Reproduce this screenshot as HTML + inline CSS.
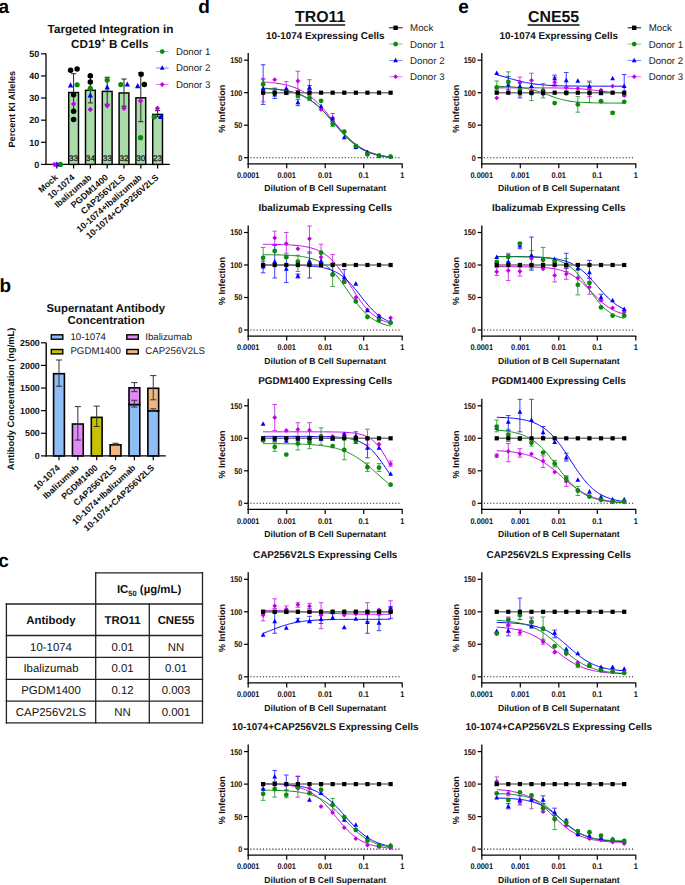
<!DOCTYPE html>
<html><head><meta charset="utf-8"><style>
html,body{margin:0;padding:0;background:#fff;}
svg{display:block;}
text{font-family:"Liberation Sans", sans-serif;text-rendering:geometricPrecision;}
</style></head><body>
<svg width="685" height="885" viewBox="0 0 685 885">
<rect width="685" height="885" fill="#fff"/>
<text x="-1.50" y="12.90" font-size="19" font-weight="bold" text-anchor="start" fill="#000" >a</text>
<text x="-0.60" y="292.30" font-size="19" font-weight="bold" text-anchor="start" fill="#000" >b</text>
<text x="-1.80" y="567.30" font-size="19" font-weight="bold" text-anchor="start" fill="#000" >c</text>
<text x="198.30" y="12.90" font-size="19" font-weight="bold" text-anchor="start" fill="#000" >d</text>
<text x="458.20" y="12.90" font-size="19" font-weight="bold" text-anchor="start" fill="#000" >e</text>
<text x="110.50" y="33.20" font-size="11.7" font-weight="bold" text-anchor="middle" fill="#111" >Targeted Integration in</text>
<text x="109.8" y="47.7" font-size="11.7" font-weight="bold" text-anchor="middle" fill="#111">CD19<tspan font-size="8" dy="-4.5">+</tspan><tspan dy="4.5"> B Cells</tspan></text>
<line x1="46.00" y1="53.40" x2="46.00" y2="165.00" stroke="#000" stroke-width="1.3" />
<line x1="45.40" y1="164.40" x2="169.80" y2="164.40" stroke="#000" stroke-width="1.3" />
<line x1="41.00" y1="164.40" x2="46.00" y2="164.40" stroke="#000" stroke-width="1.2" />
<text x="39.20" y="167.70" font-size="9.0" font-weight="bold" text-anchor="end" fill="#111" >0</text>
<line x1="41.00" y1="142.28" x2="46.00" y2="142.28" stroke="#000" stroke-width="1.2" />
<text x="39.20" y="145.58" font-size="9.0" font-weight="bold" text-anchor="end" fill="#111" >10</text>
<line x1="41.00" y1="120.16" x2="46.00" y2="120.16" stroke="#000" stroke-width="1.2" />
<text x="39.20" y="123.46" font-size="9.0" font-weight="bold" text-anchor="end" fill="#111" >20</text>
<line x1="41.00" y1="98.04" x2="46.00" y2="98.04" stroke="#000" stroke-width="1.2" />
<text x="39.20" y="101.34" font-size="9.0" font-weight="bold" text-anchor="end" fill="#111" >30</text>
<line x1="41.00" y1="75.92" x2="46.00" y2="75.92" stroke="#000" stroke-width="1.2" />
<text x="39.20" y="79.22" font-size="9.0" font-weight="bold" text-anchor="end" fill="#111" >40</text>
<line x1="41.00" y1="53.80" x2="46.00" y2="53.80" stroke="#000" stroke-width="1.2" />
<text x="39.20" y="57.10" font-size="9.0" font-weight="bold" text-anchor="end" fill="#111" >50</text>
<text transform="translate(15.2,109.2) rotate(-90)" font-size="9.1" font-weight="bold" text-anchor="middle" fill="#111">Percent KI Alleles</text>
<rect x="68.70" y="92.51" width="9.8" height="71.89" fill="#aadcaa" stroke="#000" stroke-width="1.45"/>
<rect x="85.50" y="90.30" width="9.8" height="74.10" fill="#aadcaa" stroke="#000" stroke-width="1.45"/>
<rect x="102.30" y="91.40" width="9.8" height="73.00" fill="#aadcaa" stroke="#000" stroke-width="1.45"/>
<rect x="119.10" y="92.95" width="9.8" height="71.45" fill="#aadcaa" stroke="#000" stroke-width="1.45"/>
<rect x="135.90" y="97.82" width="9.8" height="66.58" fill="#aadcaa" stroke="#000" stroke-width="1.45"/>
<rect x="152.70" y="114.41" width="9.8" height="49.99" fill="#aadcaa" stroke="#000" stroke-width="1.45"/>
<line x1="56.80" y1="164.40" x2="56.80" y2="168.60" stroke="#000" stroke-width="1.2" />
<line x1="73.60" y1="164.40" x2="73.60" y2="168.60" stroke="#000" stroke-width="1.2" />
<line x1="90.40" y1="164.40" x2="90.40" y2="168.60" stroke="#000" stroke-width="1.2" />
<line x1="107.20" y1="164.40" x2="107.20" y2="168.60" stroke="#000" stroke-width="1.2" />
<line x1="124.00" y1="164.40" x2="124.00" y2="168.60" stroke="#000" stroke-width="1.2" />
<line x1="140.80" y1="164.40" x2="140.80" y2="168.60" stroke="#000" stroke-width="1.2" />
<line x1="157.60" y1="164.40" x2="157.60" y2="168.60" stroke="#000" stroke-width="1.2" />
<line x1="73.60" y1="111.31" x2="73.60" y2="73.71" stroke="#222" stroke-width="1.0" />
<line x1="71.00" y1="73.71" x2="76.20" y2="73.71" stroke="#222" stroke-width="1.0" />
<line x1="71.00" y1="111.31" x2="76.20" y2="111.31" stroke="#222" stroke-width="1.0" />
<line x1="90.40" y1="102.91" x2="90.40" y2="77.25" stroke="#222" stroke-width="1.0" />
<line x1="87.80" y1="77.25" x2="93.00" y2="77.25" stroke="#222" stroke-width="1.0" />
<line x1="87.80" y1="102.91" x2="93.00" y2="102.91" stroke="#222" stroke-width="1.0" />
<line x1="107.20" y1="104.23" x2="107.20" y2="77.25" stroke="#222" stroke-width="1.0" />
<line x1="104.60" y1="77.25" x2="109.80" y2="77.25" stroke="#222" stroke-width="1.0" />
<line x1="104.60" y1="104.23" x2="109.80" y2="104.23" stroke="#222" stroke-width="1.0" />
<line x1="124.00" y1="106.22" x2="124.00" y2="79.02" stroke="#222" stroke-width="1.0" />
<line x1="121.40" y1="79.02" x2="126.60" y2="79.02" stroke="#222" stroke-width="1.0" />
<line x1="121.40" y1="106.22" x2="126.60" y2="106.22" stroke="#222" stroke-width="1.0" />
<line x1="140.80" y1="121.71" x2="140.80" y2="72.60" stroke="#222" stroke-width="1.0" />
<line x1="138.20" y1="72.60" x2="143.40" y2="72.60" stroke="#222" stroke-width="1.0" />
<line x1="138.20" y1="121.71" x2="143.40" y2="121.71" stroke="#222" stroke-width="1.0" />
<line x1="157.60" y1="116.84" x2="157.60" y2="110.65" stroke="#222" stroke-width="1.0" />
<line x1="155.00" y1="110.65" x2="160.20" y2="110.65" stroke="#222" stroke-width="1.0" />
<line x1="155.00" y1="116.84" x2="160.20" y2="116.84" stroke="#222" stroke-width="1.0" />
<circle cx="60.40" cy="164.40" r="2.6" fill="#0b8a0b"/>
<path d="M56.80 161.32L59.50 166.45L54.10 166.45Z" fill="#0000ff"/>
<path d="M54.40 161.70L57.10 164.40L54.40 167.10L51.70 164.40Z" fill="#c400e8"/>
<circle cx="70.60" cy="70.17" r="2.75" fill="#000"/>
<circle cx="77.10" cy="69.06" r="2.75" fill="#000"/>
<circle cx="73.60" cy="94.72" r="2.75" fill="#000"/>
<circle cx="73.60" cy="111.31" r="2.75" fill="#000"/>
<circle cx="73.60" cy="119.50" r="2.75" fill="#000"/>
<path d="M70.60 82.35L73.30 87.48L67.90 87.48Z" fill="#0000ff"/>
<circle cx="77.10" cy="84.77" r="2.6" fill="#0b8a0b"/>
<path d="M73.60 101.31L76.30 104.01L73.60 106.71L70.90 104.01Z" fill="#c400e8"/>
<circle cx="90.30" cy="75.70" r="2.75" fill="#000"/>
<circle cx="90.30" cy="81.89" r="2.75" fill="#000"/>
<circle cx="90.30" cy="88.31" r="2.6" fill="#0b8a0b"/>
<path d="M90.30 92.31L93.00 97.44L87.60 97.44Z" fill="#0000ff"/>
<path d="M90.30 106.84L93.00 109.54L90.30 112.24L87.60 109.54Z" fill="#c400e8"/>
<circle cx="107.20" cy="80.12" r="2.6" fill="#0b8a0b"/>
<path d="M107.20 84.34L109.90 89.47L104.50 89.47Z" fill="#0000ff"/>
<path d="M107.20 103.08L109.90 105.78L107.20 108.48L104.50 105.78Z" fill="#c400e8"/>
<circle cx="120.80" cy="84.55" r="2.6" fill="#0b8a0b"/>
<path d="M127.30 81.47L130.00 86.60L124.60 86.60Z" fill="#0000ff"/>
<path d="M124.00 105.52L126.70 108.22L124.00 110.92L121.30 108.22Z" fill="#c400e8"/>
<circle cx="141.10" cy="74.15" r="2.75" fill="#000"/>
<circle cx="144.30" cy="84.55" r="2.75" fill="#000"/>
<path d="M137.70 83.02L140.40 88.15L135.00 88.15Z" fill="#0000ff"/>
<path d="M140.60 98.22L143.30 100.92L140.60 103.62L137.90 100.92Z" fill="#c400e8"/>
<circle cx="140.60" cy="137.63" r="2.6" fill="#0b8a0b"/>
<path d="M157.40 105.52L160.10 108.22L157.40 110.92L154.70 108.22Z" fill="#c400e8"/>
<circle cx="154.20" cy="116.84" r="2.6" fill="#0b8a0b"/>
<path d="M160.70 113.76L163.40 118.89L158.00 118.89Z" fill="#0000ff"/>
<text x="73.60" y="160.80" font-size="8.2" font-weight="normal" text-anchor="middle" fill="#1a1a1a" stroke="#1a1a1a" stroke-width="0.3">33</text>
<text x="90.40" y="160.80" font-size="8.2" font-weight="normal" text-anchor="middle" fill="#1a1a1a" stroke="#1a1a1a" stroke-width="0.3">34</text>
<text x="107.20" y="160.80" font-size="8.2" font-weight="normal" text-anchor="middle" fill="#1a1a1a" stroke="#1a1a1a" stroke-width="0.3">33</text>
<text x="124.00" y="160.80" font-size="8.2" font-weight="normal" text-anchor="middle" fill="#1a1a1a" stroke="#1a1a1a" stroke-width="0.3">32</text>
<text x="140.80" y="160.80" font-size="8.2" font-weight="normal" text-anchor="middle" fill="#1a1a1a" stroke="#1a1a1a" stroke-width="0.3">30</text>
<text x="157.60" y="160.80" font-size="8.2" font-weight="normal" text-anchor="middle" fill="#1a1a1a" stroke="#1a1a1a" stroke-width="0.3">23</text>
<text transform="translate(58.40,178.40) rotate(-41)" font-size="8.8" font-weight="bold" text-anchor="end" fill="#111">Mock</text>
<text transform="translate(75.20,178.40) rotate(-41)" font-size="8.8" font-weight="bold" text-anchor="end" fill="#111">10-1074</text>
<text transform="translate(92.00,178.40) rotate(-41)" font-size="8.8" font-weight="bold" text-anchor="end" fill="#111">Ibalizumab</text>
<text transform="translate(108.80,178.40) rotate(-41)" font-size="8.8" font-weight="bold" text-anchor="end" fill="#111">PGDM1400</text>
<text transform="translate(125.60,178.40) rotate(-41)" font-size="8.8" font-weight="bold" text-anchor="end" fill="#111">CAP256V2LS</text>
<text transform="translate(142.40,178.40) rotate(-41)" font-size="8.8" font-weight="bold" text-anchor="end" fill="#111">10-1074+Ibalizumab</text>
<text transform="translate(159.20,178.40) rotate(-41)" font-size="8.8" font-weight="bold" text-anchor="end" fill="#111">10-1074+CAP256V2LS</text>
<line x1="155.80" y1="51.60" x2="168.70" y2="51.60" stroke="#7fc77f" stroke-width="1.0" />
<circle cx="162.20" cy="51.60" r="2.4" fill="#0b8a0b"/>
<text x="175.90" y="55.00" font-size="9.7" font-weight="normal" text-anchor="start" fill="#222" >Donor 1</text>
<line x1="155.80" y1="68.05" x2="168.70" y2="68.05" stroke="#8080ff" stroke-width="1.0" />
<path d="M162.20 65.31L164.60 69.87L159.80 69.87Z" fill="#0000ff"/>
<text x="175.90" y="71.45" font-size="9.7" font-weight="normal" text-anchor="start" fill="#222" >Donor 2</text>
<line x1="155.80" y1="84.50" x2="168.70" y2="84.50" stroke="#e080f5" stroke-width="1.0" />
<path d="M162.20 82.10L164.60 84.50L162.20 86.90L159.80 84.50Z" fill="#c400e8"/>
<text x="175.90" y="87.90" font-size="9.7" font-weight="normal" text-anchor="start" fill="#222" >Donor 3</text>
<text x="105.80" y="312.40" font-size="11.4" font-weight="bold" text-anchor="middle" fill="#111" >Supernatant Antibody</text>
<text x="106.10" y="324.00" font-size="11.4" font-weight="bold" text-anchor="middle" fill="#111" >Concentration</text>
<line x1="46.20" y1="342.80" x2="46.20" y2="456.50" stroke="#000" stroke-width="1.4" />
<line x1="45.50" y1="455.90" x2="165.80" y2="455.90" stroke="#000" stroke-width="1.4" />
<line x1="41.00" y1="455.90" x2="46.00" y2="455.90" stroke="#000" stroke-width="1.2" />
<text x="39.80" y="459.10" font-size="8.9" font-weight="bold" text-anchor="end" fill="#111" >0</text>
<line x1="41.00" y1="433.28" x2="46.00" y2="433.28" stroke="#000" stroke-width="1.2" />
<text x="39.80" y="436.48" font-size="8.9" font-weight="bold" text-anchor="end" fill="#111" >500</text>
<line x1="41.00" y1="410.66" x2="46.00" y2="410.66" stroke="#000" stroke-width="1.2" />
<text x="39.80" y="413.86" font-size="8.9" font-weight="bold" text-anchor="end" fill="#111" >1000</text>
<line x1="41.00" y1="388.04" x2="46.00" y2="388.04" stroke="#000" stroke-width="1.2" />
<text x="39.80" y="391.24" font-size="8.9" font-weight="bold" text-anchor="end" fill="#111" >1500</text>
<line x1="41.00" y1="365.42" x2="46.00" y2="365.42" stroke="#000" stroke-width="1.2" />
<text x="39.80" y="368.62" font-size="8.9" font-weight="bold" text-anchor="end" fill="#111" >2000</text>
<line x1="41.00" y1="342.80" x2="46.00" y2="342.80" stroke="#000" stroke-width="1.2" />
<text x="39.80" y="346.00" font-size="8.9" font-weight="bold" text-anchor="end" fill="#111" >2500</text>
<text transform="translate(14.2,399.0) rotate(-90)" font-size="9.3" font-weight="bold" text-anchor="middle" fill="#111">Antibody Concentration (ng/mL)</text>
<rect x="53.60" y="373.70" width="10.8" height="82.20" fill="#8fbef6" stroke="#000" stroke-width="1.6"/>
<line x1="59.00" y1="386.23" x2="59.00" y2="359.99" stroke="#333" stroke-width="1.0" />
<line x1="55.90" y1="359.99" x2="62.10" y2="359.99" stroke="#333" stroke-width="1.0" />
<line x1="55.90" y1="386.23" x2="62.10" y2="386.23" stroke="#333" stroke-width="1.0" />
<rect x="72.45" y="424.01" width="10.8" height="31.89" fill="#e08af6" stroke="#000" stroke-width="1.6"/>
<line x1="77.85" y1="440.07" x2="77.85" y2="406.59" stroke="#333" stroke-width="1.0" />
<line x1="74.75" y1="406.59" x2="80.95" y2="406.59" stroke="#333" stroke-width="1.0" />
<line x1="74.75" y1="440.07" x2="80.95" y2="440.07" stroke="#333" stroke-width="1.0" />
<rect x="91.30" y="417.36" width="10.8" height="38.54" fill="#c6c200" stroke="#000" stroke-width="1.6"/>
<line x1="96.70" y1="426.49" x2="96.70" y2="406.14" stroke="#333" stroke-width="1.0" />
<line x1="93.60" y1="406.14" x2="99.80" y2="406.14" stroke="#333" stroke-width="1.0" />
<line x1="93.60" y1="426.49" x2="99.80" y2="426.49" stroke="#333" stroke-width="1.0" />
<rect x="110.15" y="444.82" width="10.8" height="11.08" fill="#f2b682" stroke="#000" stroke-width="1.6"/>
<line x1="115.55" y1="444.82" x2="115.55" y2="443.23" stroke="#333" stroke-width="1.0" />
<line x1="112.45" y1="443.23" x2="118.65" y2="443.23" stroke="#333" stroke-width="1.0" />
<line x1="112.45" y1="444.82" x2="118.65" y2="444.82" stroke="#333" stroke-width="1.0" />
<rect x="129.00" y="404.55" width="10.8" height="51.35" fill="#8fbef6" stroke="#000" stroke-width="1.6"/>
<rect x="129.00" y="387.81" width="10.8" height="16.74" fill="#e08af6" stroke="#000" stroke-width="1.6"/>
<line x1="134.40" y1="407.04" x2="134.40" y2="400.25" stroke="#333" stroke-width="1.0" />
<line x1="131.30" y1="400.25" x2="137.50" y2="400.25" stroke="#333" stroke-width="1.0" />
<line x1="131.30" y1="407.04" x2="137.50" y2="407.04" stroke="#333" stroke-width="1.0" />
<line x1="134.40" y1="391.66" x2="134.40" y2="382.61" stroke="#333" stroke-width="1.0" />
<line x1="131.30" y1="382.61" x2="137.50" y2="382.61" stroke="#333" stroke-width="1.0" />
<line x1="131.30" y1="391.66" x2="137.50" y2="391.66" stroke="#333" stroke-width="1.0" />
<rect x="147.85" y="410.89" width="10.8" height="45.01" fill="#8fbef6" stroke="#000" stroke-width="1.6"/>
<rect x="147.85" y="388.27" width="10.8" height="22.62" fill="#f2b682" stroke="#000" stroke-width="1.6"/>
<line x1="153.25" y1="411.11" x2="153.25" y2="408.85" stroke="#333" stroke-width="1.0" />
<line x1="150.15" y1="408.85" x2="156.35" y2="408.85" stroke="#333" stroke-width="1.0" />
<line x1="150.15" y1="411.11" x2="156.35" y2="411.11" stroke="#333" stroke-width="1.0" />
<line x1="153.25" y1="399.80" x2="153.25" y2="375.60" stroke="#333" stroke-width="1.0" />
<line x1="150.15" y1="375.60" x2="156.35" y2="375.60" stroke="#333" stroke-width="1.0" />
<line x1="150.15" y1="399.80" x2="156.35" y2="399.80" stroke="#333" stroke-width="1.0" />
<line x1="59.00" y1="455.90" x2="59.00" y2="460.20" stroke="#000" stroke-width="1.2" />
<line x1="77.85" y1="455.90" x2="77.85" y2="460.20" stroke="#000" stroke-width="1.2" />
<line x1="96.70" y1="455.90" x2="96.70" y2="460.20" stroke="#000" stroke-width="1.2" />
<line x1="115.55" y1="455.90" x2="115.55" y2="460.20" stroke="#000" stroke-width="1.2" />
<line x1="134.40" y1="455.90" x2="134.40" y2="460.20" stroke="#000" stroke-width="1.2" />
<line x1="153.25" y1="455.90" x2="153.25" y2="460.20" stroke="#000" stroke-width="1.2" />
<text transform="translate(60.60,468.60) rotate(-43)" font-size="8.8" font-weight="bold" text-anchor="end" fill="#111">10-1074</text>
<text transform="translate(79.45,468.60) rotate(-43)" font-size="8.8" font-weight="bold" text-anchor="end" fill="#111">Ibalizumab</text>
<text transform="translate(98.30,468.60) rotate(-43)" font-size="8.8" font-weight="bold" text-anchor="end" fill="#111">PGDM1400</text>
<text transform="translate(117.15,468.60) rotate(-43)" font-size="8.8" font-weight="bold" text-anchor="end" fill="#111">CAP256V2LS</text>
<text transform="translate(136.00,468.60) rotate(-43)" font-size="8.8" font-weight="bold" text-anchor="end" fill="#111">10-1074+Ibalizumab</text>
<text transform="translate(154.85,468.60) rotate(-43)" font-size="8.8" font-weight="bold" text-anchor="end" fill="#111">10-1074+CAP256V2LS</text>
<rect x="51.30" y="334.80" width="11.5" height="4.4" fill="#8fbef6" stroke="#000" stroke-width="1.4"/>
<text x="70.40" y="339.70" font-size="9.7" font-weight="normal" text-anchor="start" fill="#222" >10-1074</text>
<rect x="126.80" y="334.80" width="11.5" height="4.4" fill="#e08af6" stroke="#000" stroke-width="1.4"/>
<text x="145.20" y="339.70" font-size="9.7" font-weight="normal" text-anchor="start" fill="#222" >Ibalizumab</text>
<rect x="51.30" y="349.50" width="11.5" height="4.4" fill="#c6c200" stroke="#000" stroke-width="1.4"/>
<text x="70.40" y="354.40" font-size="9.7" font-weight="normal" text-anchor="start" fill="#222" >PGDM1400</text>
<rect x="126.80" y="349.50" width="11.5" height="4.4" fill="#f2b682" stroke="#000" stroke-width="1.4"/>
<text x="145.20" y="354.40" font-size="9.7" font-weight="normal" text-anchor="start" fill="#222" >CAP256V2LS</text>
<line x1="95.70" y1="572.80" x2="202.50" y2="572.80" stroke="#222" stroke-width="1.3" stroke-linecap="square"/>
<line x1="6.40" y1="604.00" x2="202.50" y2="604.00" stroke="#222" stroke-width="1.3" stroke-linecap="square"/>
<line x1="6.40" y1="635.50" x2="202.50" y2="635.50" stroke="#222" stroke-width="1.3" stroke-linecap="square"/>
<line x1="6.40" y1="657.30" x2="202.50" y2="657.30" stroke="#222" stroke-width="1.3" stroke-linecap="square"/>
<line x1="6.40" y1="679.40" x2="202.50" y2="679.40" stroke="#222" stroke-width="1.3" stroke-linecap="square"/>
<line x1="6.40" y1="701.20" x2="202.50" y2="701.20" stroke="#222" stroke-width="1.3" stroke-linecap="square"/>
<line x1="6.40" y1="722.90" x2="202.50" y2="722.90" stroke="#222" stroke-width="1.3" stroke-linecap="square"/>
<line x1="6.40" y1="604.00" x2="6.40" y2="722.90" stroke="#222" stroke-width="1.3" stroke-linecap="square"/>
<line x1="95.70" y1="572.80" x2="95.70" y2="722.90" stroke="#222" stroke-width="1.3" stroke-linecap="square"/>
<line x1="149.30" y1="604.00" x2="149.30" y2="722.90" stroke="#222" stroke-width="1.3" stroke-linecap="square"/>
<line x1="202.50" y1="572.80" x2="202.50" y2="722.90" stroke="#222" stroke-width="1.3" stroke-linecap="square"/>
<text x="149.1" y="593.0" font-size="11.4" font-weight="bold" text-anchor="middle" fill="#111">IC<tspan font-size="7.5" dy="2.5">50</tspan><tspan dy="-2.5"> (µg/mL)</tspan></text>
<text x="51.00" y="623.50" font-size="11.4" font-weight="bold" text-anchor="middle" fill="#111" >Antibody</text>
<text x="122.50" y="623.50" font-size="11.4" font-weight="bold" text-anchor="middle" fill="#111" >TRO11</text>
<text x="176.00" y="623.50" font-size="11.4" font-weight="bold" text-anchor="middle" fill="#111" >CNE55</text>
<text x="51.00" y="650.50" font-size="11.4" font-weight="normal" text-anchor="middle" fill="#111" >10-1074</text>
<text x="122.50" y="650.50" font-size="11.4" font-weight="normal" text-anchor="middle" fill="#111" >0.01</text>
<text x="176.00" y="650.50" font-size="11.4" font-weight="normal" text-anchor="middle" fill="#111" >NN</text>
<text x="51.00" y="672.45" font-size="11.4" font-weight="normal" text-anchor="middle" fill="#111" >Ibalizumab</text>
<text x="122.50" y="672.45" font-size="11.4" font-weight="normal" text-anchor="middle" fill="#111" >0.01</text>
<text x="176.00" y="672.45" font-size="11.4" font-weight="normal" text-anchor="middle" fill="#111" >0.01</text>
<text x="51.00" y="694.40" font-size="11.4" font-weight="normal" text-anchor="middle" fill="#111" >PGDM1400</text>
<text x="122.50" y="694.40" font-size="11.4" font-weight="normal" text-anchor="middle" fill="#111" >0.12</text>
<text x="176.00" y="694.40" font-size="11.4" font-weight="normal" text-anchor="middle" fill="#111" >0.003</text>
<text x="51.00" y="716.15" font-size="11.4" font-weight="normal" text-anchor="middle" fill="#111" >CAP256V2LS</text>
<text x="122.50" y="716.15" font-size="11.4" font-weight="normal" text-anchor="middle" fill="#111" >NN</text>
<text x="176.00" y="716.15" font-size="11.4" font-weight="normal" text-anchor="middle" fill="#111" >0.001</text>
<text x="320.2" y="22.4" font-size="15.9" font-weight="bold" text-anchor="middle" fill="#111">TRO11</text>
<line x1="295.20" y1="25.00" x2="345.20" y2="25.00" stroke="#111" stroke-width="1.4" />
<text x="553.6" y="22.4" font-size="15.9" font-weight="bold" text-anchor="middle" fill="#111">CNE55</text>
<line x1="527.60" y1="25.00" x2="579.60" y2="25.00" stroke="#111" stroke-width="1.4" />
<text x="325.20" y="38.80" font-size="9.9" font-weight="bold" text-anchor="middle" fill="#111" >10-1074 Expressing Cells</text>
<line x1="250.30" y1="157.70" x2="400.80" y2="157.70" stroke="#222" stroke-width="1.05" stroke-dasharray="1.15 2.0"/>
<line x1="248.20" y1="53.10" x2="248.20" y2="164.40" stroke="#000" stroke-width="1.3" />
<line x1="247.60" y1="163.80" x2="402.60" y2="163.80" stroke="#000" stroke-width="1.3" />
<line x1="244.00" y1="157.70" x2="248.20" y2="157.70" stroke="#000" stroke-width="1.2" />
<text x="242.30" y="160.60" font-size="8.2" font-weight="bold" text-anchor="end" textLength="4.06" lengthAdjust="spacingAndGlyphs" fill="#111">0</text>
<line x1="244.00" y1="125.20" x2="248.20" y2="125.20" stroke="#000" stroke-width="1.2" />
<text x="242.30" y="128.10" font-size="8.2" font-weight="bold" text-anchor="end" textLength="8.12" lengthAdjust="spacingAndGlyphs" fill="#111">50</text>
<line x1="244.00" y1="92.70" x2="248.20" y2="92.70" stroke="#000" stroke-width="1.2" />
<text x="242.30" y="95.60" font-size="8.2" font-weight="bold" text-anchor="end" textLength="12.17" lengthAdjust="spacingAndGlyphs" fill="#111">100</text>
<line x1="244.00" y1="60.20" x2="248.20" y2="60.20" stroke="#000" stroke-width="1.2" />
<text x="242.30" y="63.10" font-size="8.2" font-weight="bold" text-anchor="end" textLength="12.17" lengthAdjust="spacingAndGlyphs" fill="#111">150</text>
<line x1="248.20" y1="163.80" x2="248.20" y2="168.30" stroke="#000" stroke-width="1.2" />
<text x="248.20" y="178.00" font-size="8.2" font-weight="bold" text-anchor="middle" textLength="22.57" lengthAdjust="spacingAndGlyphs" fill="#111">0.0001</text>
<line x1="286.70" y1="163.80" x2="286.70" y2="168.30" stroke="#000" stroke-width="1.2" />
<text x="286.70" y="178.00" font-size="8.2" font-weight="bold" text-anchor="middle" textLength="18.46" lengthAdjust="spacingAndGlyphs" fill="#111">0.001</text>
<line x1="325.20" y1="163.80" x2="325.20" y2="168.30" stroke="#000" stroke-width="1.2" />
<text x="325.20" y="178.00" font-size="8.2" font-weight="bold" text-anchor="middle" textLength="14.36" lengthAdjust="spacingAndGlyphs" fill="#111">0.01</text>
<line x1="363.70" y1="163.80" x2="363.70" y2="168.30" stroke="#000" stroke-width="1.2" />
<text x="363.70" y="178.00" font-size="8.2" font-weight="bold" text-anchor="middle" textLength="10.26" lengthAdjust="spacingAndGlyphs" fill="#111">0.1</text>
<line x1="402.20" y1="163.80" x2="402.20" y2="168.30" stroke="#000" stroke-width="1.2" />
<text x="402.20" y="178.00" font-size="8.2" font-weight="bold" text-anchor="middle" textLength="4.10" lengthAdjust="spacingAndGlyphs" fill="#111">1</text>
<text x="325.20" y="191.40" font-size="8.6" font-weight="bold" text-anchor="middle" fill="#111" >Dilution of B Cell Supernatant</text>
<text transform="translate(225.20,108.80) rotate(-90)" font-size="9.0" font-weight="bold" text-anchor="middle" fill="#111">% Infection</text>
<g stroke="#0000ff" stroke-width="1.0" opacity="0.75">
<line x1="263.12" y1="104.40" x2="263.12" y2="64.75" stroke="#0000ff" stroke-width="1.0" />
<line x1="260.82" y1="104.40" x2="265.42" y2="104.40" stroke="#0000ff" stroke-width="1.0" />
<line x1="260.82" y1="64.75" x2="265.42" y2="64.75" stroke="#0000ff" stroke-width="1.0" />
</g>
<g stroke="#0000ff" stroke-width="1.0" opacity="0.75">
<line x1="274.71" y1="98.55" x2="274.71" y2="88.15" stroke="#0000ff" stroke-width="1.0" />
<line x1="272.41" y1="98.55" x2="277.01" y2="98.55" stroke="#0000ff" stroke-width="1.0" />
<line x1="272.41" y1="88.15" x2="277.01" y2="88.15" stroke="#0000ff" stroke-width="1.0" />
</g>
<g stroke="#0000ff" stroke-width="1.0" opacity="0.75">
<line x1="297.89" y1="105.70" x2="297.89" y2="99.20" stroke="#0000ff" stroke-width="1.0" />
<line x1="295.59" y1="105.70" x2="300.19" y2="105.70" stroke="#0000ff" stroke-width="1.0" />
<line x1="295.59" y1="99.20" x2="300.19" y2="99.20" stroke="#0000ff" stroke-width="1.0" />
</g>
<g stroke="#0000ff" stroke-width="1.0" opacity="0.75">
<line x1="309.48" y1="91.40" x2="309.48" y2="85.55" stroke="#0000ff" stroke-width="1.0" />
<line x1="307.18" y1="91.40" x2="311.78" y2="91.40" stroke="#0000ff" stroke-width="1.0" />
<line x1="307.18" y1="85.55" x2="311.78" y2="85.55" stroke="#0000ff" stroke-width="1.0" />
</g>
<g stroke="#c400e8" stroke-width="1.0" opacity="0.75">
<line x1="263.12" y1="101.80" x2="263.12" y2="78.40" stroke="#c400e8" stroke-width="1.0" />
<line x1="260.82" y1="101.80" x2="265.42" y2="101.80" stroke="#c400e8" stroke-width="1.0" />
<line x1="260.82" y1="78.40" x2="265.42" y2="78.40" stroke="#c400e8" stroke-width="1.0" />
</g>
<g stroke="#c400e8" stroke-width="1.0" opacity="0.75">
<line x1="286.30" y1="94.65" x2="286.30" y2="81.65" stroke="#c400e8" stroke-width="1.0" />
<line x1="284.00" y1="94.65" x2="288.60" y2="94.65" stroke="#c400e8" stroke-width="1.0" />
<line x1="284.00" y1="81.65" x2="288.60" y2="81.65" stroke="#c400e8" stroke-width="1.0" />
</g>
<g stroke="#c400e8" stroke-width="1.0" opacity="0.75">
<line x1="297.89" y1="90.75" x2="297.89" y2="71.25" stroke="#c400e8" stroke-width="1.0" />
<line x1="295.59" y1="90.75" x2="300.19" y2="90.75" stroke="#c400e8" stroke-width="1.0" />
<line x1="295.59" y1="71.25" x2="300.19" y2="71.25" stroke="#c400e8" stroke-width="1.0" />
</g>
<g stroke="#c400e8" stroke-width="1.0" opacity="0.75">
<line x1="309.48" y1="99.20" x2="309.48" y2="79.70" stroke="#c400e8" stroke-width="1.0" />
<line x1="307.18" y1="99.20" x2="311.78" y2="99.20" stroke="#c400e8" stroke-width="1.0" />
<line x1="307.18" y1="79.70" x2="311.78" y2="79.70" stroke="#c400e8" stroke-width="1.0" />
</g>
<g stroke="#c400e8" stroke-width="1.0" opacity="0.75">
<line x1="332.66" y1="121.30" x2="332.66" y2="113.50" stroke="#c400e8" stroke-width="1.0" />
<line x1="330.36" y1="121.30" x2="334.96" y2="121.30" stroke="#c400e8" stroke-width="1.0" />
<line x1="330.36" y1="113.50" x2="334.96" y2="113.50" stroke="#c400e8" stroke-width="1.0" />
</g>
<g stroke="#0b8a0b" stroke-width="1.0" opacity="0.75">
<line x1="263.12" y1="92.70" x2="263.12" y2="79.70" stroke="#0b8a0b" stroke-width="1.0" />
<line x1="260.82" y1="92.70" x2="265.42" y2="92.70" stroke="#0b8a0b" stroke-width="1.0" />
<line x1="260.82" y1="79.70" x2="265.42" y2="79.70" stroke="#0b8a0b" stroke-width="1.0" />
</g>
<g stroke="#0b8a0b" stroke-width="1.0" opacity="0.75">
<line x1="309.48" y1="100.50" x2="309.48" y2="95.30" stroke="#0b8a0b" stroke-width="1.0" />
<line x1="307.18" y1="100.50" x2="311.78" y2="100.50" stroke="#0b8a0b" stroke-width="1.0" />
<line x1="307.18" y1="95.30" x2="311.78" y2="95.30" stroke="#0b8a0b" stroke-width="1.0" />
</g>
<g stroke="#0b8a0b" stroke-width="1.0" opacity="0.75">
<line x1="332.66" y1="126.50" x2="332.66" y2="121.30" stroke="#0b8a0b" stroke-width="1.0" />
<line x1="330.36" y1="126.50" x2="334.96" y2="126.50" stroke="#0b8a0b" stroke-width="1.0" />
<line x1="330.36" y1="121.30" x2="334.96" y2="121.30" stroke="#0b8a0b" stroke-width="1.0" />
</g>
<polyline points="263.12,81.98 264.19,82.05 265.25,82.12 266.31,82.19 267.37,82.27 268.44,82.36 269.50,82.45 270.56,82.55 271.62,82.66 272.69,82.77 273.75,82.89 274.81,83.01 275.87,83.15 276.94,83.29 278.00,83.44 279.06,83.61 280.12,83.78 281.18,83.97 282.25,84.16 283.31,84.37 284.37,84.59 285.43,84.83 286.50,85.08 287.56,85.34 288.62,85.63 289.68,85.92 290.75,86.24 291.81,86.58 292.87,86.93 293.93,87.31 295.00,87.71 296.06,88.13 297.12,88.57 298.18,89.04 299.25,89.53 300.31,90.05 301.37,90.60 302.43,91.18 303.49,91.78 304.56,92.42 305.62,93.08 306.68,93.78 307.74,94.51 308.81,95.27 309.87,96.07 310.93,96.89 311.99,97.75 313.06,98.65 314.12,99.58 315.18,100.54 316.24,101.53 317.31,102.55 318.37,103.61 319.43,104.70 320.49,105.81 321.56,106.95 322.62,108.12 323.68,109.31 324.74,110.53 325.80,111.76 326.87,113.01 327.93,114.28 328.99,115.56 330.05,116.85 331.12,118.14 332.18,119.44 333.24,120.74 334.30,122.04 335.37,123.34 336.43,124.62 337.49,125.90 338.55,127.16 339.62,128.41 340.68,129.64 341.74,130.86 342.80,132.04 343.87,133.21 344.93,134.35 345.99,135.46 347.05,136.54 348.11,137.59 349.18,138.61 350.24,139.60 351.30,140.56 352.36,141.48 353.43,142.37 354.49,143.23 355.55,144.05 356.61,144.84 357.68,145.60 358.74,146.32 359.80,147.01 360.86,147.67 361.93,148.30 362.99,148.91 364.05,149.48 365.11,150.02 366.18,150.54 367.24,151.03 368.30,151.49 369.36,151.93 370.43,152.35 371.49,152.75 372.55,153.12 373.61,153.47 374.67,153.80 375.74,154.12 376.80,154.42 377.86,154.69 378.92,154.96 379.99,155.21 381.05,155.44 382.11,155.66 383.17,155.87 384.24,156.06 385.30,156.24 386.36,156.42 387.42,156.58 388.49,156.73 389.55,156.87 390.61,157.01" fill="none" stroke="#c400e8" stroke-width="1.0"/>
<polyline points="263.12,88.49 264.19,88.53 265.25,88.59 266.31,88.64 267.37,88.70 268.44,88.76 269.50,88.83 270.56,88.90 271.62,88.98 272.69,89.06 273.75,89.15 274.81,89.24 275.87,89.34 276.94,89.45 278.00,89.56 279.06,89.68 280.12,89.81 281.18,89.95 282.25,90.10 283.31,90.26 284.37,90.43 285.43,90.61 286.50,90.81 287.56,91.01 288.62,91.23 289.68,91.47 290.75,91.72 291.81,91.98 292.87,92.26 293.93,92.56 295.00,92.88 296.06,93.22 297.12,93.58 298.18,93.96 299.25,94.36 300.31,94.79 301.37,95.24 302.43,95.72 303.49,96.22 304.56,96.75 305.62,97.31 306.68,97.90 307.74,98.52 308.81,99.18 309.87,99.86 310.93,100.57 311.99,101.32 313.06,102.10 314.12,102.92 315.18,103.76 316.24,104.65 317.31,105.56 318.37,106.51 319.43,107.49 320.49,108.50 321.56,109.54 322.62,110.60 323.68,111.70 324.74,112.82 325.80,113.97 326.87,115.13 327.93,116.32 328.99,117.52 330.05,118.74 331.12,119.96 332.18,121.20 333.24,122.44 334.30,123.68 335.37,124.93 336.43,126.17 337.49,127.40 338.55,128.62 339.62,129.83 340.68,131.03 341.74,132.20 342.80,133.36 343.87,134.50 344.93,135.61 345.99,136.69 347.05,137.75 348.11,138.77 349.18,139.77 350.24,140.74 351.30,141.67 352.36,142.57 353.43,143.43 354.49,144.27 355.55,145.07 356.61,145.83 357.68,146.57 358.74,147.27 359.80,147.94 360.86,148.57 361.93,149.18 362.99,149.76 364.05,150.31 365.11,150.83 366.18,151.32 367.24,151.78 368.30,152.22 369.36,152.64 370.43,153.03 371.49,153.41 372.55,153.76 373.61,154.08 374.67,154.40 375.74,154.69 376.80,154.96 377.86,155.22 378.92,155.46 379.99,155.69 381.05,155.90 382.11,156.10 383.17,156.29 384.24,156.47 385.30,156.63 386.36,156.79 387.42,156.93 388.49,157.07 389.55,157.20 390.61,157.32" fill="none" stroke="#0000ff" stroke-width="1.0"/>
<polyline points="263.12,88.21 264.19,88.26 265.25,88.31 266.31,88.37 267.37,88.43 268.44,88.50 269.50,88.57 270.56,88.64 271.62,88.72 272.69,88.81 273.75,88.90 274.81,88.99 275.87,89.10 276.94,89.21 278.00,89.33 279.06,89.45 280.12,89.59 281.18,89.73 282.25,89.89 283.31,90.05 284.37,90.22 285.43,90.41 286.50,90.61 287.56,90.82 288.62,91.04 289.68,91.28 290.75,91.53 291.81,91.80 292.87,92.09 293.93,92.39 295.00,92.71 296.06,93.05 297.12,93.42 298.18,93.80 299.25,94.20 300.31,94.63 301.37,95.09 302.43,95.56 303.49,96.07 304.56,96.60 305.62,97.16 306.68,97.75 307.74,98.36 308.81,99.01 309.87,99.69 310.93,100.40 311.99,101.14 313.06,101.91 314.12,102.72 315.18,103.56 316.24,104.43 317.31,105.33 318.37,106.27 319.43,107.23 320.49,108.23 321.56,109.25 322.62,110.30 323.68,111.38 324.74,112.48 325.80,113.61 326.87,114.76 327.93,115.93 328.99,117.11 330.05,118.31 331.12,119.51 332.18,120.73 333.24,121.95 334.30,123.18 335.37,124.41 336.43,125.63 337.49,126.85 338.55,128.06 339.62,129.26 340.68,130.44 341.74,131.61 342.80,132.76 343.87,133.89 344.93,134.99 345.99,136.08 347.05,137.13 348.11,138.16 349.18,139.16 350.24,140.13 351.30,141.06 352.36,141.97 353.43,142.84 354.49,143.69 355.55,144.50 356.61,145.27 357.68,146.02 358.74,146.73 359.80,147.41 360.86,148.06 361.93,148.68 362.99,149.28 364.05,149.84 365.11,150.37 366.18,150.88 367.24,151.36 368.30,151.82 369.36,152.25 370.43,152.66 371.49,153.04 372.55,153.41 373.61,153.75 374.67,154.07 375.74,154.38 376.80,154.67 377.86,154.94 378.92,155.19 379.99,155.43 381.05,155.66 382.11,155.87 383.17,156.07 384.24,156.26 385.30,156.43 386.36,156.60 387.42,156.75 388.49,156.90 389.55,157.03 390.61,157.16" fill="none" stroke="#0b8a0b" stroke-width="1.0"/>
<polyline points="263.12,92.70 274.71,92.70 286.30,92.70 297.89,92.70 309.48,92.70 321.07,92.70 332.66,92.70 344.25,92.70 355.84,92.70 367.43,92.70 379.02,92.70 390.61,92.70" fill="none" stroke="#777" stroke-width="1.5"/>
<path d="M263.12 87.05L265.52 89.45L263.12 91.85L260.72 89.45Z" fill="#c400e8"/>
<path d="M274.71 77.30L277.11 79.70L274.71 82.10L272.31 79.70Z" fill="#c400e8"/>
<path d="M286.30 87.05L288.70 89.45L286.30 91.85L283.90 89.45Z" fill="#c400e8"/>
<path d="M297.89 78.60L300.29 81.00L297.89 83.40L295.49 81.00Z" fill="#c400e8"/>
<path d="M309.48 87.05L311.88 89.45L309.48 91.85L307.08 89.45Z" fill="#c400e8"/>
<path d="M321.07 107.20L323.47 109.60L321.07 112.00L318.67 109.60Z" fill="#c400e8"/>
<path d="M332.66 115.65L335.06 118.05L332.66 120.45L330.26 118.05Z" fill="#c400e8"/>
<path d="M344.25 129.30L346.65 131.70L344.25 134.10L341.85 131.70Z" fill="#c400e8"/>
<path d="M355.84 144.90L358.24 147.30L355.84 149.70L353.44 147.30Z" fill="#c400e8"/>
<path d="M367.43 150.10L369.83 152.50L367.43 154.90L365.03 152.50Z" fill="#c400e8"/>
<path d="M379.02 153.35L381.42 155.75L379.02 158.15L376.62 155.75Z" fill="#c400e8"/>
<path d="M390.61 154.32L393.01 156.72L390.61 159.12L388.21 156.72Z" fill="#c400e8"/>
<path d="M263.12 86.06L265.52 90.62L260.72 90.62Z" fill="#0000ff"/>
<path d="M274.71 91.91L277.11 96.47L272.31 96.47Z" fill="#0000ff"/>
<path d="M286.30 86.06L288.70 90.62L283.90 90.62Z" fill="#0000ff"/>
<path d="M297.89 99.71L300.29 104.27L295.49 104.27Z" fill="#0000ff"/>
<path d="M309.48 84.76L311.88 89.32L307.08 89.32Z" fill="#0000ff"/>
<path d="M321.07 103.61L323.47 108.17L318.67 108.17Z" fill="#0000ff"/>
<path d="M332.66 115.96L335.06 120.52L330.26 120.52Z" fill="#0000ff"/>
<path d="M344.25 134.81L346.65 139.37L341.85 139.37Z" fill="#0000ff"/>
<path d="M355.84 144.56L358.24 149.12L353.44 149.12Z" fill="#0000ff"/>
<path d="M367.43 149.76L369.83 154.32L365.03 154.32Z" fill="#0000ff"/>
<path d="M379.02 153.01L381.42 157.57L376.62 157.57Z" fill="#0000ff"/>
<path d="M390.61 153.66L393.01 158.22L388.21 158.22Z" fill="#0000ff"/>
<circle cx="263.12" cy="84.25" r="2.4" fill="#0b8a0b"/>
<circle cx="274.71" cy="92.70" r="2.4" fill="#0b8a0b"/>
<circle cx="286.30" cy="92.70" r="2.4" fill="#0b8a0b"/>
<circle cx="297.89" cy="95.95" r="2.4" fill="#0b8a0b"/>
<circle cx="309.48" cy="97.90" r="2.4" fill="#0b8a0b"/>
<circle cx="321.07" cy="100.82" r="2.4" fill="#0b8a0b"/>
<circle cx="332.66" cy="123.90" r="2.4" fill="#0b8a0b"/>
<circle cx="344.25" cy="131.70" r="2.4" fill="#0b8a0b"/>
<circle cx="355.84" cy="146.00" r="2.4" fill="#0b8a0b"/>
<circle cx="367.43" cy="154.45" r="2.4" fill="#0b8a0b"/>
<circle cx="379.02" cy="155.75" r="2.4" fill="#0b8a0b"/>
<circle cx="390.61" cy="156.72" r="2.4" fill="#0b8a0b"/>
<rect x="261.02" y="90.60" width="4.2" height="4.2" fill="#000"/>
<rect x="272.61" y="90.60" width="4.2" height="4.2" fill="#000"/>
<rect x="284.20" y="90.60" width="4.2" height="4.2" fill="#000"/>
<rect x="295.79" y="90.60" width="4.2" height="4.2" fill="#000"/>
<rect x="307.38" y="90.60" width="4.2" height="4.2" fill="#000"/>
<rect x="318.97" y="90.60" width="4.2" height="4.2" fill="#000"/>
<rect x="330.56" y="90.60" width="4.2" height="4.2" fill="#000"/>
<rect x="342.15" y="90.60" width="4.2" height="4.2" fill="#000"/>
<rect x="353.74" y="90.60" width="4.2" height="4.2" fill="#000"/>
<rect x="365.33" y="90.60" width="4.2" height="4.2" fill="#000"/>
<rect x="376.92" y="90.60" width="4.2" height="4.2" fill="#000"/>
<rect x="388.51" y="90.60" width="4.2" height="4.2" fill="#000"/>
<line x1="389.00" y1="27.80" x2="402.50" y2="27.80" stroke="#111" stroke-width="1.0" />
<rect x="393.40" y="25.60" width="4.4" height="4.4" fill="#000"/>
<text x="410.10" y="31.30" font-size="9.7" font-weight="normal" text-anchor="start" fill="#222" >Mock</text>
<line x1="389.00" y1="44.10" x2="402.50" y2="44.10" stroke="#7fc77f" stroke-width="1.0" />
<circle cx="395.60" cy="44.10" r="2.4" fill="#0b8a0b"/>
<text x="410.10" y="47.60" font-size="9.7" font-weight="normal" text-anchor="start" fill="#222" >Donor 1</text>
<line x1="389.00" y1="60.40" x2="402.50" y2="60.40" stroke="#8080ff" stroke-width="1.0" />
<path d="M395.60 57.66L398.00 62.22L393.20 62.22Z" fill="#0000ff"/>
<text x="410.10" y="63.90" font-size="9.7" font-weight="normal" text-anchor="start" fill="#222" >Donor 2</text>
<line x1="389.00" y1="76.70" x2="402.50" y2="76.70" stroke="#e080f5" stroke-width="1.0" />
<path d="M395.60 74.30L398.00 76.70L395.60 79.10L393.20 76.70Z" fill="#c400e8"/>
<text x="410.10" y="80.20" font-size="9.7" font-weight="normal" text-anchor="start" fill="#222" >Donor 3</text>
<text x="325.20" y="211.10" font-size="9.9" font-weight="bold" text-anchor="middle" fill="#111" >Ibalizumab Expressing Cells</text>
<line x1="250.30" y1="330.00" x2="400.80" y2="330.00" stroke="#222" stroke-width="1.05" stroke-dasharray="1.15 2.0"/>
<line x1="248.20" y1="225.40" x2="248.20" y2="336.70" stroke="#000" stroke-width="1.3" />
<line x1="247.60" y1="336.10" x2="402.60" y2="336.10" stroke="#000" stroke-width="1.3" />
<line x1="244.00" y1="330.00" x2="248.20" y2="330.00" stroke="#000" stroke-width="1.2" />
<text x="242.30" y="332.90" font-size="8.2" font-weight="bold" text-anchor="end" textLength="4.06" lengthAdjust="spacingAndGlyphs" fill="#111">0</text>
<line x1="244.00" y1="297.50" x2="248.20" y2="297.50" stroke="#000" stroke-width="1.2" />
<text x="242.30" y="300.40" font-size="8.2" font-weight="bold" text-anchor="end" textLength="8.12" lengthAdjust="spacingAndGlyphs" fill="#111">50</text>
<line x1="244.00" y1="265.00" x2="248.20" y2="265.00" stroke="#000" stroke-width="1.2" />
<text x="242.30" y="267.90" font-size="8.2" font-weight="bold" text-anchor="end" textLength="12.17" lengthAdjust="spacingAndGlyphs" fill="#111">100</text>
<line x1="244.00" y1="232.50" x2="248.20" y2="232.50" stroke="#000" stroke-width="1.2" />
<text x="242.30" y="235.40" font-size="8.2" font-weight="bold" text-anchor="end" textLength="12.17" lengthAdjust="spacingAndGlyphs" fill="#111">150</text>
<line x1="248.20" y1="336.10" x2="248.20" y2="340.60" stroke="#000" stroke-width="1.2" />
<text x="248.20" y="350.30" font-size="8.2" font-weight="bold" text-anchor="middle" textLength="22.57" lengthAdjust="spacingAndGlyphs" fill="#111">0.0001</text>
<line x1="286.70" y1="336.10" x2="286.70" y2="340.60" stroke="#000" stroke-width="1.2" />
<text x="286.70" y="350.30" font-size="8.2" font-weight="bold" text-anchor="middle" textLength="18.46" lengthAdjust="spacingAndGlyphs" fill="#111">0.001</text>
<line x1="325.20" y1="336.10" x2="325.20" y2="340.60" stroke="#000" stroke-width="1.2" />
<text x="325.20" y="350.30" font-size="8.2" font-weight="bold" text-anchor="middle" textLength="14.36" lengthAdjust="spacingAndGlyphs" fill="#111">0.01</text>
<line x1="363.70" y1="336.10" x2="363.70" y2="340.60" stroke="#000" stroke-width="1.2" />
<text x="363.70" y="350.30" font-size="8.2" font-weight="bold" text-anchor="middle" textLength="10.26" lengthAdjust="spacingAndGlyphs" fill="#111">0.1</text>
<line x1="402.20" y1="336.10" x2="402.20" y2="340.60" stroke="#000" stroke-width="1.2" />
<text x="402.20" y="350.30" font-size="8.2" font-weight="bold" text-anchor="middle" textLength="4.10" lengthAdjust="spacingAndGlyphs" fill="#111">1</text>
<text x="325.20" y="363.70" font-size="8.6" font-weight="bold" text-anchor="middle" fill="#111" >Dilution of B Cell Supernatant</text>
<text transform="translate(225.20,281.10) rotate(-90)" font-size="9.0" font-weight="bold" text-anchor="middle" fill="#111">% Infection</text>
<g stroke="#0000ff" stroke-width="1.0" opacity="0.75">
<line x1="263.12" y1="272.80" x2="263.12" y2="261.10" stroke="#0000ff" stroke-width="1.0" />
<line x1="260.82" y1="272.80" x2="265.42" y2="272.80" stroke="#0000ff" stroke-width="1.0" />
<line x1="260.82" y1="261.10" x2="265.42" y2="261.10" stroke="#0000ff" stroke-width="1.0" />
</g>
<g stroke="#0000ff" stroke-width="1.0" opacity="0.75">
<line x1="274.71" y1="278.00" x2="274.71" y2="245.50" stroke="#0000ff" stroke-width="1.0" />
<line x1="272.41" y1="278.00" x2="277.01" y2="278.00" stroke="#0000ff" stroke-width="1.0" />
<line x1="272.41" y1="245.50" x2="277.01" y2="245.50" stroke="#0000ff" stroke-width="1.0" />
</g>
<g stroke="#0000ff" stroke-width="1.0" opacity="0.75">
<line x1="286.30" y1="282.55" x2="286.30" y2="255.25" stroke="#0000ff" stroke-width="1.0" />
<line x1="284.00" y1="282.55" x2="288.60" y2="282.55" stroke="#0000ff" stroke-width="1.0" />
<line x1="284.00" y1="255.25" x2="288.60" y2="255.25" stroke="#0000ff" stroke-width="1.0" />
</g>
<g stroke="#0000ff" stroke-width="1.0" opacity="0.75">
<line x1="297.89" y1="278.00" x2="297.89" y2="274.10" stroke="#0000ff" stroke-width="1.0" />
<line x1="295.59" y1="278.00" x2="300.19" y2="278.00" stroke="#0000ff" stroke-width="1.0" />
<line x1="295.59" y1="274.10" x2="300.19" y2="274.10" stroke="#0000ff" stroke-width="1.0" />
</g>
<g stroke="#0000ff" stroke-width="1.0" opacity="0.75">
<line x1="309.48" y1="278.00" x2="309.48" y2="252.00" stroke="#0000ff" stroke-width="1.0" />
<line x1="307.18" y1="278.00" x2="311.78" y2="278.00" stroke="#0000ff" stroke-width="1.0" />
<line x1="307.18" y1="252.00" x2="311.78" y2="252.00" stroke="#0000ff" stroke-width="1.0" />
</g>
<g stroke="#0000ff" stroke-width="1.0" opacity="0.75">
<line x1="344.25" y1="282.55" x2="344.25" y2="269.55" stroke="#0000ff" stroke-width="1.0" />
<line x1="341.95" y1="282.55" x2="346.55" y2="282.55" stroke="#0000ff" stroke-width="1.0" />
<line x1="341.95" y1="269.55" x2="346.55" y2="269.55" stroke="#0000ff" stroke-width="1.0" />
</g>
<g stroke="#c400e8" stroke-width="1.0" opacity="0.75">
<line x1="274.71" y1="244.20" x2="274.71" y2="231.20" stroke="#c400e8" stroke-width="1.0" />
<line x1="272.41" y1="244.20" x2="277.01" y2="244.20" stroke="#c400e8" stroke-width="1.0" />
<line x1="272.41" y1="231.20" x2="277.01" y2="231.20" stroke="#c400e8" stroke-width="1.0" />
</g>
<g stroke="#c400e8" stroke-width="1.0" opacity="0.75">
<line x1="286.30" y1="253.30" x2="286.30" y2="232.50" stroke="#c400e8" stroke-width="1.0" />
<line x1="284.00" y1="253.30" x2="288.60" y2="253.30" stroke="#c400e8" stroke-width="1.0" />
<line x1="284.00" y1="232.50" x2="288.60" y2="232.50" stroke="#c400e8" stroke-width="1.0" />
</g>
<g stroke="#c400e8" stroke-width="1.0" opacity="0.75">
<line x1="309.48" y1="253.30" x2="309.48" y2="226.00" stroke="#c400e8" stroke-width="1.0" />
<line x1="307.18" y1="253.30" x2="311.78" y2="253.30" stroke="#c400e8" stroke-width="1.0" />
<line x1="307.18" y1="226.00" x2="311.78" y2="226.00" stroke="#c400e8" stroke-width="1.0" />
</g>
<g stroke="#c400e8" stroke-width="1.0" opacity="0.75">
<line x1="321.07" y1="262.40" x2="321.07" y2="244.20" stroke="#c400e8" stroke-width="1.0" />
<line x1="318.77" y1="262.40" x2="323.37" y2="262.40" stroke="#c400e8" stroke-width="1.0" />
<line x1="318.77" y1="244.20" x2="323.37" y2="244.20" stroke="#c400e8" stroke-width="1.0" />
</g>
<g stroke="#c400e8" stroke-width="1.0" opacity="0.75">
<line x1="332.66" y1="274.75" x2="332.66" y2="254.60" stroke="#c400e8" stroke-width="1.0" />
<line x1="330.36" y1="274.75" x2="334.96" y2="274.75" stroke="#c400e8" stroke-width="1.0" />
<line x1="330.36" y1="254.60" x2="334.96" y2="254.60" stroke="#c400e8" stroke-width="1.0" />
</g>
<g stroke="#0b8a0b" stroke-width="1.0" opacity="0.75">
<line x1="263.12" y1="265.00" x2="263.12" y2="247.45" stroke="#0b8a0b" stroke-width="1.0" />
<line x1="260.82" y1="265.00" x2="265.42" y2="265.00" stroke="#0b8a0b" stroke-width="1.0" />
<line x1="260.82" y1="247.45" x2="265.42" y2="247.45" stroke="#0b8a0b" stroke-width="1.0" />
</g>
<g stroke="#0b8a0b" stroke-width="1.0" opacity="0.75">
<line x1="297.89" y1="271.50" x2="297.89" y2="255.25" stroke="#0b8a0b" stroke-width="1.0" />
<line x1="295.59" y1="271.50" x2="300.19" y2="271.50" stroke="#0b8a0b" stroke-width="1.0" />
<line x1="295.59" y1="255.25" x2="300.19" y2="255.25" stroke="#0b8a0b" stroke-width="1.0" />
</g>
<g stroke="#0b8a0b" stroke-width="1.0" opacity="0.75">
<line x1="332.66" y1="286.45" x2="332.66" y2="263.05" stroke="#0b8a0b" stroke-width="1.0" />
<line x1="330.36" y1="286.45" x2="334.96" y2="286.45" stroke="#0b8a0b" stroke-width="1.0" />
<line x1="330.36" y1="263.05" x2="334.96" y2="263.05" stroke="#0b8a0b" stroke-width="1.0" />
</g>
<polyline points="263.12,244.29 264.19,244.30 265.25,244.31 266.31,244.32 267.37,244.33 268.44,244.34 269.50,244.35 270.56,244.37 271.62,244.38 272.69,244.40 273.75,244.41 274.81,244.43 275.87,244.45 276.94,244.47 278.00,244.50 279.06,244.52 280.12,244.55 281.18,244.58 282.25,244.61 283.31,244.65 284.37,244.69 285.43,244.73 286.50,244.77 287.56,244.82 288.62,244.87 289.68,244.93 290.75,244.99 291.81,245.06 292.87,245.14 293.93,245.21 295.00,245.30 296.06,245.39 297.12,245.50 298.18,245.61 299.25,245.72 300.31,245.85 301.37,245.99 302.43,246.14 303.49,246.31 304.56,246.48 305.62,246.67 306.68,246.88 307.74,247.10 308.81,247.34 309.87,247.60 310.93,247.88 311.99,248.18 313.06,248.51 314.12,248.86 315.18,249.23 316.24,249.64 317.31,250.07 318.37,250.54 319.43,251.04 320.49,251.58 321.56,252.15 322.62,252.77 323.68,253.42 324.74,254.12 325.80,254.86 326.87,255.65 327.93,256.49 328.99,257.38 330.05,258.32 331.12,259.32 332.18,260.36 333.24,261.47 334.30,262.62 335.37,263.83 336.43,265.09 337.49,266.41 338.55,267.77 339.62,269.19 340.68,270.65 341.74,272.16 342.80,273.70 343.87,275.29 344.93,276.90 345.99,278.55 347.05,280.21 348.11,281.90 349.18,283.60 350.24,285.30 351.30,287.00 352.36,288.70 353.43,290.39 354.49,292.06 355.55,293.71 356.61,295.33 357.68,296.92 358.74,298.48 359.80,299.99 360.86,301.47 361.93,302.89 362.99,304.27 364.05,305.59 365.11,306.87 366.18,308.09 367.24,309.25 368.30,310.36 369.36,311.42 370.43,312.43 371.49,313.38 372.55,314.28 373.61,315.13 374.67,315.93 375.74,316.68 376.80,317.39 377.86,318.05 378.92,318.68 379.99,319.26 381.05,319.80 382.11,320.31 383.17,320.78 384.24,321.22 385.30,321.64 386.36,322.02 387.42,322.37 388.49,322.70 389.55,323.01 390.61,323.29" fill="none" stroke="#c400e8" stroke-width="1.0"/>
<polyline points="263.12,265.02 264.19,265.02 265.25,265.02 266.31,265.03 267.37,265.03 268.44,265.03 269.50,265.03 270.56,265.04 271.62,265.04 272.69,265.04 273.75,265.05 274.81,265.05 275.87,265.06 276.94,265.06 278.00,265.07 279.06,265.07 280.12,265.08 281.18,265.09 282.25,265.10 283.31,265.10 284.37,265.11 285.43,265.12 286.50,265.14 287.56,265.15 288.62,265.16 289.68,265.18 290.75,265.19 291.81,265.21 292.87,265.23 293.93,265.25 295.00,265.27 296.06,265.30 297.12,265.33 298.18,265.36 299.25,265.39 300.31,265.42 301.37,265.46 302.43,265.50 303.49,265.55 304.56,265.60 305.62,265.65 306.68,265.71 307.74,265.78 308.81,265.85 309.87,265.93 310.93,266.01 311.99,266.10 313.06,266.20 314.12,266.31 315.18,266.42 316.24,266.55 317.31,266.69 318.37,266.84 319.43,267.00 320.49,267.18 321.56,267.37 322.62,267.58 323.68,267.80 324.74,268.05 325.80,268.31 326.87,268.60 327.93,268.91 328.99,269.24 330.05,269.60 331.12,269.99 332.18,270.40 333.24,270.85 334.30,271.33 335.37,271.85 336.43,272.40 337.49,272.99 338.55,273.62 339.62,274.29 340.68,275.01 341.74,275.76 342.80,276.57 343.87,277.41 344.93,278.31 345.99,279.24 347.05,280.23 348.11,281.26 349.18,282.33 350.24,283.44 351.30,284.59 352.36,285.79 353.43,287.01 354.49,288.27 355.55,289.55 356.61,290.86 357.68,292.19 358.74,293.53 359.80,294.88 360.86,296.23 361.93,297.58 362.99,298.93 364.05,300.26 365.11,301.58 366.18,302.87 367.24,304.15 368.30,305.39 369.36,306.59 370.43,307.77 371.49,308.90 372.55,309.99 373.61,311.04 374.67,312.04 375.74,313.00 376.80,313.92 377.86,314.79 378.92,315.61 379.99,316.39 381.05,317.12 382.11,317.81 383.17,318.46 384.24,319.07 385.30,319.64 386.36,320.18 387.42,320.67 388.49,321.14 389.55,321.57 390.61,321.97" fill="none" stroke="#0000ff" stroke-width="1.0"/>
<polyline points="263.12,254.70 264.19,254.71 265.25,254.72 266.31,254.73 267.37,254.74 268.44,254.75 269.50,254.76 270.56,254.77 271.62,254.79 272.69,254.81 273.75,254.82 274.81,254.84 275.87,254.86 276.94,254.89 278.00,254.91 279.06,254.94 280.12,254.97 281.18,255.00 282.25,255.03 283.31,255.07 284.37,255.11 285.43,255.15 286.50,255.20 287.56,255.25 288.62,255.30 289.68,255.36 290.75,255.43 291.81,255.50 292.87,255.58 293.93,255.66 295.00,255.75 296.06,255.85 297.12,255.95 298.18,256.07 299.25,256.19 300.31,256.32 301.37,256.47 302.43,256.62 303.49,256.79 304.56,256.98 305.62,257.17 306.68,257.39 307.74,257.62 308.81,257.87 309.87,258.13 310.93,258.42 311.99,258.73 313.06,259.07 314.12,259.43 315.18,259.81 316.24,260.23 317.31,260.67 318.37,261.15 319.43,261.66 320.49,262.21 321.56,262.79 322.62,263.41 323.68,264.07 324.74,264.78 325.80,265.52 326.87,266.31 327.93,267.15 328.99,268.04 330.05,268.97 331.12,269.95 332.18,270.98 333.24,272.06 334.30,273.18 335.37,274.36 336.43,275.58 337.49,276.84 338.55,278.15 339.62,279.49 340.68,280.88 341.74,282.30 342.80,283.74 343.87,285.21 344.93,286.71 345.99,288.22 347.05,289.74 348.11,291.27 349.18,292.80 350.24,294.32 351.30,295.84 352.36,297.34 353.43,298.83 354.49,300.29 355.55,301.72 356.61,303.12 357.68,304.49 358.74,305.81 359.80,307.10 360.86,308.34 361.93,309.54 362.99,310.69 364.05,311.79 365.11,312.84 366.18,313.85 367.24,314.81 368.30,315.71 369.36,316.57 370.43,317.39 371.49,318.16 372.55,318.88 373.61,319.57 374.67,320.21 375.74,320.81 376.80,321.37 377.86,321.90 378.92,322.39 379.99,322.85 381.05,323.28 382.11,323.68 383.17,324.06 384.24,324.40 385.30,324.73 386.36,325.03 387.42,325.30 388.49,325.56 389.55,325.80 390.61,326.02" fill="none" stroke="#0b8a0b" stroke-width="1.0"/>
<polyline points="263.12,265.00 274.71,265.00 286.30,265.00 297.89,265.00 309.48,265.00 321.07,265.00 332.66,265.00 344.25,265.00 355.84,265.00 367.43,265.00 379.02,265.00 390.61,265.00" fill="none" stroke="#777" stroke-width="1.5"/>
<path d="M263.12 264.23L265.52 266.62L263.12 269.02L260.72 266.62Z" fill="#c400e8"/>
<path d="M274.71 235.56L277.11 237.96L274.71 240.36L272.31 237.96Z" fill="#c400e8"/>
<path d="M286.30 241.15L288.70 243.55L286.30 245.95L283.90 243.55Z" fill="#c400e8"/>
<path d="M297.89 246.35L300.29 248.75L297.89 251.15L295.49 248.75Z" fill="#c400e8"/>
<path d="M309.48 236.28L311.88 238.68L309.48 241.08L307.08 238.68Z" fill="#c400e8"/>
<path d="M321.07 254.80L323.47 257.20L321.07 259.60L318.67 257.20Z" fill="#c400e8"/>
<path d="M332.66 262.60L335.06 265.00L332.66 267.40L330.26 265.00Z" fill="#c400e8"/>
<path d="M344.25 278.20L346.65 280.60L344.25 283.00L341.85 280.60Z" fill="#c400e8"/>
<path d="M355.84 295.10L358.24 297.50L355.84 299.90L353.44 297.50Z" fill="#c400e8"/>
<path d="M367.43 307.45L369.83 309.85L367.43 312.25L365.03 309.85Z" fill="#c400e8"/>
<path d="M379.02 313.30L381.42 315.70L379.02 318.10L376.62 315.70Z" fill="#c400e8"/>
<path d="M390.61 315.51L393.01 317.91L390.61 320.31L388.21 317.91Z" fill="#c400e8"/>
<path d="M263.12 263.89L265.52 268.45L260.72 268.45Z" fill="#0000ff"/>
<path d="M274.71 259.01L277.11 263.57L272.31 263.57Z" fill="#0000ff"/>
<path d="M286.30 266.16L288.70 270.72L283.90 270.72Z" fill="#0000ff"/>
<path d="M297.89 273.31L300.29 277.87L295.49 277.87Z" fill="#0000ff"/>
<path d="M309.48 258.36L311.88 262.92L307.08 262.92Z" fill="#0000ff"/>
<path d="M321.07 258.36L323.47 262.92L318.67 262.92Z" fill="#0000ff"/>
<path d="M332.66 270.71L335.06 275.27L330.26 275.27Z" fill="#0000ff"/>
<path d="M344.25 274.61L346.65 279.17L341.85 279.17Z" fill="#0000ff"/>
<path d="M355.84 281.11L358.24 285.67L353.44 285.67Z" fill="#0000ff"/>
<path d="M367.43 307.76L369.83 312.32L365.03 312.32Z" fill="#0000ff"/>
<path d="M379.02 314.26L381.42 318.82L376.62 318.82Z" fill="#0000ff"/>
<path d="M390.61 318.81L393.01 323.37L388.21 323.37Z" fill="#0000ff"/>
<circle cx="263.12" cy="257.85" r="2.4" fill="#0b8a0b"/>
<circle cx="274.71" cy="251.02" r="2.4" fill="#0b8a0b"/>
<circle cx="286.30" cy="257.20" r="2.4" fill="#0b8a0b"/>
<circle cx="297.89" cy="261.75" r="2.4" fill="#0b8a0b"/>
<circle cx="309.48" cy="265.00" r="2.4" fill="#0b8a0b"/>
<circle cx="321.07" cy="252.65" r="2.4" fill="#0b8a0b"/>
<circle cx="332.66" cy="274.75" r="2.4" fill="#0b8a0b"/>
<circle cx="344.25" cy="281.90" r="2.4" fill="#0b8a0b"/>
<circle cx="355.84" cy="301.40" r="2.4" fill="#0b8a0b"/>
<circle cx="367.43" cy="317.00" r="2.4" fill="#0b8a0b"/>
<circle cx="379.02" cy="320.25" r="2.4" fill="#0b8a0b"/>
<circle cx="390.61" cy="322.85" r="2.4" fill="#0b8a0b"/>
<rect x="261.02" y="262.90" width="4.2" height="4.2" fill="#000"/>
<rect x="272.61" y="262.90" width="4.2" height="4.2" fill="#000"/>
<rect x="284.20" y="262.90" width="4.2" height="4.2" fill="#000"/>
<rect x="295.79" y="262.90" width="4.2" height="4.2" fill="#000"/>
<rect x="307.38" y="262.90" width="4.2" height="4.2" fill="#000"/>
<rect x="318.97" y="262.90" width="4.2" height="4.2" fill="#000"/>
<rect x="330.56" y="262.90" width="4.2" height="4.2" fill="#000"/>
<rect x="342.15" y="262.90" width="4.2" height="4.2" fill="#000"/>
<rect x="353.74" y="262.90" width="4.2" height="4.2" fill="#000"/>
<rect x="365.33" y="262.90" width="4.2" height="4.2" fill="#000"/>
<rect x="376.92" y="262.90" width="4.2" height="4.2" fill="#000"/>
<rect x="388.51" y="262.90" width="4.2" height="4.2" fill="#000"/>
<text x="325.20" y="384.40" font-size="9.9" font-weight="bold" text-anchor="middle" fill="#111" >PGDM1400 Expressing Cells</text>
<line x1="250.30" y1="503.30" x2="400.80" y2="503.30" stroke="#222" stroke-width="1.05" stroke-dasharray="1.15 2.0"/>
<line x1="248.20" y1="398.70" x2="248.20" y2="510.00" stroke="#000" stroke-width="1.3" />
<line x1="247.60" y1="509.40" x2="402.60" y2="509.40" stroke="#000" stroke-width="1.3" />
<line x1="244.00" y1="503.30" x2="248.20" y2="503.30" stroke="#000" stroke-width="1.2" />
<text x="242.30" y="506.20" font-size="8.2" font-weight="bold" text-anchor="end" textLength="4.06" lengthAdjust="spacingAndGlyphs" fill="#111">0</text>
<line x1="244.00" y1="470.80" x2="248.20" y2="470.80" stroke="#000" stroke-width="1.2" />
<text x="242.30" y="473.70" font-size="8.2" font-weight="bold" text-anchor="end" textLength="8.12" lengthAdjust="spacingAndGlyphs" fill="#111">50</text>
<line x1="244.00" y1="438.30" x2="248.20" y2="438.30" stroke="#000" stroke-width="1.2" />
<text x="242.30" y="441.20" font-size="8.2" font-weight="bold" text-anchor="end" textLength="12.17" lengthAdjust="spacingAndGlyphs" fill="#111">100</text>
<line x1="244.00" y1="405.80" x2="248.20" y2="405.80" stroke="#000" stroke-width="1.2" />
<text x="242.30" y="408.70" font-size="8.2" font-weight="bold" text-anchor="end" textLength="12.17" lengthAdjust="spacingAndGlyphs" fill="#111">150</text>
<line x1="248.20" y1="509.40" x2="248.20" y2="513.90" stroke="#000" stroke-width="1.2" />
<text x="248.20" y="523.60" font-size="8.2" font-weight="bold" text-anchor="middle" textLength="22.57" lengthAdjust="spacingAndGlyphs" fill="#111">0.0001</text>
<line x1="286.70" y1="509.40" x2="286.70" y2="513.90" stroke="#000" stroke-width="1.2" />
<text x="286.70" y="523.60" font-size="8.2" font-weight="bold" text-anchor="middle" textLength="18.46" lengthAdjust="spacingAndGlyphs" fill="#111">0.001</text>
<line x1="325.20" y1="509.40" x2="325.20" y2="513.90" stroke="#000" stroke-width="1.2" />
<text x="325.20" y="523.60" font-size="8.2" font-weight="bold" text-anchor="middle" textLength="14.36" lengthAdjust="spacingAndGlyphs" fill="#111">0.01</text>
<line x1="363.70" y1="509.40" x2="363.70" y2="513.90" stroke="#000" stroke-width="1.2" />
<text x="363.70" y="523.60" font-size="8.2" font-weight="bold" text-anchor="middle" textLength="10.26" lengthAdjust="spacingAndGlyphs" fill="#111">0.1</text>
<line x1="402.20" y1="509.40" x2="402.20" y2="513.90" stroke="#000" stroke-width="1.2" />
<text x="402.20" y="523.60" font-size="8.2" font-weight="bold" text-anchor="middle" textLength="4.10" lengthAdjust="spacingAndGlyphs" fill="#111">1</text>
<text x="325.20" y="537.00" font-size="8.6" font-weight="bold" text-anchor="middle" fill="#111" >Dilution of B Cell Supernatant</text>
<text transform="translate(225.20,454.40) rotate(-90)" font-size="9.0" font-weight="bold" text-anchor="middle" fill="#111">% Infection</text>
<g stroke="#0000ff" stroke-width="1.0" opacity="0.75">
<line x1="367.43" y1="457.80" x2="367.43" y2="438.30" stroke="#0000ff" stroke-width="1.0" />
<line x1="365.13" y1="457.80" x2="369.73" y2="457.80" stroke="#0000ff" stroke-width="1.0" />
<line x1="365.13" y1="438.30" x2="369.73" y2="438.30" stroke="#0000ff" stroke-width="1.0" />
</g>
<g stroke="#0000ff" stroke-width="1.0" opacity="0.75">
<line x1="355.84" y1="443.50" x2="355.84" y2="431.80" stroke="#0000ff" stroke-width="1.0" />
<line x1="353.54" y1="443.50" x2="358.14" y2="443.50" stroke="#0000ff" stroke-width="1.0" />
<line x1="353.54" y1="431.80" x2="358.14" y2="431.80" stroke="#0000ff" stroke-width="1.0" />
</g>
<g stroke="#c400e8" stroke-width="1.0" opacity="0.75">
<line x1="274.71" y1="430.50" x2="274.71" y2="404.50" stroke="#c400e8" stroke-width="1.0" />
<line x1="272.41" y1="430.50" x2="277.01" y2="430.50" stroke="#c400e8" stroke-width="1.0" />
<line x1="272.41" y1="404.50" x2="277.01" y2="404.50" stroke="#c400e8" stroke-width="1.0" />
</g>
<g stroke="#c400e8" stroke-width="1.0" opacity="0.75">
<line x1="297.89" y1="437.00" x2="297.89" y2="422.70" stroke="#c400e8" stroke-width="1.0" />
<line x1="295.59" y1="437.00" x2="300.19" y2="437.00" stroke="#c400e8" stroke-width="1.0" />
<line x1="295.59" y1="422.70" x2="300.19" y2="422.70" stroke="#c400e8" stroke-width="1.0" />
</g>
<g stroke="#c400e8" stroke-width="1.0" opacity="0.75">
<line x1="309.48" y1="437.00" x2="309.48" y2="422.70" stroke="#c400e8" stroke-width="1.0" />
<line x1="307.18" y1="437.00" x2="311.78" y2="437.00" stroke="#c400e8" stroke-width="1.0" />
<line x1="307.18" y1="422.70" x2="311.78" y2="422.70" stroke="#c400e8" stroke-width="1.0" />
</g>
<g stroke="#c400e8" stroke-width="1.0" opacity="0.75">
<line x1="367.43" y1="444.80" x2="367.43" y2="429.20" stroke="#c400e8" stroke-width="1.0" />
<line x1="365.13" y1="444.80" x2="369.73" y2="444.80" stroke="#c400e8" stroke-width="1.0" />
<line x1="365.13" y1="429.20" x2="369.73" y2="429.20" stroke="#c400e8" stroke-width="1.0" />
</g>
<g stroke="#c400e8" stroke-width="1.0" opacity="0.75">
<line x1="390.61" y1="466.25" x2="390.61" y2="461.05" stroke="#c400e8" stroke-width="1.0" />
<line x1="388.31" y1="466.25" x2="392.91" y2="466.25" stroke="#c400e8" stroke-width="1.0" />
<line x1="388.31" y1="461.05" x2="392.91" y2="461.05" stroke="#c400e8" stroke-width="1.0" />
</g>
<g stroke="#0b8a0b" stroke-width="1.0" opacity="0.75">
<line x1="274.71" y1="451.30" x2="274.71" y2="442.85" stroke="#0b8a0b" stroke-width="1.0" />
<line x1="272.41" y1="451.30" x2="277.01" y2="451.30" stroke="#0b8a0b" stroke-width="1.0" />
<line x1="272.41" y1="442.85" x2="277.01" y2="442.85" stroke="#0b8a0b" stroke-width="1.0" />
</g>
<g stroke="#0b8a0b" stroke-width="1.0" opacity="0.75">
<line x1="297.89" y1="450.00" x2="297.89" y2="437.00" stroke="#0b8a0b" stroke-width="1.0" />
<line x1="295.59" y1="450.00" x2="300.19" y2="450.00" stroke="#0b8a0b" stroke-width="1.0" />
<line x1="295.59" y1="437.00" x2="300.19" y2="437.00" stroke="#0b8a0b" stroke-width="1.0" />
</g>
<g stroke="#0b8a0b" stroke-width="1.0" opacity="0.75">
<line x1="309.48" y1="448.70" x2="309.48" y2="436.35" stroke="#0b8a0b" stroke-width="1.0" />
<line x1="307.18" y1="448.70" x2="311.78" y2="448.70" stroke="#0b8a0b" stroke-width="1.0" />
<line x1="307.18" y1="436.35" x2="311.78" y2="436.35" stroke="#0b8a0b" stroke-width="1.0" />
</g>
<g stroke="#0b8a0b" stroke-width="1.0" opacity="0.75">
<line x1="321.07" y1="444.80" x2="321.07" y2="427.90" stroke="#0b8a0b" stroke-width="1.0" />
<line x1="318.77" y1="444.80" x2="323.37" y2="444.80" stroke="#0b8a0b" stroke-width="1.0" />
<line x1="318.77" y1="427.90" x2="323.37" y2="427.90" stroke="#0b8a0b" stroke-width="1.0" />
</g>
<g stroke="#0b8a0b" stroke-width="1.0" opacity="0.75">
<line x1="344.25" y1="459.75" x2="344.25" y2="438.30" stroke="#0b8a0b" stroke-width="1.0" />
<line x1="341.95" y1="459.75" x2="346.55" y2="459.75" stroke="#0b8a0b" stroke-width="1.0" />
<line x1="341.95" y1="438.30" x2="346.55" y2="438.30" stroke="#0b8a0b" stroke-width="1.0" />
</g>
<g stroke="#0b8a0b" stroke-width="1.0" opacity="0.75">
<line x1="367.43" y1="471.45" x2="367.43" y2="463.00" stroke="#0b8a0b" stroke-width="1.0" />
<line x1="365.13" y1="471.45" x2="369.73" y2="471.45" stroke="#0b8a0b" stroke-width="1.0" />
<line x1="365.13" y1="463.00" x2="369.73" y2="463.00" stroke="#0b8a0b" stroke-width="1.0" />
</g>
<g stroke="#0b8a0b" stroke-width="1.0" opacity="0.75">
<line x1="379.02" y1="471.45" x2="379.02" y2="463.65" stroke="#0b8a0b" stroke-width="1.0" />
<line x1="376.72" y1="471.45" x2="381.32" y2="471.45" stroke="#0b8a0b" stroke-width="1.0" />
<line x1="376.72" y1="463.65" x2="381.32" y2="463.65" stroke="#0b8a0b" stroke-width="1.0" />
</g>
<polyline points="263.12,431.80 264.19,431.80 265.25,431.80 266.31,431.80 267.37,431.80 268.44,431.80 269.50,431.80 270.56,431.80 271.62,431.80 272.69,431.80 273.75,431.80 274.81,431.80 275.87,431.80 276.94,431.80 278.00,431.80 279.06,431.80 280.12,431.80 281.18,431.80 282.25,431.80 283.31,431.80 284.37,431.80 285.43,431.80 286.50,431.80 287.56,431.80 288.62,431.80 289.68,431.80 290.75,431.80 291.81,431.80 292.87,431.80 293.93,431.80 295.00,431.80 296.06,431.80 297.12,431.80 298.18,431.80 299.25,431.80 300.31,431.80 301.37,431.80 302.43,431.81 303.49,431.81 304.56,431.81 305.62,431.81 306.68,431.81 307.74,431.81 308.81,431.81 309.87,431.81 310.93,431.81 311.99,431.81 313.06,431.82 314.12,431.82 315.18,431.82 316.24,431.82 317.31,431.82 318.37,431.83 319.43,431.83 320.49,431.84 321.56,431.84 322.62,431.84 323.68,431.85 324.74,431.86 325.80,431.86 326.87,431.87 327.93,431.88 328.99,431.89 330.05,431.90 331.12,431.91 332.18,431.92 333.24,431.94 334.30,431.95 335.37,431.97 336.43,431.99 337.49,432.02 338.55,432.04 339.62,432.07 340.68,432.11 341.74,432.14 342.80,432.19 343.87,432.23 344.93,432.28 345.99,432.34 347.05,432.41 348.11,432.48 349.18,432.56 350.24,432.65 351.30,432.76 352.36,432.87 353.43,433.00 354.49,433.14 355.55,433.30 356.61,433.47 357.68,433.67 358.74,433.89 359.80,434.14 360.86,434.41 361.93,434.71 362.99,435.05 364.05,435.42 365.11,435.84 366.18,436.30 367.24,436.80 368.30,437.36 369.36,437.98 370.43,438.66 371.49,439.40 372.55,440.21 373.61,441.10 374.67,442.06 375.74,443.11 376.80,444.24 377.86,445.46 378.92,446.77 379.99,448.17 381.05,449.66 382.11,451.23 383.17,452.89 384.24,454.63 385.30,456.45 386.36,458.32 387.42,460.26 388.49,462.24 389.55,464.25 390.61,466.29" fill="none" stroke="#c400e8" stroke-width="1.0"/>
<polyline points="263.12,436.35 264.19,436.35 265.25,436.35 266.31,436.35 267.37,436.35 268.44,436.35 269.50,436.35 270.56,436.35 271.62,436.35 272.69,436.35 273.75,436.35 274.81,436.35 275.87,436.35 276.94,436.35 278.00,436.35 279.06,436.35 280.12,436.35 281.18,436.36 282.25,436.36 283.31,436.36 284.37,436.36 285.43,436.36 286.50,436.36 287.56,436.36 288.62,436.36 289.68,436.36 290.75,436.36 291.81,436.36 292.87,436.36 293.93,436.37 295.00,436.37 296.06,436.37 297.12,436.37 298.18,436.37 299.25,436.38 300.31,436.38 301.37,436.38 302.43,436.38 303.49,436.39 304.56,436.39 305.62,436.40 306.68,436.40 307.74,436.41 308.81,436.41 309.87,436.42 310.93,436.42 311.99,436.43 313.06,436.44 314.12,436.45 315.18,436.46 316.24,436.47 317.31,436.48 318.37,436.49 319.43,436.51 320.49,436.52 321.56,436.54 322.62,436.56 323.68,436.58 324.74,436.60 325.80,436.63 326.87,436.66 327.93,436.69 328.99,436.72 330.05,436.76 331.12,436.80 332.18,436.84 333.24,436.89 334.30,436.94 335.37,437.00 336.43,437.07 337.49,437.14 338.55,437.22 339.62,437.30 340.68,437.39 341.74,437.50 342.80,437.61 343.87,437.73 344.93,437.87 345.99,438.02 347.05,438.18 348.11,438.36 349.18,438.55 350.24,438.76 351.30,438.99 352.36,439.25 353.43,439.52 354.49,439.82 355.55,440.15 356.61,440.51 357.68,440.89 358.74,441.31 359.80,441.77 360.86,442.27 361.93,442.80 362.99,443.38 364.05,444.00 365.11,444.67 366.18,445.39 367.24,446.16 368.30,446.99 369.36,447.87 370.43,448.80 371.49,449.80 372.55,450.85 373.61,451.96 374.67,453.13 375.74,454.36 376.80,455.64 377.86,456.98 378.92,458.36 379.99,459.79 381.05,461.26 382.11,462.77 383.17,464.31 384.24,465.87 385.30,467.46 386.36,469.05 387.42,470.64 388.49,472.23 389.55,473.81 390.61,475.38" fill="none" stroke="#0000ff" stroke-width="1.0"/>
<polyline points="263.12,443.57 264.19,443.57 265.25,443.58 266.31,443.58 267.37,443.59 268.44,443.59 269.50,443.60 270.56,443.60 271.62,443.61 272.69,443.62 273.75,443.63 274.81,443.63 275.87,443.64 276.94,443.65 278.00,443.66 279.06,443.67 280.12,443.68 281.18,443.69 282.25,443.71 283.31,443.72 284.37,443.74 285.43,443.75 286.50,443.77 287.56,443.78 288.62,443.80 289.68,443.82 290.75,443.84 291.81,443.87 292.87,443.89 293.93,443.92 295.00,443.94 296.06,443.97 297.12,444.00 298.18,444.04 299.25,444.07 300.31,444.11 301.37,444.15 302.43,444.19 303.49,444.23 304.56,444.28 305.62,444.33 306.68,444.38 307.74,444.44 308.81,444.50 309.87,444.57 310.93,444.64 311.99,444.71 313.06,444.79 314.12,444.87 315.18,444.96 316.24,445.05 317.31,445.15 318.37,445.25 319.43,445.36 320.49,445.48 321.56,445.61 322.62,445.74 323.68,445.88 324.74,446.03 325.80,446.19 326.87,446.36 327.93,446.54 328.99,446.73 330.05,446.93 331.12,447.14 332.18,447.36 333.24,447.60 334.30,447.84 335.37,448.11 336.43,448.39 337.49,448.68 338.55,448.99 339.62,449.31 340.68,449.65 341.74,450.01 342.80,450.39 343.87,450.79 344.93,451.21 345.99,451.64 347.05,452.10 348.11,452.58 349.18,453.08 350.24,453.60 351.30,454.14 352.36,454.71 353.43,455.30 354.49,455.92 355.55,456.55 356.61,457.21 357.68,457.90 358.74,458.60 359.80,459.33 360.86,460.08 361.93,460.85 362.99,461.65 364.05,462.46 365.11,463.29 366.18,464.14 367.24,465.01 368.30,465.89 369.36,466.79 370.43,467.70 371.49,468.62 372.55,469.55 373.61,470.48 374.67,471.43 375.74,472.38 376.80,473.32 377.86,474.27 378.92,475.22 379.99,476.17 381.05,477.11 382.11,478.04 383.17,478.96 384.24,479.87 385.30,480.77 386.36,481.65 387.42,482.52 388.49,483.38 389.55,484.21 390.61,485.03" fill="none" stroke="#0b8a0b" stroke-width="1.0"/>
<polyline points="263.12,438.30 274.71,438.30 286.30,438.30 297.89,438.30 309.48,438.30 321.07,438.30 332.66,438.30 344.25,438.30 355.84,438.30 367.43,438.30 379.02,438.30 390.61,438.30" fill="none" stroke="#777" stroke-width="1.5"/>
<path d="M263.12 436.55L265.52 438.95L263.12 441.35L260.72 438.95Z" fill="#c400e8"/>
<path d="M274.71 415.10L277.11 417.50L274.71 419.90L272.31 417.50Z" fill="#c400e8"/>
<path d="M286.30 428.10L288.70 430.50L286.30 432.90L283.90 430.50Z" fill="#c400e8"/>
<path d="M297.89 427.06L300.29 429.46L297.89 431.86L295.49 429.46Z" fill="#c400e8"/>
<path d="M309.48 427.78L311.88 430.18L309.48 432.57L307.08 430.18Z" fill="#c400e8"/>
<path d="M321.07 436.55L323.47 438.95L321.07 441.35L318.67 438.95Z" fill="#c400e8"/>
<path d="M332.66 433.95L335.06 436.35L332.66 438.75L330.26 436.35Z" fill="#c400e8"/>
<path d="M344.25 431.68L346.65 434.07L344.25 436.47L341.85 434.07Z" fill="#c400e8"/>
<path d="M355.84 433.95L358.24 436.35L355.84 438.75L353.44 436.35Z" fill="#c400e8"/>
<path d="M367.43 436.55L369.83 438.95L367.43 441.35L365.03 438.95Z" fill="#c400e8"/>
<path d="M379.02 441.75L381.42 444.15L379.02 446.55L376.62 444.15Z" fill="#c400e8"/>
<path d="M390.61 461.51L393.01 463.91L390.61 466.31L388.21 463.91Z" fill="#c400e8"/>
<path d="M263.12 421.26L265.52 425.82L260.72 425.82Z" fill="#0000ff"/>
<path d="M274.71 437.19L277.11 441.75L272.31 441.75Z" fill="#0000ff"/>
<path d="M286.30 438.16L288.70 442.72L283.90 442.72Z" fill="#0000ff"/>
<path d="M297.89 436.21L300.29 440.77L295.49 440.77Z" fill="#0000ff"/>
<path d="M309.48 434.91L311.88 439.47L307.08 439.47Z" fill="#0000ff"/>
<path d="M321.07 436.21L323.47 440.77L318.67 440.77Z" fill="#0000ff"/>
<path d="M332.66 436.21L335.06 440.77L330.26 440.77Z" fill="#0000ff"/>
<path d="M344.25 431.66L346.65 436.22L341.85 436.22Z" fill="#0000ff"/>
<path d="M355.84 433.61L358.24 438.17L353.44 438.17Z" fill="#0000ff"/>
<path d="M367.43 445.31L369.83 449.87L365.03 449.87Z" fill="#0000ff"/>
<path d="M379.02 445.31L381.42 449.87L376.62 449.87Z" fill="#0000ff"/>
<path d="M390.61 471.31L393.01 475.87L388.21 475.87Z" fill="#0000ff"/>
<circle cx="263.12" cy="440.38" r="2.4" fill="#0b8a0b"/>
<circle cx="274.71" cy="446.94" r="2.4" fill="#0b8a0b"/>
<circle cx="286.30" cy="454.55" r="2.4" fill="#0b8a0b"/>
<circle cx="297.89" cy="443.50" r="2.4" fill="#0b8a0b"/>
<circle cx="309.48" cy="442.20" r="2.4" fill="#0b8a0b"/>
<circle cx="321.07" cy="436.35" r="2.4" fill="#0b8a0b"/>
<circle cx="332.66" cy="446.10" r="2.4" fill="#0b8a0b"/>
<circle cx="344.25" cy="450.00" r="2.4" fill="#0b8a0b"/>
<circle cx="355.84" cy="440.90" r="2.4" fill="#0b8a0b"/>
<circle cx="367.43" cy="467.23" r="2.4" fill="#0b8a0b"/>
<circle cx="379.02" cy="467.55" r="2.4" fill="#0b8a0b"/>
<circle cx="390.61" cy="484.64" r="2.4" fill="#0b8a0b"/>
<rect x="261.02" y="436.20" width="4.2" height="4.2" fill="#000"/>
<rect x="272.61" y="436.20" width="4.2" height="4.2" fill="#000"/>
<rect x="284.20" y="436.20" width="4.2" height="4.2" fill="#000"/>
<rect x="295.79" y="436.20" width="4.2" height="4.2" fill="#000"/>
<rect x="307.38" y="436.20" width="4.2" height="4.2" fill="#000"/>
<rect x="318.97" y="436.20" width="4.2" height="4.2" fill="#000"/>
<rect x="330.56" y="436.20" width="4.2" height="4.2" fill="#000"/>
<rect x="342.15" y="436.20" width="4.2" height="4.2" fill="#000"/>
<rect x="353.74" y="436.20" width="4.2" height="4.2" fill="#000"/>
<rect x="365.33" y="436.20" width="4.2" height="4.2" fill="#000"/>
<rect x="376.92" y="436.20" width="4.2" height="4.2" fill="#000"/>
<rect x="388.51" y="436.20" width="4.2" height="4.2" fill="#000"/>
<text x="325.20" y="557.90" font-size="9.9" font-weight="bold" text-anchor="middle" fill="#111" >CAP256V2LS Expressing Cells</text>
<line x1="250.30" y1="676.80" x2="400.80" y2="676.80" stroke="#222" stroke-width="1.05" stroke-dasharray="1.15 2.0"/>
<line x1="248.20" y1="572.20" x2="248.20" y2="683.50" stroke="#000" stroke-width="1.3" />
<line x1="247.60" y1="682.90" x2="402.60" y2="682.90" stroke="#000" stroke-width="1.3" />
<line x1="244.00" y1="676.80" x2="248.20" y2="676.80" stroke="#000" stroke-width="1.2" />
<text x="242.30" y="679.70" font-size="8.2" font-weight="bold" text-anchor="end" textLength="4.06" lengthAdjust="spacingAndGlyphs" fill="#111">0</text>
<line x1="244.00" y1="644.30" x2="248.20" y2="644.30" stroke="#000" stroke-width="1.2" />
<text x="242.30" y="647.20" font-size="8.2" font-weight="bold" text-anchor="end" textLength="8.12" lengthAdjust="spacingAndGlyphs" fill="#111">50</text>
<line x1="244.00" y1="611.80" x2="248.20" y2="611.80" stroke="#000" stroke-width="1.2" />
<text x="242.30" y="614.70" font-size="8.2" font-weight="bold" text-anchor="end" textLength="12.17" lengthAdjust="spacingAndGlyphs" fill="#111">100</text>
<line x1="244.00" y1="579.30" x2="248.20" y2="579.30" stroke="#000" stroke-width="1.2" />
<text x="242.30" y="582.20" font-size="8.2" font-weight="bold" text-anchor="end" textLength="12.17" lengthAdjust="spacingAndGlyphs" fill="#111">150</text>
<line x1="248.20" y1="682.90" x2="248.20" y2="687.40" stroke="#000" stroke-width="1.2" />
<text x="248.20" y="697.10" font-size="8.2" font-weight="bold" text-anchor="middle" textLength="22.57" lengthAdjust="spacingAndGlyphs" fill="#111">0.0001</text>
<line x1="286.70" y1="682.90" x2="286.70" y2="687.40" stroke="#000" stroke-width="1.2" />
<text x="286.70" y="697.10" font-size="8.2" font-weight="bold" text-anchor="middle" textLength="18.46" lengthAdjust="spacingAndGlyphs" fill="#111">0.001</text>
<line x1="325.20" y1="682.90" x2="325.20" y2="687.40" stroke="#000" stroke-width="1.2" />
<text x="325.20" y="697.10" font-size="8.2" font-weight="bold" text-anchor="middle" textLength="14.36" lengthAdjust="spacingAndGlyphs" fill="#111">0.01</text>
<line x1="363.70" y1="682.90" x2="363.70" y2="687.40" stroke="#000" stroke-width="1.2" />
<text x="363.70" y="697.10" font-size="8.2" font-weight="bold" text-anchor="middle" textLength="10.26" lengthAdjust="spacingAndGlyphs" fill="#111">0.1</text>
<line x1="402.20" y1="682.90" x2="402.20" y2="687.40" stroke="#000" stroke-width="1.2" />
<text x="402.20" y="697.10" font-size="8.2" font-weight="bold" text-anchor="middle" textLength="4.10" lengthAdjust="spacingAndGlyphs" fill="#111">1</text>
<text x="325.20" y="710.50" font-size="8.6" font-weight="bold" text-anchor="middle" fill="#111" >Dilution of B Cell Supernatant</text>
<text transform="translate(225.20,627.90) rotate(-90)" font-size="9.0" font-weight="bold" text-anchor="middle" fill="#111">% Infection</text>
<g stroke="#0000ff" stroke-width="1.0" opacity="0.75">
<line x1="274.71" y1="633.25" x2="274.71" y2="611.80" stroke="#0000ff" stroke-width="1.0" />
<line x1="272.41" y1="633.25" x2="277.01" y2="633.25" stroke="#0000ff" stroke-width="1.0" />
<line x1="272.41" y1="611.80" x2="277.01" y2="611.80" stroke="#0000ff" stroke-width="1.0" />
</g>
<g stroke="#0000ff" stroke-width="1.0" opacity="0.75">
<line x1="297.89" y1="621.55" x2="297.89" y2="618.30" stroke="#0000ff" stroke-width="1.0" />
<line x1="295.59" y1="621.55" x2="300.19" y2="621.55" stroke="#0000ff" stroke-width="1.0" />
<line x1="295.59" y1="618.30" x2="300.19" y2="618.30" stroke="#0000ff" stroke-width="1.0" />
</g>
<g stroke="#0000ff" stroke-width="1.0" opacity="0.75">
<line x1="309.48" y1="622.20" x2="309.48" y2="616.35" stroke="#0000ff" stroke-width="1.0" />
<line x1="307.18" y1="622.20" x2="311.78" y2="622.20" stroke="#0000ff" stroke-width="1.0" />
<line x1="307.18" y1="616.35" x2="311.78" y2="616.35" stroke="#0000ff" stroke-width="1.0" />
</g>
<g stroke="#0000ff" stroke-width="1.0" opacity="0.75">
<line x1="321.07" y1="623.50" x2="321.07" y2="615.05" stroke="#0000ff" stroke-width="1.0" />
<line x1="318.77" y1="623.50" x2="323.37" y2="623.50" stroke="#0000ff" stroke-width="1.0" />
<line x1="318.77" y1="615.05" x2="323.37" y2="615.05" stroke="#0000ff" stroke-width="1.0" />
</g>
<g stroke="#0000ff" stroke-width="1.0" opacity="0.75">
<line x1="332.66" y1="619.60" x2="332.66" y2="613.75" stroke="#0000ff" stroke-width="1.0" />
<line x1="330.36" y1="619.60" x2="334.96" y2="619.60" stroke="#0000ff" stroke-width="1.0" />
<line x1="330.36" y1="613.75" x2="334.96" y2="613.75" stroke="#0000ff" stroke-width="1.0" />
</g>
<g stroke="#0000ff" stroke-width="1.0" opacity="0.75">
<line x1="367.43" y1="633.25" x2="367.43" y2="611.80" stroke="#0000ff" stroke-width="1.0" />
<line x1="365.13" y1="633.25" x2="369.73" y2="633.25" stroke="#0000ff" stroke-width="1.0" />
<line x1="365.13" y1="611.80" x2="369.73" y2="611.80" stroke="#0000ff" stroke-width="1.0" />
</g>
<g stroke="#0000ff" stroke-width="1.0" opacity="0.75">
<line x1="379.02" y1="630.65" x2="379.02" y2="615.05" stroke="#0000ff" stroke-width="1.0" />
<line x1="376.72" y1="630.65" x2="381.32" y2="630.65" stroke="#0000ff" stroke-width="1.0" />
<line x1="376.72" y1="615.05" x2="381.32" y2="615.05" stroke="#0000ff" stroke-width="1.0" />
</g>
<g stroke="#0000ff" stroke-width="1.0" opacity="0.75">
<line x1="390.61" y1="618.30" x2="390.61" y2="606.60" stroke="#0000ff" stroke-width="1.0" />
<line x1="388.31" y1="618.30" x2="392.91" y2="618.30" stroke="#0000ff" stroke-width="1.0" />
<line x1="388.31" y1="606.60" x2="392.91" y2="606.60" stroke="#0000ff" stroke-width="1.0" />
</g>
<g stroke="#c400e8" stroke-width="1.0" opacity="0.75">
<line x1="263.12" y1="620.90" x2="263.12" y2="611.80" stroke="#c400e8" stroke-width="1.0" />
<line x1="260.82" y1="620.90" x2="265.42" y2="620.90" stroke="#c400e8" stroke-width="1.0" />
<line x1="260.82" y1="611.80" x2="265.42" y2="611.80" stroke="#c400e8" stroke-width="1.0" />
</g>
<g stroke="#c400e8" stroke-width="1.0" opacity="0.75">
<line x1="274.71" y1="608.55" x2="274.71" y2="598.80" stroke="#c400e8" stroke-width="1.0" />
<line x1="272.41" y1="608.55" x2="277.01" y2="608.55" stroke="#c400e8" stroke-width="1.0" />
<line x1="272.41" y1="598.80" x2="277.01" y2="598.80" stroke="#c400e8" stroke-width="1.0" />
</g>
<g stroke="#c400e8" stroke-width="1.0" opacity="0.75">
<line x1="286.30" y1="613.10" x2="286.30" y2="605.95" stroke="#c400e8" stroke-width="1.0" />
<line x1="284.00" y1="613.10" x2="288.60" y2="613.10" stroke="#c400e8" stroke-width="1.0" />
<line x1="284.00" y1="605.95" x2="288.60" y2="605.95" stroke="#c400e8" stroke-width="1.0" />
</g>
<g stroke="#c400e8" stroke-width="1.0" opacity="0.75">
<line x1="297.89" y1="607.25" x2="297.89" y2="602.70" stroke="#c400e8" stroke-width="1.0" />
<line x1="295.59" y1="607.25" x2="300.19" y2="607.25" stroke="#c400e8" stroke-width="1.0" />
<line x1="295.59" y1="602.70" x2="300.19" y2="602.70" stroke="#c400e8" stroke-width="1.0" />
</g>
<g stroke="#c400e8" stroke-width="1.0" opacity="0.75">
<line x1="309.48" y1="608.55" x2="309.48" y2="603.35" stroke="#c400e8" stroke-width="1.0" />
<line x1="307.18" y1="608.55" x2="311.78" y2="608.55" stroke="#c400e8" stroke-width="1.0" />
<line x1="307.18" y1="603.35" x2="311.78" y2="603.35" stroke="#c400e8" stroke-width="1.0" />
</g>
<g stroke="#c400e8" stroke-width="1.0" opacity="0.75">
<line x1="321.07" y1="628.70" x2="321.07" y2="602.70" stroke="#c400e8" stroke-width="1.0" />
<line x1="318.77" y1="628.70" x2="323.37" y2="628.70" stroke="#c400e8" stroke-width="1.0" />
<line x1="318.77" y1="602.70" x2="323.37" y2="602.70" stroke="#c400e8" stroke-width="1.0" />
</g>
<g stroke="#c400e8" stroke-width="1.0" opacity="0.75">
<line x1="367.43" y1="621.55" x2="367.43" y2="602.70" stroke="#c400e8" stroke-width="1.0" />
<line x1="365.13" y1="621.55" x2="369.73" y2="621.55" stroke="#c400e8" stroke-width="1.0" />
<line x1="365.13" y1="602.70" x2="369.73" y2="602.70" stroke="#c400e8" stroke-width="1.0" />
</g>
<g stroke="#c400e8" stroke-width="1.0" opacity="0.75">
<line x1="390.61" y1="611.80" x2="390.61" y2="600.75" stroke="#c400e8" stroke-width="1.0" />
<line x1="388.31" y1="611.80" x2="392.91" y2="611.80" stroke="#c400e8" stroke-width="1.0" />
<line x1="388.31" y1="600.75" x2="392.91" y2="600.75" stroke="#c400e8" stroke-width="1.0" />
</g>
<polyline points="263.12,610.37 264.19,610.38 265.25,610.40 266.31,610.41 267.37,610.43 268.44,610.44 269.50,610.46 270.56,610.47 271.62,610.49 272.69,610.51 273.75,610.53 274.81,610.55 275.87,610.58 276.94,610.60 278.00,610.62 279.06,610.65 280.12,610.68 281.18,610.71 282.25,610.74 283.31,610.77 284.37,610.80 285.43,610.84 286.50,610.87 287.56,610.91 288.62,610.95 289.68,610.99 290.75,611.03 291.81,611.08 292.87,611.12 293.93,611.17 295.00,611.22 296.06,611.27 297.12,611.32 298.18,611.38 299.25,611.43 300.31,611.49 301.37,611.55 302.43,611.61 303.49,611.67 304.56,611.73 305.62,611.79 306.68,611.86 307.74,611.92 308.81,611.99 309.87,612.05 310.93,612.12 311.99,612.19 313.06,612.25 314.12,612.32 315.18,612.39 316.24,612.45 317.31,612.52 318.37,612.59 319.43,612.65 320.49,612.72 321.56,612.78 322.62,612.84 323.68,612.91 324.74,612.97 325.80,613.03 326.87,613.08 327.93,613.14 328.99,613.20 330.05,613.25 331.12,613.30 332.18,613.35 333.24,613.40 334.30,613.45 335.37,613.50 336.43,613.54 337.49,613.58 338.55,613.62 339.62,613.66 340.68,613.70 341.74,613.74 342.80,613.77 343.87,613.81 344.93,613.84 345.99,613.87 347.05,613.90 348.11,613.92 349.18,613.95 350.24,613.98 351.30,614.00 352.36,614.02 353.43,614.04 354.49,614.06 355.55,614.08 356.61,614.10 357.68,614.12 358.74,614.13 359.80,614.15 360.86,614.16 361.93,614.18 362.99,614.19 364.05,614.20 365.11,614.21 366.18,614.23 367.24,614.24 368.30,614.25 369.36,614.25 370.43,614.26 371.49,614.27 372.55,614.28 373.61,614.29 374.67,614.29 375.74,614.30 376.80,614.31 377.86,614.31 378.92,614.32 379.99,614.32 381.05,614.33 382.11,614.33 383.17,614.34 384.24,614.34 385.30,614.34 386.36,614.35 387.42,614.35 388.49,614.35 389.55,614.36 390.61,614.36" fill="none" stroke="#c400e8" stroke-width="1.0"/>
<polyline points="263.12,633.30 264.19,632.91 265.25,632.52 266.31,632.12 267.37,631.72 268.44,631.31 269.50,630.90 270.56,630.48 271.62,630.07 272.69,629.65 273.75,629.24 274.81,628.83 275.87,628.42 276.94,628.02 278.00,627.62 279.06,627.24 280.12,626.85 281.18,626.48 282.25,626.12 283.31,625.77 284.37,625.42 285.43,625.09 286.50,624.77 287.56,624.47 288.62,624.17 289.68,623.89 290.75,623.62 291.81,623.36 292.87,623.11 293.93,622.88 295.00,622.65 296.06,622.44 297.12,622.24 298.18,622.05 299.25,621.87 300.31,621.70 301.37,621.54 302.43,621.39 303.49,621.25 304.56,621.12 305.62,620.99 306.68,620.88 307.74,620.77 308.81,620.66 309.87,620.57 310.93,620.48 311.99,620.39 313.06,620.32 314.12,620.24 315.18,620.18 316.24,620.11 317.31,620.05 318.37,620.00 319.43,619.95 320.49,619.90 321.56,619.85 322.62,619.81 323.68,619.77 324.74,619.74 325.80,619.70 326.87,619.67 327.93,619.64 328.99,619.62 330.05,619.59 331.12,619.57 332.18,619.55 333.24,619.53 334.30,619.51 335.37,619.49 336.43,619.48 337.49,619.46 338.55,619.45 339.62,619.44 340.68,619.42 341.74,619.41 342.80,619.40 343.87,619.39 344.93,619.39 345.99,619.38 347.05,619.37 348.11,619.36 349.18,619.36 350.24,619.35 351.30,619.35 352.36,619.34 353.43,619.34 354.49,619.33 355.55,619.33 356.61,619.32 357.68,619.32 358.74,619.32 359.80,619.31 360.86,619.31 361.93,619.31 362.99,619.31 364.05,619.30 365.11,619.30 366.18,619.30 367.24,619.30 368.30,619.30 369.36,619.29 370.43,619.29 371.49,619.29 372.55,619.29 373.61,619.29 374.67,619.29 375.74,619.29 376.80,619.29 377.86,619.29 378.92,619.28 379.99,619.28 381.05,619.28 382.11,619.28 383.17,619.28 384.24,619.28 385.30,619.28 386.36,619.28 387.42,619.28 388.49,619.28 389.55,619.28 390.61,619.28" fill="none" stroke="#0000ff" stroke-width="1.0"/>
<polyline points="263.12,611.80 264.19,611.80 265.25,611.80 266.31,611.80 267.37,611.80 268.44,611.80 269.50,611.80 270.56,611.80 271.62,611.80 272.69,611.80 273.75,611.80 274.81,611.80 275.87,611.80 276.94,611.80 278.00,611.80 279.06,611.80 280.12,611.80 281.18,611.80 282.25,611.80 283.31,611.80 284.37,611.80 285.43,611.80 286.50,611.80 287.56,611.80 288.62,611.80 289.68,611.80 290.75,611.80 291.81,611.80 292.87,611.80 293.93,611.80 295.00,611.80 296.06,611.80 297.12,611.80 298.18,611.80 299.25,611.80 300.31,611.80 301.37,611.80 302.43,611.80 303.49,611.80 304.56,611.80 305.62,611.80 306.68,611.80 307.74,611.80 308.81,611.80 309.87,611.80 310.93,611.80 311.99,611.80 313.06,611.80 314.12,611.80 315.18,611.80 316.24,611.80 317.31,611.80 318.37,611.80 319.43,611.80 320.49,611.80 321.56,611.80 322.62,611.80 323.68,611.80 324.74,611.80 325.80,611.80 326.87,611.80 327.93,611.80 328.99,611.80 330.05,611.80 331.12,611.80 332.18,611.80 333.24,611.80 334.30,611.80 335.37,611.80 336.43,611.80 337.49,611.80 338.55,611.80 339.62,611.80 340.68,611.80 341.74,611.80 342.80,611.80 343.87,611.80 344.93,611.80 345.99,611.80 347.05,611.80 348.11,611.80 349.18,611.80 350.24,611.80 351.30,611.80 352.36,611.80 353.43,611.80 354.49,611.80 355.55,611.80 356.61,611.80 357.68,611.80 358.74,611.80 359.80,611.80 360.86,611.80 361.93,611.80 362.99,611.80 364.05,611.80 365.11,611.80 366.18,611.80 367.24,611.80 368.30,611.80 369.36,611.80 370.43,611.80 371.49,611.80 372.55,611.80 373.61,611.80 374.67,611.80 375.74,611.80 376.80,611.80 377.86,611.80 378.92,611.80 379.99,611.80 381.05,611.80 382.11,611.80 383.17,611.80 384.24,611.80 385.30,611.80 386.36,611.80 387.42,611.80 388.49,611.80 389.55,611.80 390.61,611.80" fill="none" stroke="#0b8a0b" stroke-width="1.0"/>
<polyline points="263.12,611.80 274.71,611.80 286.30,611.80 297.89,611.80 309.48,611.80 321.07,611.80 332.66,611.80 344.25,611.80 355.84,611.80 367.43,611.80 379.02,611.80 390.61,611.80" fill="none" stroke="#777" stroke-width="1.5"/>
<path d="M263.12 612.65L265.52 615.05L263.12 617.45L260.72 615.05Z" fill="#c400e8"/>
<path d="M274.71 603.55L277.11 605.95L274.71 608.35L272.31 605.95Z" fill="#c400e8"/>
<path d="M286.30 606.80L288.70 609.20L286.30 611.60L283.90 609.20Z" fill="#c400e8"/>
<path d="M297.89 602.25L300.29 604.65L297.89 607.05L295.49 604.65Z" fill="#c400e8"/>
<path d="M309.48 603.81L311.88 606.21L309.48 608.61L307.08 606.21Z" fill="#c400e8"/>
<path d="M321.07 612.65L323.47 615.05L321.07 617.45L318.67 615.05Z" fill="#c400e8"/>
<path d="M332.66 610.05L335.06 612.45L332.66 614.85L330.26 612.45Z" fill="#c400e8"/>
<path d="M344.25 612.65L346.65 615.05L344.25 617.45L341.85 615.05Z" fill="#c400e8"/>
<path d="M355.84 611.35L358.24 613.75L355.84 616.15L353.44 613.75Z" fill="#c400e8"/>
<path d="M367.43 611.35L369.83 613.75L367.43 616.15L365.03 613.75Z" fill="#c400e8"/>
<path d="M379.02 607.45L381.42 609.85L379.02 612.25L376.62 609.85Z" fill="#c400e8"/>
<path d="M390.61 605.69L393.01 608.09L390.61 610.49L388.21 608.09Z" fill="#c400e8"/>
<path d="M263.12 632.14L265.52 636.70L260.72 636.70Z" fill="#0000ff"/>
<path d="M274.71 618.81L277.11 623.37L272.31 623.37Z" fill="#0000ff"/>
<path d="M286.30 625.31L288.70 629.87L283.90 629.87Z" fill="#0000ff"/>
<path d="M297.89 617.71L300.29 622.27L295.49 622.27Z" fill="#0000ff"/>
<path d="M309.48 618.81L311.88 623.37L307.08 623.37Z" fill="#0000ff"/>
<path d="M321.07 616.54L323.47 621.10L318.67 621.10Z" fill="#0000ff"/>
<path d="M332.66 614.91L335.06 619.47L330.26 619.47Z" fill="#0000ff"/>
<path d="M344.25 624.66L346.65 629.22L341.85 629.22Z" fill="#0000ff"/>
<path d="M355.84 616.21L358.24 620.77L353.44 620.77Z" fill="#0000ff"/>
<path d="M367.43 619.46L369.83 624.02L365.03 624.02Z" fill="#0000ff"/>
<path d="M379.02 620.11L381.42 624.67L376.62 624.67Z" fill="#0000ff"/>
<path d="M390.61 605.81L393.01 610.37L388.21 610.37Z" fill="#0000ff"/>
<circle cx="263.12" cy="611.80" r="2.4" fill="#0b8a0b"/>
<circle cx="274.71" cy="611.80" r="2.4" fill="#0b8a0b"/>
<circle cx="286.30" cy="611.80" r="2.4" fill="#0b8a0b"/>
<circle cx="297.89" cy="611.80" r="2.4" fill="#0b8a0b"/>
<circle cx="309.48" cy="611.80" r="2.4" fill="#0b8a0b"/>
<circle cx="321.07" cy="611.80" r="2.4" fill="#0b8a0b"/>
<circle cx="332.66" cy="611.80" r="2.4" fill="#0b8a0b"/>
<circle cx="344.25" cy="611.80" r="2.4" fill="#0b8a0b"/>
<circle cx="355.84" cy="611.80" r="2.4" fill="#0b8a0b"/>
<circle cx="367.43" cy="611.80" r="2.4" fill="#0b8a0b"/>
<circle cx="379.02" cy="611.80" r="2.4" fill="#0b8a0b"/>
<circle cx="390.61" cy="611.80" r="2.4" fill="#0b8a0b"/>
<rect x="261.02" y="609.70" width="4.2" height="4.2" fill="#000"/>
<rect x="272.61" y="609.70" width="4.2" height="4.2" fill="#000"/>
<rect x="284.20" y="609.70" width="4.2" height="4.2" fill="#000"/>
<rect x="295.79" y="609.70" width="4.2" height="4.2" fill="#000"/>
<rect x="307.38" y="609.70" width="4.2" height="4.2" fill="#000"/>
<rect x="318.97" y="609.70" width="4.2" height="4.2" fill="#000"/>
<rect x="330.56" y="609.70" width="4.2" height="4.2" fill="#000"/>
<rect x="342.15" y="609.70" width="4.2" height="4.2" fill="#000"/>
<rect x="353.74" y="609.70" width="4.2" height="4.2" fill="#000"/>
<rect x="365.33" y="609.70" width="4.2" height="4.2" fill="#000"/>
<rect x="376.92" y="609.70" width="4.2" height="4.2" fill="#000"/>
<rect x="388.51" y="609.70" width="4.2" height="4.2" fill="#000"/>
<text x="325.20" y="730.20" font-size="9.9" font-weight="bold" text-anchor="middle" fill="#111" >10-1074+CAP256V2LS Expressing Cells</text>
<line x1="250.30" y1="849.10" x2="400.80" y2="849.10" stroke="#222" stroke-width="1.05" stroke-dasharray="1.15 2.0"/>
<line x1="248.20" y1="744.50" x2="248.20" y2="855.80" stroke="#000" stroke-width="1.3" />
<line x1="247.60" y1="855.20" x2="402.60" y2="855.20" stroke="#000" stroke-width="1.3" />
<line x1="244.00" y1="849.10" x2="248.20" y2="849.10" stroke="#000" stroke-width="1.2" />
<text x="242.30" y="852.00" font-size="8.2" font-weight="bold" text-anchor="end" textLength="4.06" lengthAdjust="spacingAndGlyphs" fill="#111">0</text>
<line x1="244.00" y1="816.60" x2="248.20" y2="816.60" stroke="#000" stroke-width="1.2" />
<text x="242.30" y="819.50" font-size="8.2" font-weight="bold" text-anchor="end" textLength="8.12" lengthAdjust="spacingAndGlyphs" fill="#111">50</text>
<line x1="244.00" y1="784.10" x2="248.20" y2="784.10" stroke="#000" stroke-width="1.2" />
<text x="242.30" y="787.00" font-size="8.2" font-weight="bold" text-anchor="end" textLength="12.17" lengthAdjust="spacingAndGlyphs" fill="#111">100</text>
<line x1="244.00" y1="751.60" x2="248.20" y2="751.60" stroke="#000" stroke-width="1.2" />
<text x="242.30" y="754.50" font-size="8.2" font-weight="bold" text-anchor="end" textLength="12.17" lengthAdjust="spacingAndGlyphs" fill="#111">150</text>
<line x1="248.20" y1="855.20" x2="248.20" y2="859.70" stroke="#000" stroke-width="1.2" />
<text x="248.20" y="869.40" font-size="8.2" font-weight="bold" text-anchor="middle" textLength="22.57" lengthAdjust="spacingAndGlyphs" fill="#111">0.0001</text>
<line x1="286.70" y1="855.20" x2="286.70" y2="859.70" stroke="#000" stroke-width="1.2" />
<text x="286.70" y="869.40" font-size="8.2" font-weight="bold" text-anchor="middle" textLength="18.46" lengthAdjust="spacingAndGlyphs" fill="#111">0.001</text>
<line x1="325.20" y1="855.20" x2="325.20" y2="859.70" stroke="#000" stroke-width="1.2" />
<text x="325.20" y="869.40" font-size="8.2" font-weight="bold" text-anchor="middle" textLength="14.36" lengthAdjust="spacingAndGlyphs" fill="#111">0.01</text>
<line x1="363.70" y1="855.20" x2="363.70" y2="859.70" stroke="#000" stroke-width="1.2" />
<text x="363.70" y="869.40" font-size="8.2" font-weight="bold" text-anchor="middle" textLength="10.26" lengthAdjust="spacingAndGlyphs" fill="#111">0.1</text>
<line x1="402.20" y1="855.20" x2="402.20" y2="859.70" stroke="#000" stroke-width="1.2" />
<text x="402.20" y="869.40" font-size="8.2" font-weight="bold" text-anchor="middle" textLength="4.10" lengthAdjust="spacingAndGlyphs" fill="#111">1</text>
<text x="325.20" y="882.80" font-size="8.6" font-weight="bold" text-anchor="middle" fill="#111" >Dilution of B Cell Supernatant</text>
<text transform="translate(225.20,800.20) rotate(-90)" font-size="9.0" font-weight="bold" text-anchor="middle" fill="#111">% Infection</text>
<g stroke="#0000ff" stroke-width="1.0" opacity="0.75">
<line x1="274.71" y1="784.10" x2="274.71" y2="770.45" stroke="#0000ff" stroke-width="1.0" />
<line x1="272.41" y1="784.10" x2="277.01" y2="784.10" stroke="#0000ff" stroke-width="1.0" />
<line x1="272.41" y1="770.45" x2="277.01" y2="770.45" stroke="#0000ff" stroke-width="1.0" />
</g>
<g stroke="#0000ff" stroke-width="1.0" opacity="0.75">
<line x1="286.30" y1="789.95" x2="286.30" y2="775.00" stroke="#0000ff" stroke-width="1.0" />
<line x1="284.00" y1="789.95" x2="288.60" y2="789.95" stroke="#0000ff" stroke-width="1.0" />
<line x1="284.00" y1="775.00" x2="288.60" y2="775.00" stroke="#0000ff" stroke-width="1.0" />
</g>
<g stroke="#0000ff" stroke-width="1.0" opacity="0.75">
<line x1="297.89" y1="788.00" x2="297.89" y2="776.30" stroke="#0000ff" stroke-width="1.0" />
<line x1="295.59" y1="788.00" x2="300.19" y2="788.00" stroke="#0000ff" stroke-width="1.0" />
<line x1="295.59" y1="776.30" x2="300.19" y2="776.30" stroke="#0000ff" stroke-width="1.0" />
</g>
<g stroke="#c400e8" stroke-width="1.0" opacity="0.75">
<line x1="297.89" y1="797.10" x2="297.89" y2="776.30" stroke="#c400e8" stroke-width="1.0" />
<line x1="295.59" y1="797.10" x2="300.19" y2="797.10" stroke="#c400e8" stroke-width="1.0" />
<line x1="295.59" y1="776.30" x2="300.19" y2="776.30" stroke="#c400e8" stroke-width="1.0" />
</g>
<g stroke="#0b8a0b" stroke-width="1.0" opacity="0.75">
<line x1="263.12" y1="800.35" x2="263.12" y2="788.65" stroke="#0b8a0b" stroke-width="1.0" />
<line x1="260.82" y1="800.35" x2="265.42" y2="800.35" stroke="#0b8a0b" stroke-width="1.0" />
<line x1="260.82" y1="788.65" x2="265.42" y2="788.65" stroke="#0b8a0b" stroke-width="1.0" />
</g>
<g stroke="#0b8a0b" stroke-width="1.0" opacity="0.75">
<line x1="274.71" y1="797.10" x2="274.71" y2="781.50" stroke="#0b8a0b" stroke-width="1.0" />
<line x1="272.41" y1="797.10" x2="277.01" y2="797.10" stroke="#0b8a0b" stroke-width="1.0" />
<line x1="272.41" y1="781.50" x2="277.01" y2="781.50" stroke="#0b8a0b" stroke-width="1.0" />
</g>
<g stroke="#0b8a0b" stroke-width="1.0" opacity="0.75">
<line x1="286.30" y1="797.75" x2="286.30" y2="790.60" stroke="#0b8a0b" stroke-width="1.0" />
<line x1="284.00" y1="797.75" x2="288.60" y2="797.75" stroke="#0b8a0b" stroke-width="1.0" />
<line x1="284.00" y1="790.60" x2="288.60" y2="790.60" stroke="#0b8a0b" stroke-width="1.0" />
</g>
<g stroke="#0b8a0b" stroke-width="1.0" opacity="0.75">
<line x1="321.07" y1="793.85" x2="321.07" y2="784.10" stroke="#0b8a0b" stroke-width="1.0" />
<line x1="318.77" y1="793.85" x2="323.37" y2="793.85" stroke="#0b8a0b" stroke-width="1.0" />
<line x1="318.77" y1="784.10" x2="323.37" y2="784.10" stroke="#0b8a0b" stroke-width="1.0" />
</g>
<g stroke="#0b8a0b" stroke-width="1.0" opacity="0.75">
<line x1="332.66" y1="810.10" x2="332.66" y2="798.40" stroke="#0b8a0b" stroke-width="1.0" />
<line x1="330.36" y1="810.10" x2="334.96" y2="810.10" stroke="#0b8a0b" stroke-width="1.0" />
<line x1="330.36" y1="798.40" x2="334.96" y2="798.40" stroke="#0b8a0b" stroke-width="1.0" />
</g>
<polyline points="263.12,783.74 264.19,783.77 265.25,783.79 266.31,783.82 267.37,783.85 268.44,783.88 269.50,783.92 270.56,783.96 271.62,784.00 272.69,784.04 273.75,784.09 274.81,784.15 275.87,784.20 276.94,784.26 278.00,784.33 279.06,784.40 280.12,784.48 281.18,784.56 282.25,784.65 283.31,784.75 284.37,784.86 285.43,784.97 286.50,785.09 287.56,785.23 288.62,785.37 289.68,785.52 290.75,785.69 291.81,785.86 292.87,786.06 293.93,786.26 295.00,786.48 296.06,786.72 297.12,786.98 298.18,787.25 299.25,787.55 300.31,787.86 301.37,788.20 302.43,788.56 303.49,788.95 304.56,789.37 305.62,789.81 306.68,790.28 307.74,790.78 308.81,791.31 309.87,791.88 310.93,792.48 311.99,793.12 313.06,793.79 314.12,794.50 315.18,795.25 316.24,796.04 317.31,796.87 318.37,797.74 319.43,798.64 320.49,799.59 321.56,800.58 322.62,801.60 323.68,802.66 324.74,803.76 325.80,804.89 326.87,806.05 327.93,807.24 328.99,808.46 330.05,809.70 331.12,810.96 332.18,812.24 333.24,813.53 334.30,814.83 335.37,816.13 336.43,817.43 337.49,818.73 338.55,820.02 339.62,821.30 340.68,822.57 341.74,823.81 342.80,825.04 343.87,826.23 344.93,827.40 345.99,828.54 347.05,829.64 348.11,830.71 349.18,831.75 350.24,832.74 351.30,833.70 352.36,834.61 353.43,835.49 354.49,836.33 355.55,837.12 356.61,837.88 357.68,838.60 358.74,839.28 359.80,839.93 360.86,840.54 361.93,841.11 362.99,841.65 364.05,842.16 365.11,842.64 366.18,843.09 367.24,843.51 368.30,843.90 369.36,844.27 370.43,844.61 371.49,844.93 372.55,845.23 373.61,845.51 374.67,845.77 375.74,846.01 376.80,846.24 377.86,846.45 378.92,846.64 379.99,846.82 381.05,846.99 382.11,847.15 383.17,847.29 384.24,847.43 385.30,847.55 386.36,847.67 387.42,847.78 388.49,847.87 389.55,847.97 390.61,848.05" fill="none" stroke="#c400e8" stroke-width="1.0"/>
<polyline points="263.12,783.68 264.19,783.70 265.25,783.72 266.31,783.74 267.37,783.76 268.44,783.78 269.50,783.81 270.56,783.84 271.62,783.86 272.69,783.90 273.75,783.93 274.81,783.97 275.87,784.00 276.94,784.05 278.00,784.09 279.06,784.14 280.12,784.19 281.18,784.25 282.25,784.31 283.31,784.37 284.37,784.44 285.43,784.51 286.50,784.59 287.56,784.68 288.62,784.77 289.68,784.86 290.75,784.97 291.81,785.08 292.87,785.20 293.93,785.33 295.00,785.47 296.06,785.62 297.12,785.78 298.18,785.95 299.25,786.13 300.31,786.32 301.37,786.53 302.43,786.75 303.49,786.99 304.56,787.24 305.62,787.51 306.68,787.80 307.74,788.10 308.81,788.43 309.87,788.77 310.93,789.14 311.99,789.53 313.06,789.95 314.12,790.39 315.18,790.86 316.24,791.35 317.31,791.87 318.37,792.42 319.43,793.01 320.49,793.62 321.56,794.26 322.62,794.94 323.68,795.65 324.74,796.39 325.80,797.17 326.87,797.98 327.93,798.82 328.99,799.70 330.05,800.61 331.12,801.55 332.18,802.52 333.24,803.52 334.30,804.56 335.37,805.62 336.43,806.70 337.49,807.81 338.55,808.94 339.62,810.09 340.68,811.25 341.74,812.43 342.80,813.62 343.87,814.81 344.93,816.01 345.99,817.21 347.05,818.41 348.11,819.60 349.18,820.78 350.24,821.95 351.30,823.10 352.36,824.24 353.43,825.36 354.49,826.46 355.55,827.53 356.61,828.57 357.68,829.59 358.74,830.58 359.80,831.53 360.86,832.46 361.93,833.35 362.99,834.21 364.05,835.03 365.11,835.82 366.18,836.58 367.24,837.30 368.30,837.99 369.36,838.65 370.43,839.28 371.49,839.87 372.55,840.44 373.61,840.97 374.67,841.48 375.74,841.96 376.80,842.41 377.86,842.83 378.92,843.24 379.99,843.62 381.05,843.97 382.11,844.31 383.17,844.62 384.24,844.92 385.30,845.19 386.36,845.45 387.42,845.70 388.49,845.93 389.55,846.14 390.61,846.34" fill="none" stroke="#0000ff" stroke-width="1.0"/>
<polyline points="263.12,790.12 264.19,790.13 265.25,790.15 266.31,790.16 267.37,790.18 268.44,790.20 269.50,790.22 270.56,790.24 271.62,790.26 272.69,790.29 273.75,790.31 274.81,790.34 275.87,790.37 276.94,790.41 278.00,790.44 279.06,790.48 280.12,790.52 281.18,790.57 282.25,790.61 283.31,790.67 284.37,790.72 285.43,790.78 286.50,790.85 287.56,790.92 288.62,790.99 289.68,791.07 290.75,791.16 291.81,791.25 292.87,791.35 293.93,791.46 295.00,791.58 296.06,791.71 297.12,791.84 298.18,791.98 299.25,792.14 300.31,792.31 301.37,792.49 302.43,792.68 303.49,792.88 304.56,793.10 305.62,793.34 306.68,793.59 307.74,793.86 308.81,794.15 309.87,794.45 310.93,794.78 311.99,795.13 313.06,795.50 314.12,795.90 315.18,796.32 316.24,796.76 317.31,797.24 318.37,797.74 319.43,798.27 320.49,798.83 321.56,799.42 322.62,800.04 323.68,800.70 324.74,801.38 325.80,802.10 326.87,802.86 327.93,803.64 328.99,804.46 330.05,805.31 331.12,806.20 332.18,807.11 333.24,808.05 334.30,809.02 335.37,810.02 336.43,811.05 337.49,812.09 338.55,813.16 339.62,814.24 340.68,815.34 341.74,816.45 342.80,817.57 343.87,818.69 344.93,819.82 345.99,820.95 347.05,822.07 348.11,823.19 349.18,824.29 350.24,825.38 351.30,826.46 352.36,827.51 353.43,828.55 354.49,829.56 355.55,830.54 356.61,831.50 357.68,832.43 358.74,833.32 359.80,834.19 360.86,835.02 361.93,835.82 362.99,836.59 364.05,837.33 365.11,838.03 366.18,838.70 367.24,839.34 368.30,839.94 369.36,840.52 370.43,841.06 371.49,841.58 372.55,842.06 373.61,842.52 374.67,842.96 375.74,843.36 376.80,843.75 377.86,844.11 378.92,844.44 379.99,844.76 381.05,845.06 382.11,845.34 383.17,845.60 384.24,845.84 385.30,846.07 386.36,846.28 387.42,846.48 388.49,846.66 389.55,846.83 390.61,846.99" fill="none" stroke="#0b8a0b" stroke-width="1.0"/>
<polyline points="263.12,784.10 274.71,784.10 286.30,784.10 297.89,784.10 309.48,784.10 321.07,784.10 332.66,784.10 344.25,784.10 355.84,784.10 367.43,784.10 379.02,784.10 390.61,784.10" fill="none" stroke="#777" stroke-width="1.5"/>
<path d="M263.12 782.35L265.52 784.75L263.12 787.15L260.72 784.75Z" fill="#c400e8"/>
<path d="M274.71 781.70L277.11 784.10L274.71 786.50L272.31 784.10Z" fill="#c400e8"/>
<path d="M286.30 782.35L288.70 784.75L286.30 787.15L283.90 784.75Z" fill="#c400e8"/>
<path d="M297.89 785.93L300.29 788.33L297.89 790.73L295.49 788.33Z" fill="#c400e8"/>
<path d="M309.48 785.93L311.88 788.33L309.48 790.73L307.08 788.33Z" fill="#c400e8"/>
<path d="M321.07 804.12L323.47 806.52L321.07 808.92L318.67 806.52Z" fill="#c400e8"/>
<path d="M332.66 810.30L335.06 812.70L332.66 815.10L330.26 812.70Z" fill="#c400e8"/>
<path d="M344.25 825.25L346.65 827.65L344.25 830.05L341.85 827.65Z" fill="#c400e8"/>
<path d="M355.84 836.30L358.24 838.70L355.84 841.10L353.44 838.70Z" fill="#c400e8"/>
<path d="M367.43 842.80L369.83 845.20L367.43 847.60L365.03 845.20Z" fill="#c400e8"/>
<path d="M379.02 844.36L381.42 846.76L379.02 849.16L376.62 846.76Z" fill="#c400e8"/>
<path d="M390.61 845.40L393.01 847.80L390.61 850.20L388.21 847.80Z" fill="#c400e8"/>
<path d="M263.12 786.30L265.52 790.86L260.72 790.86Z" fill="#0000ff"/>
<path d="M274.71 773.89L277.11 778.45L272.31 778.45Z" fill="#0000ff"/>
<path d="M286.30 781.36L288.70 785.92L283.90 785.92Z" fill="#0000ff"/>
<path d="M297.89 782.01L300.29 786.57L295.49 786.57Z" fill="#0000ff"/>
<path d="M309.48 797.29L311.88 801.85L307.08 801.85Z" fill="#0000ff"/>
<path d="M321.07 790.46L323.47 795.02L318.67 795.02Z" fill="#0000ff"/>
<path d="M332.66 800.86L335.06 805.42L330.26 805.42Z" fill="#0000ff"/>
<path d="M344.25 817.11L346.65 821.67L341.85 821.67Z" fill="#0000ff"/>
<path d="M355.84 822.31L358.24 826.87L353.44 826.87Z" fill="#0000ff"/>
<path d="M367.43 834.66L369.83 839.22L365.03 839.22Z" fill="#0000ff"/>
<path d="M379.02 842.46L381.42 847.02L376.62 847.02Z" fill="#0000ff"/>
<path d="M390.61 842.46L393.01 847.02L388.21 847.02Z" fill="#0000ff"/>
<circle cx="263.12" cy="793.85" r="2.4" fill="#0b8a0b"/>
<circle cx="274.71" cy="789.04" r="2.4" fill="#0b8a0b"/>
<circle cx="286.30" cy="794.83" r="2.4" fill="#0b8a0b"/>
<circle cx="297.89" cy="787.35" r="2.4" fill="#0b8a0b"/>
<circle cx="309.48" cy="793.20" r="2.4" fill="#0b8a0b"/>
<circle cx="321.07" cy="789.95" r="2.4" fill="#0b8a0b"/>
<circle cx="332.66" cy="804.90" r="2.4" fill="#0b8a0b"/>
<circle cx="344.25" cy="817.25" r="2.4" fill="#0b8a0b"/>
<circle cx="355.84" cy="829.93" r="2.4" fill="#0b8a0b"/>
<circle cx="367.43" cy="840.65" r="2.4" fill="#0b8a0b"/>
<circle cx="379.02" cy="845.85" r="2.4" fill="#0b8a0b"/>
<circle cx="390.61" cy="846.05" r="2.4" fill="#0b8a0b"/>
<rect x="261.02" y="782.00" width="4.2" height="4.2" fill="#000"/>
<rect x="272.61" y="782.00" width="4.2" height="4.2" fill="#000"/>
<rect x="284.20" y="782.00" width="4.2" height="4.2" fill="#000"/>
<rect x="295.79" y="782.00" width="4.2" height="4.2" fill="#000"/>
<rect x="307.38" y="782.00" width="4.2" height="4.2" fill="#000"/>
<rect x="318.97" y="782.00" width="4.2" height="4.2" fill="#000"/>
<rect x="330.56" y="782.00" width="4.2" height="4.2" fill="#000"/>
<rect x="342.15" y="782.00" width="4.2" height="4.2" fill="#000"/>
<rect x="353.74" y="782.00" width="4.2" height="4.2" fill="#000"/>
<rect x="365.33" y="782.00" width="4.2" height="4.2" fill="#000"/>
<rect x="376.92" y="782.00" width="4.2" height="4.2" fill="#000"/>
<rect x="388.51" y="782.00" width="4.2" height="4.2" fill="#000"/>
<text x="558.80" y="38.80" font-size="9.9" font-weight="bold" text-anchor="middle" fill="#111" >10-1074 Expressing Cells</text>
<line x1="483.90" y1="157.70" x2="634.40" y2="157.70" stroke="#222" stroke-width="1.05" stroke-dasharray="1.15 2.0"/>
<line x1="481.80" y1="53.10" x2="481.80" y2="164.40" stroke="#000" stroke-width="1.3" />
<line x1="481.20" y1="163.80" x2="636.20" y2="163.80" stroke="#000" stroke-width="1.3" />
<line x1="477.60" y1="157.70" x2="481.80" y2="157.70" stroke="#000" stroke-width="1.2" />
<text x="475.90" y="160.60" font-size="8.2" font-weight="bold" text-anchor="end" textLength="4.06" lengthAdjust="spacingAndGlyphs" fill="#111">0</text>
<line x1="477.60" y1="125.20" x2="481.80" y2="125.20" stroke="#000" stroke-width="1.2" />
<text x="475.90" y="128.10" font-size="8.2" font-weight="bold" text-anchor="end" textLength="8.12" lengthAdjust="spacingAndGlyphs" fill="#111">50</text>
<line x1="477.60" y1="92.70" x2="481.80" y2="92.70" stroke="#000" stroke-width="1.2" />
<text x="475.90" y="95.60" font-size="8.2" font-weight="bold" text-anchor="end" textLength="12.17" lengthAdjust="spacingAndGlyphs" fill="#111">100</text>
<line x1="477.60" y1="60.20" x2="481.80" y2="60.20" stroke="#000" stroke-width="1.2" />
<text x="475.90" y="63.10" font-size="8.2" font-weight="bold" text-anchor="end" textLength="12.17" lengthAdjust="spacingAndGlyphs" fill="#111">150</text>
<line x1="481.80" y1="163.80" x2="481.80" y2="168.30" stroke="#000" stroke-width="1.2" />
<text x="481.80" y="178.00" font-size="8.2" font-weight="bold" text-anchor="middle" textLength="22.57" lengthAdjust="spacingAndGlyphs" fill="#111">0.0001</text>
<line x1="520.30" y1="163.80" x2="520.30" y2="168.30" stroke="#000" stroke-width="1.2" />
<text x="520.30" y="178.00" font-size="8.2" font-weight="bold" text-anchor="middle" textLength="18.46" lengthAdjust="spacingAndGlyphs" fill="#111">0.001</text>
<line x1="558.80" y1="163.80" x2="558.80" y2="168.30" stroke="#000" stroke-width="1.2" />
<text x="558.80" y="178.00" font-size="8.2" font-weight="bold" text-anchor="middle" textLength="14.36" lengthAdjust="spacingAndGlyphs" fill="#111">0.01</text>
<line x1="597.30" y1="163.80" x2="597.30" y2="168.30" stroke="#000" stroke-width="1.2" />
<text x="597.30" y="178.00" font-size="8.2" font-weight="bold" text-anchor="middle" textLength="10.26" lengthAdjust="spacingAndGlyphs" fill="#111">0.1</text>
<line x1="635.80" y1="163.80" x2="635.80" y2="168.30" stroke="#000" stroke-width="1.2" />
<text x="635.80" y="178.00" font-size="8.2" font-weight="bold" text-anchor="middle" textLength="4.10" lengthAdjust="spacingAndGlyphs" fill="#111">1</text>
<text x="558.80" y="191.40" font-size="8.6" font-weight="bold" text-anchor="middle" fill="#111" >Dilution of B Cell Supernatant</text>
<text transform="translate(458.80,108.80) rotate(-90)" font-size="9.0" font-weight="bold" text-anchor="middle" fill="#111">% Infection</text>
<g stroke="#0000ff" stroke-width="1.0" opacity="0.75">
<line x1="508.31" y1="92.70" x2="508.31" y2="76.45" stroke="#0000ff" stroke-width="1.0" />
<line x1="506.01" y1="92.70" x2="510.61" y2="92.70" stroke="#0000ff" stroke-width="1.0" />
<line x1="506.01" y1="76.45" x2="510.61" y2="76.45" stroke="#0000ff" stroke-width="1.0" />
</g>
<g stroke="#0000ff" stroke-width="1.0" opacity="0.75">
<line x1="519.90" y1="97.90" x2="519.90" y2="82.95" stroke="#0000ff" stroke-width="1.0" />
<line x1="517.60" y1="97.90" x2="522.20" y2="97.90" stroke="#0000ff" stroke-width="1.0" />
<line x1="517.60" y1="82.95" x2="522.20" y2="82.95" stroke="#0000ff" stroke-width="1.0" />
</g>
<g stroke="#0000ff" stroke-width="1.0" opacity="0.75">
<line x1="554.67" y1="84.90" x2="554.67" y2="75.15" stroke="#0000ff" stroke-width="1.0" />
<line x1="552.37" y1="84.90" x2="556.97" y2="84.90" stroke="#0000ff" stroke-width="1.0" />
<line x1="552.37" y1="75.15" x2="556.97" y2="75.15" stroke="#0000ff" stroke-width="1.0" />
</g>
<g stroke="#0000ff" stroke-width="1.0" opacity="0.75">
<line x1="566.26" y1="91.40" x2="566.26" y2="72.55" stroke="#0000ff" stroke-width="1.0" />
<line x1="563.96" y1="91.40" x2="568.56" y2="91.40" stroke="#0000ff" stroke-width="1.0" />
<line x1="563.96" y1="72.55" x2="568.56" y2="72.55" stroke="#0000ff" stroke-width="1.0" />
</g>
<g stroke="#0000ff" stroke-width="1.0" opacity="0.75">
<line x1="624.21" y1="95.95" x2="624.21" y2="74.50" stroke="#0000ff" stroke-width="1.0" />
<line x1="621.91" y1="95.95" x2="626.51" y2="95.95" stroke="#0000ff" stroke-width="1.0" />
<line x1="621.91" y1="74.50" x2="626.51" y2="74.50" stroke="#0000ff" stroke-width="1.0" />
</g>
<g stroke="#c400e8" stroke-width="1.0" opacity="0.75">
<line x1="519.90" y1="95.95" x2="519.90" y2="77.10" stroke="#c400e8" stroke-width="1.0" />
<line x1="517.60" y1="95.95" x2="522.20" y2="95.95" stroke="#c400e8" stroke-width="1.0" />
<line x1="517.60" y1="77.10" x2="522.20" y2="77.10" stroke="#c400e8" stroke-width="1.0" />
</g>
<g stroke="#c400e8" stroke-width="1.0" opacity="0.75">
<line x1="531.49" y1="90.75" x2="531.49" y2="73.20" stroke="#c400e8" stroke-width="1.0" />
<line x1="529.19" y1="90.75" x2="533.79" y2="90.75" stroke="#c400e8" stroke-width="1.0" />
<line x1="529.19" y1="73.20" x2="533.79" y2="73.20" stroke="#c400e8" stroke-width="1.0" />
</g>
<g stroke="#c400e8" stroke-width="1.0" opacity="0.75">
<line x1="554.67" y1="86.20" x2="554.67" y2="77.10" stroke="#c400e8" stroke-width="1.0" />
<line x1="552.37" y1="86.20" x2="556.97" y2="86.20" stroke="#c400e8" stroke-width="1.0" />
<line x1="552.37" y1="77.10" x2="556.97" y2="77.10" stroke="#c400e8" stroke-width="1.0" />
</g>
<g stroke="#c400e8" stroke-width="1.0" opacity="0.75">
<line x1="589.44" y1="96.60" x2="589.44" y2="81.00" stroke="#c400e8" stroke-width="1.0" />
<line x1="587.14" y1="96.60" x2="591.74" y2="96.60" stroke="#c400e8" stroke-width="1.0" />
<line x1="587.14" y1="81.00" x2="591.74" y2="81.00" stroke="#c400e8" stroke-width="1.0" />
</g>
<g stroke="#0b8a0b" stroke-width="1.0" opacity="0.75">
<line x1="496.72" y1="90.10" x2="496.72" y2="81.00" stroke="#0b8a0b" stroke-width="1.0" />
<line x1="494.42" y1="90.10" x2="499.02" y2="90.10" stroke="#0b8a0b" stroke-width="1.0" />
<line x1="494.42" y1="81.00" x2="499.02" y2="81.00" stroke="#0b8a0b" stroke-width="1.0" />
</g>
<g stroke="#0b8a0b" stroke-width="1.0" opacity="0.75">
<line x1="508.31" y1="89.45" x2="508.31" y2="71.90" stroke="#0b8a0b" stroke-width="1.0" />
<line x1="506.01" y1="89.45" x2="510.61" y2="89.45" stroke="#0b8a0b" stroke-width="1.0" />
<line x1="506.01" y1="71.90" x2="510.61" y2="71.90" stroke="#0b8a0b" stroke-width="1.0" />
</g>
<g stroke="#0b8a0b" stroke-width="1.0" opacity="0.75">
<line x1="531.49" y1="100.50" x2="531.49" y2="87.50" stroke="#0b8a0b" stroke-width="1.0" />
<line x1="529.19" y1="100.50" x2="533.79" y2="100.50" stroke="#0b8a0b" stroke-width="1.0" />
<line x1="529.19" y1="87.50" x2="533.79" y2="87.50" stroke="#0b8a0b" stroke-width="1.0" />
</g>
<g stroke="#0b8a0b" stroke-width="1.0" opacity="0.75">
<line x1="543.08" y1="97.90" x2="543.08" y2="83.60" stroke="#0b8a0b" stroke-width="1.0" />
<line x1="540.78" y1="97.90" x2="545.38" y2="97.90" stroke="#0b8a0b" stroke-width="1.0" />
<line x1="540.78" y1="83.60" x2="545.38" y2="83.60" stroke="#0b8a0b" stroke-width="1.0" />
</g>
<g stroke="#0b8a0b" stroke-width="1.0" opacity="0.75">
<line x1="577.85" y1="112.20" x2="577.85" y2="96.60" stroke="#0b8a0b" stroke-width="1.0" />
<line x1="575.55" y1="112.20" x2="580.15" y2="112.20" stroke="#0b8a0b" stroke-width="1.0" />
<line x1="575.55" y1="96.60" x2="580.15" y2="96.60" stroke="#0b8a0b" stroke-width="1.0" />
</g>
<g stroke="#0b8a0b" stroke-width="1.0" opacity="0.75">
<line x1="589.44" y1="102.45" x2="589.44" y2="82.30" stroke="#0b8a0b" stroke-width="1.0" />
<line x1="587.14" y1="102.45" x2="591.74" y2="102.45" stroke="#0b8a0b" stroke-width="1.0" />
<line x1="587.14" y1="82.30" x2="591.74" y2="82.30" stroke="#0b8a0b" stroke-width="1.0" />
</g>
<g stroke="#0b8a0b" stroke-width="1.0" opacity="0.75">
<line x1="612.62" y1="114.15" x2="612.62" y2="111.55" stroke="#0b8a0b" stroke-width="1.0" />
<line x1="610.32" y1="114.15" x2="614.92" y2="114.15" stroke="#0b8a0b" stroke-width="1.0" />
<line x1="610.32" y1="111.55" x2="614.92" y2="111.55" stroke="#0b8a0b" stroke-width="1.0" />
</g>
<polyline points="496.72,87.83 497.79,87.83 498.85,87.83 499.91,87.83 500.97,87.83 502.04,87.83 503.10,87.83 504.16,87.83 505.22,87.83 506.29,87.83 507.35,87.83 508.41,87.83 509.47,87.83 510.54,87.83 511.60,87.83 512.66,87.83 513.72,87.83 514.78,87.83 515.85,87.83 516.91,87.83 517.97,87.83 519.03,87.83 520.10,87.83 521.16,87.83 522.22,87.83 523.28,87.83 524.35,87.83 525.41,87.83 526.47,87.83 527.53,87.84 528.60,87.84 529.66,87.84 530.72,87.84 531.78,87.84 532.85,87.84 533.91,87.84 534.97,87.85 536.03,87.85 537.09,87.85 538.16,87.85 539.22,87.85 540.28,87.86 541.34,87.86 542.41,87.86 543.47,87.87 544.53,87.87 545.59,87.88 546.66,87.88 547.72,87.89 548.78,87.90 549.84,87.90 550.91,87.91 551.97,87.92 553.03,87.93 554.09,87.94 555.16,87.95 556.22,87.96 557.28,87.97 558.34,87.99 559.40,88.00 560.47,88.02 561.53,88.04 562.59,88.06 563.65,88.08 564.72,88.11 565.78,88.13 566.84,88.16 567.90,88.19 568.97,88.23 570.03,88.27 571.09,88.31 572.15,88.35 573.22,88.40 574.28,88.45 575.34,88.50 576.40,88.56 577.47,88.62 578.53,88.69 579.59,88.76 580.65,88.84 581.71,88.92 582.78,89.01 583.84,89.10 584.90,89.19 585.96,89.29 587.03,89.40 588.09,89.51 589.15,89.62 590.21,89.74 591.28,89.86 592.34,89.98 593.40,90.11 594.46,90.24 595.53,90.37 596.59,90.50 597.65,90.63 598.71,90.76 599.78,90.89 600.84,91.02 601.90,91.15 602.96,91.27 604.03,91.40 605.09,91.52 606.15,91.63 607.21,91.74 608.27,91.85 609.34,91.95 610.40,92.05 611.46,92.14 612.52,92.23 613.59,92.31 614.65,92.39 615.71,92.46 616.77,92.53 617.84,92.59 618.90,92.65 619.96,92.71 621.02,92.76 622.09,92.81 623.15,92.86 624.21,92.90" fill="none" stroke="#c400e8" stroke-width="1.0"/>
<polyline points="496.72,74.78 497.79,75.04 498.85,75.31 499.91,75.59 500.97,75.88 502.04,76.17 503.10,76.46 504.16,76.76 505.22,77.06 506.29,77.37 507.35,77.68 508.41,77.99 509.47,78.30 510.54,78.61 511.60,78.91 512.66,79.22 513.72,79.52 514.78,79.82 515.85,80.11 516.91,80.40 517.97,80.68 519.03,80.95 520.10,81.22 521.16,81.48 522.22,81.73 523.28,81.97 524.35,82.21 525.41,82.43 526.47,82.65 527.53,82.86 528.60,83.05 529.66,83.24 530.72,83.42 531.78,83.59 532.85,83.76 533.91,83.91 534.97,84.06 536.03,84.20 537.09,84.33 538.16,84.45 539.22,84.56 540.28,84.67 541.34,84.77 542.41,84.87 543.47,84.96 544.53,85.05 545.59,85.12 546.66,85.20 547.72,85.27 548.78,85.33 549.84,85.39 550.91,85.45 551.97,85.50 553.03,85.55 554.09,85.60 555.16,85.64 556.22,85.68 557.28,85.72 558.34,85.75 559.40,85.78 560.47,85.81 561.53,85.84 562.59,85.87 563.65,85.89 564.72,85.91 565.78,85.93 566.84,85.95 567.90,85.97 568.97,85.99 570.03,86.00 571.09,86.02 572.15,86.03 573.22,86.04 574.28,86.05 575.34,86.06 576.40,86.07 577.47,86.08 578.53,86.09 579.59,86.10 580.65,86.11 581.71,86.11 582.78,86.12 583.84,86.13 584.90,86.13 585.96,86.14 587.03,86.14 588.09,86.15 589.15,86.15 590.21,86.15 591.28,86.16 592.34,86.16 593.40,86.16 594.46,86.17 595.53,86.17 596.59,86.17 597.65,86.17 598.71,86.17 599.78,86.18 600.84,86.18 601.90,86.18 602.96,86.18 604.03,86.18 605.09,86.18 606.15,86.19 607.21,86.19 608.27,86.19 609.34,86.19 610.40,86.19 611.46,86.19 612.52,86.19 613.59,86.19 614.65,86.19 615.71,86.19 616.77,86.19 617.84,86.19 618.90,86.19 619.96,86.19 621.02,86.19 622.09,86.20 623.15,86.20 624.21,86.20" fill="none" stroke="#0000ff" stroke-width="1.0"/>
<polyline points="496.72,86.38 497.79,86.40 498.85,86.42 499.91,86.44 500.97,86.46 502.04,86.49 503.10,86.52 504.16,86.55 505.22,86.58 506.29,86.62 507.35,86.66 508.41,86.70 509.47,86.75 510.54,86.81 511.60,86.87 512.66,86.93 513.72,87.00 514.78,87.07 515.85,87.16 516.91,87.25 517.97,87.34 519.03,87.45 520.10,87.56 521.16,87.69 522.22,87.82 523.28,87.97 524.35,88.13 525.41,88.29 526.47,88.48 527.53,88.67 528.60,88.88 529.66,89.10 530.72,89.34 531.78,89.59 532.85,89.85 533.91,90.13 534.97,90.43 536.03,90.74 537.09,91.06 538.16,91.40 539.22,91.74 540.28,92.11 541.34,92.48 542.41,92.86 543.47,93.25 544.53,93.64 545.59,94.04 546.66,94.44 547.72,94.84 548.78,95.24 549.84,95.64 550.91,96.04 551.97,96.43 553.03,96.81 554.09,97.18 555.16,97.54 556.22,97.89 557.28,98.23 558.34,98.55 559.40,98.86 560.47,99.16 561.53,99.44 562.59,99.70 563.65,99.95 564.72,100.19 565.78,100.41 566.84,100.62 567.90,100.82 568.97,101.00 570.03,101.17 571.09,101.32 572.15,101.47 573.22,101.61 574.28,101.73 575.34,101.85 576.40,101.95 577.47,102.05 578.53,102.14 579.59,102.22 580.65,102.30 581.71,102.37 582.78,102.43 583.84,102.49 584.90,102.54 585.96,102.59 587.03,102.64 588.09,102.68 589.15,102.72 590.21,102.75 591.28,102.78 592.34,102.81 593.40,102.84 594.46,102.86 595.53,102.88 596.59,102.90 597.65,102.92 598.71,102.94 599.78,102.95 600.84,102.96 601.90,102.98 602.96,102.99 604.03,103.00 605.09,103.01 606.15,103.02 607.21,103.02 608.27,103.03 609.34,103.04 610.40,103.04 611.46,103.05 612.52,103.05 613.59,103.06 614.65,103.06 615.71,103.06 616.77,103.07 617.84,103.07 618.90,103.07 619.96,103.08 621.02,103.08 622.09,103.08 623.15,103.08 624.21,103.08" fill="none" stroke="#0b8a0b" stroke-width="1.0"/>
<polyline points="496.72,92.70 508.31,92.70 519.90,92.70 531.49,92.70 543.08,92.70 554.67,92.70 566.26,92.70 577.85,92.70 589.44,92.70 601.03,92.70 612.62,92.70 624.21,92.70" fill="none" stroke="#777" stroke-width="1.5"/>
<path d="M496.72 95.50L499.12 97.90L496.72 100.30L494.32 97.90Z" fill="#c400e8"/>
<path d="M508.31 90.30L510.71 92.70L508.31 95.10L505.91 92.70Z" fill="#c400e8"/>
<path d="M519.90 79.90L522.30 82.30L519.90 84.70L517.50 82.30Z" fill="#c400e8"/>
<path d="M531.49 77.95L533.89 80.35L531.49 82.75L529.09 80.35Z" fill="#c400e8"/>
<path d="M543.08 91.92L545.48 94.32L543.08 96.72L540.68 94.32Z" fill="#c400e8"/>
<path d="M554.67 79.90L557.07 82.30L554.67 84.70L552.27 82.30Z" fill="#c400e8"/>
<path d="M566.26 85.10L568.66 87.50L566.26 89.90L563.86 87.50Z" fill="#c400e8"/>
<path d="M577.85 86.07L580.25 88.47L577.85 90.87L575.45 88.47Z" fill="#c400e8"/>
<path d="M589.44 86.07L591.84 88.47L589.44 90.87L587.04 88.47Z" fill="#c400e8"/>
<path d="M601.03 87.70L603.43 90.10L601.03 92.50L598.63 90.10Z" fill="#c400e8"/>
<path d="M612.62 83.80L615.02 86.20L612.62 88.60L610.22 86.20Z" fill="#c400e8"/>
<path d="M624.21 93.09L626.61 95.49L624.21 97.89L621.81 95.49Z" fill="#c400e8"/>
<path d="M496.72 70.46L499.12 75.02L494.32 75.02Z" fill="#0000ff"/>
<path d="M508.31 82.16L510.71 86.72L505.91 86.72Z" fill="#0000ff"/>
<path d="M519.90 83.46L522.30 88.02L517.50 88.02Z" fill="#0000ff"/>
<path d="M531.49 83.46L533.89 88.02L529.09 88.02Z" fill="#0000ff"/>
<path d="M543.08 88.01L545.48 92.57L540.68 92.57Z" fill="#0000ff"/>
<path d="M554.67 75.66L557.07 80.22L552.27 80.22Z" fill="#0000ff"/>
<path d="M566.26 77.61L568.66 82.17L563.86 82.17Z" fill="#0000ff"/>
<path d="M577.85 78.26L580.25 82.82L575.45 82.82Z" fill="#0000ff"/>
<path d="M589.44 83.46L591.84 88.02L587.04 88.02Z" fill="#0000ff"/>
<path d="M601.03 90.61L603.43 95.17L598.63 95.17Z" fill="#0000ff"/>
<path d="M612.62 75.66L615.02 80.22L610.22 80.22Z" fill="#0000ff"/>
<path d="M624.21 83.46L626.61 88.02L621.81 88.02Z" fill="#0000ff"/>
<circle cx="496.72" cy="87.50" r="2.4" fill="#0b8a0b"/>
<circle cx="508.31" cy="81.97" r="2.4" fill="#0b8a0b"/>
<circle cx="519.90" cy="90.10" r="2.4" fill="#0b8a0b"/>
<circle cx="531.49" cy="93.35" r="2.4" fill="#0b8a0b"/>
<circle cx="543.08" cy="90.75" r="2.4" fill="#0b8a0b"/>
<circle cx="554.67" cy="103.10" r="2.4" fill="#0b8a0b"/>
<circle cx="566.26" cy="93.35" r="2.4" fill="#0b8a0b"/>
<circle cx="577.85" cy="104.40" r="2.4" fill="#0b8a0b"/>
<circle cx="589.44" cy="93.35" r="2.4" fill="#0b8a0b"/>
<circle cx="601.03" cy="101.15" r="2.4" fill="#0b8a0b"/>
<circle cx="612.62" cy="112.85" r="2.4" fill="#0b8a0b"/>
<circle cx="624.21" cy="101.80" r="2.4" fill="#0b8a0b"/>
<rect x="494.62" y="90.60" width="4.2" height="4.2" fill="#000"/>
<rect x="506.21" y="90.60" width="4.2" height="4.2" fill="#000"/>
<rect x="517.80" y="90.60" width="4.2" height="4.2" fill="#000"/>
<rect x="529.39" y="90.60" width="4.2" height="4.2" fill="#000"/>
<rect x="540.98" y="90.60" width="4.2" height="4.2" fill="#000"/>
<rect x="552.57" y="90.60" width="4.2" height="4.2" fill="#000"/>
<rect x="564.16" y="90.60" width="4.2" height="4.2" fill="#000"/>
<rect x="575.75" y="90.60" width="4.2" height="4.2" fill="#000"/>
<rect x="587.34" y="90.60" width="4.2" height="4.2" fill="#000"/>
<rect x="598.93" y="90.60" width="4.2" height="4.2" fill="#000"/>
<rect x="610.52" y="90.60" width="4.2" height="4.2" fill="#000"/>
<rect x="622.11" y="90.60" width="4.2" height="4.2" fill="#000"/>
<line x1="627.60" y1="27.80" x2="641.10" y2="27.80" stroke="#111" stroke-width="1.0" />
<rect x="632.00" y="25.60" width="4.4" height="4.4" fill="#000"/>
<text x="648.70" y="31.30" font-size="9.7" font-weight="normal" text-anchor="start" fill="#222" >Mock</text>
<line x1="627.60" y1="44.10" x2="641.10" y2="44.10" stroke="#7fc77f" stroke-width="1.0" />
<circle cx="634.20" cy="44.10" r="2.4" fill="#0b8a0b"/>
<text x="648.70" y="47.60" font-size="9.7" font-weight="normal" text-anchor="start" fill="#222" >Donor 1</text>
<line x1="627.60" y1="60.40" x2="641.10" y2="60.40" stroke="#8080ff" stroke-width="1.0" />
<path d="M634.20 57.66L636.60 62.22L631.80 62.22Z" fill="#0000ff"/>
<text x="648.70" y="63.90" font-size="9.7" font-weight="normal" text-anchor="start" fill="#222" >Donor 2</text>
<line x1="627.60" y1="76.70" x2="641.10" y2="76.70" stroke="#e080f5" stroke-width="1.0" />
<path d="M634.20 74.30L636.60 76.70L634.20 79.10L631.80 76.70Z" fill="#c400e8"/>
<text x="648.70" y="80.20" font-size="9.7" font-weight="normal" text-anchor="start" fill="#222" >Donor 3</text>
<text x="558.80" y="211.10" font-size="9.9" font-weight="bold" text-anchor="middle" fill="#111" >Ibalizumab Expressing Cells</text>
<line x1="483.90" y1="330.00" x2="634.40" y2="330.00" stroke="#222" stroke-width="1.05" stroke-dasharray="1.15 2.0"/>
<line x1="481.80" y1="225.40" x2="481.80" y2="336.70" stroke="#000" stroke-width="1.3" />
<line x1="481.20" y1="336.10" x2="636.20" y2="336.10" stroke="#000" stroke-width="1.3" />
<line x1="477.60" y1="330.00" x2="481.80" y2="330.00" stroke="#000" stroke-width="1.2" />
<text x="475.90" y="332.90" font-size="8.2" font-weight="bold" text-anchor="end" textLength="4.06" lengthAdjust="spacingAndGlyphs" fill="#111">0</text>
<line x1="477.60" y1="297.50" x2="481.80" y2="297.50" stroke="#000" stroke-width="1.2" />
<text x="475.90" y="300.40" font-size="8.2" font-weight="bold" text-anchor="end" textLength="8.12" lengthAdjust="spacingAndGlyphs" fill="#111">50</text>
<line x1="477.60" y1="265.00" x2="481.80" y2="265.00" stroke="#000" stroke-width="1.2" />
<text x="475.90" y="267.90" font-size="8.2" font-weight="bold" text-anchor="end" textLength="12.17" lengthAdjust="spacingAndGlyphs" fill="#111">100</text>
<line x1="477.60" y1="232.50" x2="481.80" y2="232.50" stroke="#000" stroke-width="1.2" />
<text x="475.90" y="235.40" font-size="8.2" font-weight="bold" text-anchor="end" textLength="12.17" lengthAdjust="spacingAndGlyphs" fill="#111">150</text>
<line x1="481.80" y1="336.10" x2="481.80" y2="340.60" stroke="#000" stroke-width="1.2" />
<text x="481.80" y="350.30" font-size="8.2" font-weight="bold" text-anchor="middle" textLength="22.57" lengthAdjust="spacingAndGlyphs" fill="#111">0.0001</text>
<line x1="520.30" y1="336.10" x2="520.30" y2="340.60" stroke="#000" stroke-width="1.2" />
<text x="520.30" y="350.30" font-size="8.2" font-weight="bold" text-anchor="middle" textLength="18.46" lengthAdjust="spacingAndGlyphs" fill="#111">0.001</text>
<line x1="558.80" y1="336.10" x2="558.80" y2="340.60" stroke="#000" stroke-width="1.2" />
<text x="558.80" y="350.30" font-size="8.2" font-weight="bold" text-anchor="middle" textLength="14.36" lengthAdjust="spacingAndGlyphs" fill="#111">0.01</text>
<line x1="597.30" y1="336.10" x2="597.30" y2="340.60" stroke="#000" stroke-width="1.2" />
<text x="597.30" y="350.30" font-size="8.2" font-weight="bold" text-anchor="middle" textLength="10.26" lengthAdjust="spacingAndGlyphs" fill="#111">0.1</text>
<line x1="635.80" y1="336.10" x2="635.80" y2="340.60" stroke="#000" stroke-width="1.2" />
<text x="635.80" y="350.30" font-size="8.2" font-weight="bold" text-anchor="middle" textLength="4.10" lengthAdjust="spacingAndGlyphs" fill="#111">1</text>
<text x="558.80" y="363.70" font-size="8.6" font-weight="bold" text-anchor="middle" fill="#111" >Dilution of B Cell Supernatant</text>
<text transform="translate(458.80,281.10) rotate(-90)" font-size="9.0" font-weight="bold" text-anchor="middle" fill="#111">% Infection</text>
<g stroke="#0000ff" stroke-width="1.0" opacity="0.75">
<line x1="519.90" y1="248.75" x2="519.90" y2="242.25" stroke="#0000ff" stroke-width="1.0" />
<line x1="517.60" y1="248.75" x2="522.20" y2="248.75" stroke="#0000ff" stroke-width="1.0" />
<line x1="517.60" y1="242.25" x2="522.20" y2="242.25" stroke="#0000ff" stroke-width="1.0" />
</g>
<g stroke="#0000ff" stroke-width="1.0" opacity="0.75">
<line x1="531.49" y1="270.20" x2="531.49" y2="237.05" stroke="#0000ff" stroke-width="1.0" />
<line x1="529.19" y1="270.20" x2="533.79" y2="270.20" stroke="#0000ff" stroke-width="1.0" />
<line x1="529.19" y1="237.05" x2="533.79" y2="237.05" stroke="#0000ff" stroke-width="1.0" />
</g>
<g stroke="#0000ff" stroke-width="1.0" opacity="0.75">
<line x1="566.26" y1="268.25" x2="566.26" y2="253.30" stroke="#0000ff" stroke-width="1.0" />
<line x1="563.96" y1="268.25" x2="568.56" y2="268.25" stroke="#0000ff" stroke-width="1.0" />
<line x1="563.96" y1="253.30" x2="568.56" y2="253.30" stroke="#0000ff" stroke-width="1.0" />
</g>
<g stroke="#0000ff" stroke-width="1.0" opacity="0.75">
<line x1="589.44" y1="278.00" x2="589.44" y2="260.45" stroke="#0000ff" stroke-width="1.0" />
<line x1="587.14" y1="278.00" x2="591.74" y2="278.00" stroke="#0000ff" stroke-width="1.0" />
<line x1="587.14" y1="260.45" x2="591.74" y2="260.45" stroke="#0000ff" stroke-width="1.0" />
</g>
<g stroke="#0000ff" stroke-width="1.0" opacity="0.75">
<line x1="601.03" y1="300.75" x2="601.03" y2="294.25" stroke="#0000ff" stroke-width="1.0" />
<line x1="598.73" y1="300.75" x2="603.33" y2="300.75" stroke="#0000ff" stroke-width="1.0" />
<line x1="598.73" y1="294.25" x2="603.33" y2="294.25" stroke="#0000ff" stroke-width="1.0" />
</g>
<g stroke="#c400e8" stroke-width="1.0" opacity="0.75">
<line x1="496.72" y1="275.40" x2="496.72" y2="267.60" stroke="#c400e8" stroke-width="1.0" />
<line x1="494.42" y1="275.40" x2="499.02" y2="275.40" stroke="#c400e8" stroke-width="1.0" />
<line x1="494.42" y1="267.60" x2="499.02" y2="267.60" stroke="#c400e8" stroke-width="1.0" />
</g>
<g stroke="#c400e8" stroke-width="1.0" opacity="0.75">
<line x1="508.31" y1="280.60" x2="508.31" y2="254.60" stroke="#c400e8" stroke-width="1.0" />
<line x1="506.01" y1="280.60" x2="510.61" y2="280.60" stroke="#c400e8" stroke-width="1.0" />
<line x1="506.01" y1="254.60" x2="510.61" y2="254.60" stroke="#c400e8" stroke-width="1.0" />
</g>
<g stroke="#c400e8" stroke-width="1.0" opacity="0.75">
<line x1="519.90" y1="276.05" x2="519.90" y2="266.95" stroke="#c400e8" stroke-width="1.0" />
<line x1="517.60" y1="276.05" x2="522.20" y2="276.05" stroke="#c400e8" stroke-width="1.0" />
<line x1="517.60" y1="266.95" x2="522.20" y2="266.95" stroke="#c400e8" stroke-width="1.0" />
</g>
<g stroke="#c400e8" stroke-width="1.0" opacity="0.75">
<line x1="554.67" y1="281.90" x2="554.67" y2="265.65" stroke="#c400e8" stroke-width="1.0" />
<line x1="552.37" y1="281.90" x2="556.97" y2="281.90" stroke="#c400e8" stroke-width="1.0" />
<line x1="552.37" y1="265.65" x2="556.97" y2="265.65" stroke="#c400e8" stroke-width="1.0" />
</g>
<g stroke="#c400e8" stroke-width="1.0" opacity="0.75">
<line x1="566.26" y1="279.30" x2="566.26" y2="268.25" stroke="#c400e8" stroke-width="1.0" />
<line x1="563.96" y1="279.30" x2="568.56" y2="279.30" stroke="#c400e8" stroke-width="1.0" />
<line x1="563.96" y1="268.25" x2="568.56" y2="268.25" stroke="#c400e8" stroke-width="1.0" />
</g>
<g stroke="#c400e8" stroke-width="1.0" opacity="0.75">
<line x1="589.44" y1="294.25" x2="589.44" y2="278.65" stroke="#c400e8" stroke-width="1.0" />
<line x1="587.14" y1="294.25" x2="591.74" y2="294.25" stroke="#c400e8" stroke-width="1.0" />
<line x1="587.14" y1="278.65" x2="591.74" y2="278.65" stroke="#c400e8" stroke-width="1.0" />
</g>
<g stroke="#0b8a0b" stroke-width="1.0" opacity="0.75">
<line x1="508.31" y1="261.75" x2="508.31" y2="253.30" stroke="#0b8a0b" stroke-width="1.0" />
<line x1="506.01" y1="261.75" x2="510.61" y2="261.75" stroke="#0b8a0b" stroke-width="1.0" />
<line x1="506.01" y1="253.30" x2="510.61" y2="253.30" stroke="#0b8a0b" stroke-width="1.0" />
</g>
<g stroke="#0b8a0b" stroke-width="1.0" opacity="0.75">
<line x1="531.49" y1="268.90" x2="531.49" y2="250.70" stroke="#0b8a0b" stroke-width="1.0" />
<line x1="529.19" y1="268.90" x2="533.79" y2="268.90" stroke="#0b8a0b" stroke-width="1.0" />
<line x1="529.19" y1="250.70" x2="533.79" y2="250.70" stroke="#0b8a0b" stroke-width="1.0" />
</g>
<g stroke="#0b8a0b" stroke-width="1.0" opacity="0.75">
<line x1="543.08" y1="266.95" x2="543.08" y2="247.45" stroke="#0b8a0b" stroke-width="1.0" />
<line x1="540.78" y1="266.95" x2="545.38" y2="266.95" stroke="#0b8a0b" stroke-width="1.0" />
<line x1="540.78" y1="247.45" x2="545.38" y2="247.45" stroke="#0b8a0b" stroke-width="1.0" />
</g>
<g stroke="#0b8a0b" stroke-width="1.0" opacity="0.75">
<line x1="566.26" y1="271.50" x2="566.26" y2="258.50" stroke="#0b8a0b" stroke-width="1.0" />
<line x1="563.96" y1="271.50" x2="568.56" y2="271.50" stroke="#0b8a0b" stroke-width="1.0" />
<line x1="563.96" y1="258.50" x2="568.56" y2="258.50" stroke="#0b8a0b" stroke-width="1.0" />
</g>
<g stroke="#0b8a0b" stroke-width="1.0" opacity="0.75">
<line x1="577.85" y1="294.90" x2="577.85" y2="270.20" stroke="#0b8a0b" stroke-width="1.0" />
<line x1="575.55" y1="294.90" x2="580.15" y2="294.90" stroke="#0b8a0b" stroke-width="1.0" />
<line x1="575.55" y1="270.20" x2="580.15" y2="270.20" stroke="#0b8a0b" stroke-width="1.0" />
</g>
<polyline points="496.72,266.64 497.79,266.64 498.85,266.65 499.91,266.65 500.97,266.65 502.04,266.65 503.10,266.66 504.16,266.66 505.22,266.66 506.29,266.67 507.35,266.67 508.41,266.67 509.47,266.68 510.54,266.68 511.60,266.69 512.66,266.69 513.72,266.70 514.78,266.71 515.85,266.72 516.91,266.72 517.97,266.73 519.03,266.74 520.10,266.75 521.16,266.77 522.22,266.78 523.28,266.79 524.35,266.81 525.41,266.83 526.47,266.84 527.53,266.86 528.60,266.89 529.66,266.91 530.72,266.94 531.78,266.97 532.85,267.00 533.91,267.03 534.97,267.07 536.03,267.11 537.09,267.16 538.16,267.20 539.22,267.26 540.28,267.32 541.34,267.38 542.41,267.45 543.47,267.52 544.53,267.61 545.59,267.70 546.66,267.79 547.72,267.90 548.78,268.01 549.84,268.14 550.91,268.28 551.97,268.42 553.03,268.58 554.09,268.76 555.16,268.95 556.22,269.15 557.28,269.38 558.34,269.62 559.40,269.88 560.47,270.16 561.53,270.46 562.59,270.79 563.65,271.14 564.72,271.52 565.78,271.93 566.84,272.37 567.90,272.83 568.97,273.33 570.03,273.87 571.09,274.44 572.15,275.04 573.22,275.69 574.28,276.37 575.34,277.08 576.40,277.84 577.47,278.63 578.53,279.47 579.59,280.34 580.65,281.24 581.71,282.18 582.78,283.15 583.84,284.16 584.90,285.19 585.96,286.24 587.03,287.32 588.09,288.41 589.15,289.52 590.21,290.63 591.28,291.75 592.34,292.87 593.40,293.98 594.46,295.09 595.53,296.19 596.59,297.26 597.65,298.32 598.71,299.35 599.78,300.36 600.84,301.33 601.90,302.28 602.96,303.19 604.03,304.06 605.09,304.90 606.15,305.70 607.21,306.46 608.27,307.18 609.34,307.86 610.40,308.51 611.46,309.12 612.52,309.69 613.59,310.23 614.65,310.74 615.71,311.21 616.77,311.65 617.84,312.06 618.90,312.44 619.96,312.80 621.02,313.13 622.09,313.43 623.15,313.72 624.21,313.98" fill="none" stroke="#c400e8" stroke-width="1.0"/>
<polyline points="496.72,256.57 497.79,256.58 498.85,256.58 499.91,256.58 500.97,256.58 502.04,256.59 503.10,256.59 504.16,256.59 505.22,256.60 506.29,256.60 507.35,256.60 508.41,256.61 509.47,256.61 510.54,256.62 511.60,256.63 512.66,256.63 513.72,256.64 514.78,256.65 515.85,256.65 516.91,256.66 517.97,256.67 519.03,256.68 520.10,256.70 521.16,256.71 522.22,256.72 523.28,256.74 524.35,256.75 525.41,256.77 526.47,256.79 527.53,256.81 528.60,256.83 529.66,256.86 530.72,256.88 531.78,256.91 532.85,256.94 533.91,256.97 534.97,257.01 536.03,257.05 537.09,257.09 538.16,257.14 539.22,257.19 540.28,257.24 541.34,257.30 542.41,257.37 543.47,257.44 544.53,257.51 545.59,257.59 546.66,257.68 547.72,257.78 548.78,257.88 549.84,257.99 550.91,258.11 551.97,258.24 553.03,258.38 554.09,258.54 555.16,258.70 556.22,258.88 557.28,259.07 558.34,259.28 559.40,259.50 560.47,259.74 561.53,260.00 562.59,260.28 563.65,260.58 564.72,260.90 565.78,261.25 566.84,261.62 567.90,262.01 568.97,262.43 570.03,262.89 571.09,263.37 572.15,263.88 573.22,264.43 574.28,265.01 575.34,265.63 576.40,266.28 577.47,266.97 578.53,267.70 579.59,268.47 580.65,269.27 581.71,270.12 582.78,271.00 583.84,271.92 584.90,272.88 585.96,273.88 587.03,274.90 588.09,275.97 589.15,277.06 590.21,278.18 591.28,279.32 592.34,280.49 593.40,281.68 594.46,282.88 595.53,284.09 596.59,285.31 597.65,286.53 598.71,287.75 599.78,288.96 600.84,290.17 601.90,291.36 602.96,292.53 604.03,293.69 605.09,294.81 606.15,295.92 607.21,296.99 608.27,298.03 609.34,299.04 610.40,300.01 611.46,300.94 612.52,301.84 613.59,302.69 614.65,303.51 615.71,304.29 616.77,305.03 617.84,305.74 618.90,306.40 619.96,307.03 621.02,307.62 622.09,308.18 623.15,308.71 624.21,309.20" fill="none" stroke="#0000ff" stroke-width="1.0"/>
<polyline points="496.72,256.57 497.79,256.57 498.85,256.57 499.91,256.57 500.97,256.57 502.04,256.58 503.10,256.58 504.16,256.58 505.22,256.59 506.29,256.59 507.35,256.59 508.41,256.60 509.47,256.60 510.54,256.61 511.60,256.61 512.66,256.62 513.72,256.63 514.78,256.63 515.85,256.64 516.91,256.65 517.97,256.66 519.03,256.67 520.10,256.69 521.16,256.70 522.22,256.71 523.28,256.73 524.35,256.75 525.41,256.77 526.47,256.79 527.53,256.81 528.60,256.84 529.66,256.87 530.72,256.90 531.78,256.94 532.85,256.97 533.91,257.02 534.97,257.06 536.03,257.11 537.09,257.17 538.16,257.23 539.22,257.30 540.28,257.37 541.34,257.45 542.41,257.54 543.47,257.64 544.53,257.74 545.59,257.86 546.66,257.99 547.72,258.13 548.78,258.28 549.84,258.45 550.91,258.64 551.97,258.84 553.03,259.06 554.09,259.30 555.16,259.56 556.22,259.85 557.28,260.16 558.34,260.49 559.40,260.86 560.47,261.26 561.53,261.70 562.59,262.17 563.65,262.67 564.72,263.22 565.78,263.81 566.84,264.45 567.90,265.14 568.97,265.87 570.03,266.66 571.09,267.50 572.15,268.39 573.22,269.34 574.28,270.34 575.34,271.40 576.40,272.52 577.47,273.69 578.53,274.92 579.59,276.19 580.65,277.52 581.71,278.88 582.78,280.29 583.84,281.74 584.90,283.21 585.96,284.71 587.03,286.23 588.09,287.76 589.15,289.29 590.21,290.82 591.28,292.34 592.34,293.85 593.40,295.33 594.46,296.78 595.53,298.20 596.59,299.58 597.65,300.92 598.71,302.21 599.78,303.45 600.84,304.63 601.90,305.76 602.96,306.84 604.03,307.86 605.09,308.82 606.15,309.73 607.21,310.58 608.27,311.38 609.34,312.13 610.40,312.82 611.46,313.47 612.52,314.08 613.59,314.64 614.65,315.16 615.71,315.64 616.77,316.08 617.84,316.49 618.90,316.86 619.96,317.21 621.02,317.53 622.09,317.82 623.15,318.09 624.21,318.33" fill="none" stroke="#0b8a0b" stroke-width="1.0"/>
<polyline points="496.72,265.00 508.31,265.00 519.90,265.00 531.49,265.00 543.08,265.00 554.67,265.00 566.26,265.00 577.85,265.00 589.44,265.00 601.03,265.00 612.62,265.00 624.21,265.00" fill="none" stroke="#777" stroke-width="1.5"/>
<path d="M496.72 269.36L499.12 271.76L496.72 274.16L494.32 271.76Z" fill="#c400e8"/>
<path d="M508.31 268.19L510.71 270.59L508.31 272.99L505.91 270.59Z" fill="#c400e8"/>
<path d="M519.90 268.91L522.30 271.31L519.90 273.70L517.50 271.31Z" fill="#c400e8"/>
<path d="M531.49 256.10L533.89 258.50L531.49 260.90L529.09 258.50Z" fill="#c400e8"/>
<path d="M543.08 266.50L545.48 268.90L543.08 271.30L540.68 268.90Z" fill="#c400e8"/>
<path d="M554.67 273.00L557.07 275.40L554.67 277.80L552.27 275.40Z" fill="#c400e8"/>
<path d="M566.26 271.70L568.66 274.10L566.26 276.50L563.86 274.10Z" fill="#c400e8"/>
<path d="M577.85 275.60L580.25 278.00L577.85 280.40L575.45 278.00Z" fill="#c400e8"/>
<path d="M589.44 284.70L591.84 287.10L589.44 289.50L587.04 287.10Z" fill="#c400e8"/>
<path d="M601.03 298.03L603.43 300.43L601.03 302.82L598.63 300.43Z" fill="#c400e8"/>
<path d="M612.62 305.50L615.02 307.90L612.62 310.30L610.22 307.90Z" fill="#c400e8"/>
<path d="M624.21 309.66L626.61 312.06L624.21 314.46L621.81 312.06Z" fill="#c400e8"/>
<path d="M496.72 254.46L499.12 259.02L494.32 259.02Z" fill="#0000ff"/>
<path d="M508.31 259.21L510.71 263.77L505.91 263.77Z" fill="#0000ff"/>
<path d="M519.90 242.96L522.30 247.52L517.50 247.52Z" fill="#0000ff"/>
<path d="M531.49 252.51L533.89 257.07L529.09 257.07Z" fill="#0000ff"/>
<path d="M543.08 262.91L545.48 267.47L540.68 267.47Z" fill="#0000ff"/>
<path d="M554.67 256.41L557.07 260.97L552.27 260.97Z" fill="#0000ff"/>
<path d="M566.26 262.26L568.66 266.82L563.86 266.82Z" fill="#0000ff"/>
<path d="M577.85 265.77L580.25 270.33L575.45 270.33Z" fill="#0000ff"/>
<path d="M589.44 269.74L591.84 274.30L587.04 274.30Z" fill="#0000ff"/>
<path d="M601.03 294.76L603.43 299.32L598.63 299.32Z" fill="#0000ff"/>
<path d="M612.62 297.69L615.02 302.25L610.22 302.25Z" fill="#0000ff"/>
<path d="M624.21 306.46L626.61 311.02L621.81 311.02Z" fill="#0000ff"/>
<circle cx="496.72" cy="261.94" r="2.4" fill="#0b8a0b"/>
<circle cx="508.31" cy="256.88" r="2.4" fill="#0b8a0b"/>
<circle cx="519.90" cy="243.81" r="2.4" fill="#0b8a0b"/>
<circle cx="531.49" cy="265.65" r="2.4" fill="#0b8a0b"/>
<circle cx="543.08" cy="259.80" r="2.4" fill="#0b8a0b"/>
<circle cx="554.67" cy="261.94" r="2.4" fill="#0b8a0b"/>
<circle cx="566.26" cy="265.65" r="2.4" fill="#0b8a0b"/>
<circle cx="577.85" cy="284.82" r="2.4" fill="#0b8a0b"/>
<circle cx="589.44" cy="282.94" r="2.4" fill="#0b8a0b"/>
<circle cx="601.03" cy="307.38" r="2.4" fill="#0b8a0b"/>
<circle cx="612.62" cy="315.70" r="2.4" fill="#0b8a0b"/>
<circle cx="624.21" cy="315.70" r="2.4" fill="#0b8a0b"/>
<rect x="494.62" y="262.90" width="4.2" height="4.2" fill="#000"/>
<rect x="506.21" y="262.90" width="4.2" height="4.2" fill="#000"/>
<rect x="517.80" y="262.90" width="4.2" height="4.2" fill="#000"/>
<rect x="529.39" y="262.90" width="4.2" height="4.2" fill="#000"/>
<rect x="540.98" y="262.90" width="4.2" height="4.2" fill="#000"/>
<rect x="552.57" y="262.90" width="4.2" height="4.2" fill="#000"/>
<rect x="564.16" y="262.90" width="4.2" height="4.2" fill="#000"/>
<rect x="575.75" y="262.90" width="4.2" height="4.2" fill="#000"/>
<rect x="587.34" y="262.90" width="4.2" height="4.2" fill="#000"/>
<rect x="598.93" y="262.90" width="4.2" height="4.2" fill="#000"/>
<rect x="610.52" y="262.90" width="4.2" height="4.2" fill="#000"/>
<rect x="622.11" y="262.90" width="4.2" height="4.2" fill="#000"/>
<text x="558.80" y="384.40" font-size="9.9" font-weight="bold" text-anchor="middle" fill="#111" >PGDM1400 Expressing Cells</text>
<line x1="483.90" y1="503.30" x2="634.40" y2="503.30" stroke="#222" stroke-width="1.05" stroke-dasharray="1.15 2.0"/>
<line x1="481.80" y1="398.70" x2="481.80" y2="510.00" stroke="#000" stroke-width="1.3" />
<line x1="481.20" y1="509.40" x2="636.20" y2="509.40" stroke="#000" stroke-width="1.3" />
<line x1="477.60" y1="503.30" x2="481.80" y2="503.30" stroke="#000" stroke-width="1.2" />
<text x="475.90" y="506.20" font-size="8.2" font-weight="bold" text-anchor="end" textLength="4.06" lengthAdjust="spacingAndGlyphs" fill="#111">0</text>
<line x1="477.60" y1="470.80" x2="481.80" y2="470.80" stroke="#000" stroke-width="1.2" />
<text x="475.90" y="473.70" font-size="8.2" font-weight="bold" text-anchor="end" textLength="8.12" lengthAdjust="spacingAndGlyphs" fill="#111">50</text>
<line x1="477.60" y1="438.30" x2="481.80" y2="438.30" stroke="#000" stroke-width="1.2" />
<text x="475.90" y="441.20" font-size="8.2" font-weight="bold" text-anchor="end" textLength="12.17" lengthAdjust="spacingAndGlyphs" fill="#111">100</text>
<line x1="477.60" y1="405.80" x2="481.80" y2="405.80" stroke="#000" stroke-width="1.2" />
<text x="475.90" y="408.70" font-size="8.2" font-weight="bold" text-anchor="end" textLength="12.17" lengthAdjust="spacingAndGlyphs" fill="#111">150</text>
<line x1="481.80" y1="509.40" x2="481.80" y2="513.90" stroke="#000" stroke-width="1.2" />
<text x="481.80" y="523.60" font-size="8.2" font-weight="bold" text-anchor="middle" textLength="22.57" lengthAdjust="spacingAndGlyphs" fill="#111">0.0001</text>
<line x1="520.30" y1="509.40" x2="520.30" y2="513.90" stroke="#000" stroke-width="1.2" />
<text x="520.30" y="523.60" font-size="8.2" font-weight="bold" text-anchor="middle" textLength="18.46" lengthAdjust="spacingAndGlyphs" fill="#111">0.001</text>
<line x1="558.80" y1="509.40" x2="558.80" y2="513.90" stroke="#000" stroke-width="1.2" />
<text x="558.80" y="523.60" font-size="8.2" font-weight="bold" text-anchor="middle" textLength="14.36" lengthAdjust="spacingAndGlyphs" fill="#111">0.01</text>
<line x1="597.30" y1="509.40" x2="597.30" y2="513.90" stroke="#000" stroke-width="1.2" />
<text x="597.30" y="523.60" font-size="8.2" font-weight="bold" text-anchor="middle" textLength="10.26" lengthAdjust="spacingAndGlyphs" fill="#111">0.1</text>
<line x1="635.80" y1="509.40" x2="635.80" y2="513.90" stroke="#000" stroke-width="1.2" />
<text x="635.80" y="523.60" font-size="8.2" font-weight="bold" text-anchor="middle" textLength="4.10" lengthAdjust="spacingAndGlyphs" fill="#111">1</text>
<text x="558.80" y="537.00" font-size="8.6" font-weight="bold" text-anchor="middle" fill="#111" >Dilution of B Cell Supernatant</text>
<text transform="translate(458.80,454.40) rotate(-90)" font-size="9.0" font-weight="bold" text-anchor="middle" fill="#111">% Infection</text>
<g stroke="#0000ff" stroke-width="1.0" opacity="0.75">
<line x1="508.31" y1="430.50" x2="508.31" y2="415.55" stroke="#0000ff" stroke-width="1.0" />
<line x1="506.01" y1="430.50" x2="510.61" y2="430.50" stroke="#0000ff" stroke-width="1.0" />
<line x1="506.01" y1="415.55" x2="510.61" y2="415.55" stroke="#0000ff" stroke-width="1.0" />
</g>
<g stroke="#0000ff" stroke-width="1.0" opacity="0.75">
<line x1="519.90" y1="431.80" x2="519.90" y2="399.30" stroke="#0000ff" stroke-width="1.0" />
<line x1="517.60" y1="431.80" x2="522.20" y2="431.80" stroke="#0000ff" stroke-width="1.0" />
<line x1="517.60" y1="399.30" x2="522.20" y2="399.30" stroke="#0000ff" stroke-width="1.0" />
</g>
<g stroke="#0000ff" stroke-width="1.0" opacity="0.75">
<line x1="531.49" y1="439.60" x2="531.49" y2="399.30" stroke="#0000ff" stroke-width="1.0" />
<line x1="529.19" y1="439.60" x2="533.79" y2="439.60" stroke="#0000ff" stroke-width="1.0" />
<line x1="529.19" y1="399.30" x2="533.79" y2="399.30" stroke="#0000ff" stroke-width="1.0" />
</g>
<g stroke="#0000ff" stroke-width="1.0" opacity="0.75">
<line x1="543.08" y1="437.00" x2="543.08" y2="426.60" stroke="#0000ff" stroke-width="1.0" />
<line x1="540.78" y1="437.00" x2="545.38" y2="437.00" stroke="#0000ff" stroke-width="1.0" />
<line x1="540.78" y1="426.60" x2="545.38" y2="426.60" stroke="#0000ff" stroke-width="1.0" />
</g>
<g stroke="#0000ff" stroke-width="1.0" opacity="0.75">
<line x1="566.26" y1="461.05" x2="566.26" y2="453.25" stroke="#0000ff" stroke-width="1.0" />
<line x1="563.96" y1="461.05" x2="568.56" y2="461.05" stroke="#0000ff" stroke-width="1.0" />
<line x1="563.96" y1="453.25" x2="568.56" y2="453.25" stroke="#0000ff" stroke-width="1.0" />
</g>
<g stroke="#c400e8" stroke-width="1.0" opacity="0.75">
<line x1="496.72" y1="457.15" x2="496.72" y2="453.90" stroke="#c400e8" stroke-width="1.0" />
<line x1="494.42" y1="457.15" x2="499.02" y2="457.15" stroke="#c400e8" stroke-width="1.0" />
<line x1="494.42" y1="453.90" x2="499.02" y2="453.90" stroke="#c400e8" stroke-width="1.0" />
</g>
<g stroke="#c400e8" stroke-width="1.0" opacity="0.75">
<line x1="508.31" y1="461.70" x2="508.31" y2="443.50" stroke="#c400e8" stroke-width="1.0" />
<line x1="506.01" y1="461.70" x2="510.61" y2="461.70" stroke="#c400e8" stroke-width="1.0" />
<line x1="506.01" y1="443.50" x2="510.61" y2="443.50" stroke="#c400e8" stroke-width="1.0" />
</g>
<g stroke="#c400e8" stroke-width="1.0" opacity="0.75">
<line x1="519.90" y1="457.15" x2="519.90" y2="448.70" stroke="#c400e8" stroke-width="1.0" />
<line x1="517.60" y1="457.15" x2="522.20" y2="457.15" stroke="#c400e8" stroke-width="1.0" />
<line x1="517.60" y1="448.70" x2="522.20" y2="448.70" stroke="#c400e8" stroke-width="1.0" />
</g>
<g stroke="#c400e8" stroke-width="1.0" opacity="0.75">
<line x1="543.08" y1="467.55" x2="543.08" y2="455.85" stroke="#c400e8" stroke-width="1.0" />
<line x1="540.78" y1="467.55" x2="545.38" y2="467.55" stroke="#c400e8" stroke-width="1.0" />
<line x1="540.78" y1="455.85" x2="545.38" y2="455.85" stroke="#c400e8" stroke-width="1.0" />
</g>
<g stroke="#c400e8" stroke-width="1.0" opacity="0.75">
<line x1="566.26" y1="486.40" x2="566.26" y2="476.00" stroke="#c400e8" stroke-width="1.0" />
<line x1="563.96" y1="486.40" x2="568.56" y2="486.40" stroke="#c400e8" stroke-width="1.0" />
<line x1="563.96" y1="476.00" x2="568.56" y2="476.00" stroke="#c400e8" stroke-width="1.0" />
</g>
<g stroke="#0b8a0b" stroke-width="1.0" opacity="0.75">
<line x1="496.72" y1="431.80" x2="496.72" y2="420.10" stroke="#0b8a0b" stroke-width="1.0" />
<line x1="494.42" y1="431.80" x2="499.02" y2="431.80" stroke="#0b8a0b" stroke-width="1.0" />
<line x1="494.42" y1="420.10" x2="499.02" y2="420.10" stroke="#0b8a0b" stroke-width="1.0" />
</g>
<g stroke="#0b8a0b" stroke-width="1.0" opacity="0.75">
<line x1="508.31" y1="441.55" x2="508.31" y2="429.20" stroke="#0b8a0b" stroke-width="1.0" />
<line x1="506.01" y1="441.55" x2="510.61" y2="441.55" stroke="#0b8a0b" stroke-width="1.0" />
<line x1="506.01" y1="429.20" x2="510.61" y2="429.20" stroke="#0b8a0b" stroke-width="1.0" />
</g>
<g stroke="#0b8a0b" stroke-width="1.0" opacity="0.75">
<line x1="531.49" y1="446.10" x2="531.49" y2="439.60" stroke="#0b8a0b" stroke-width="1.0" />
<line x1="529.19" y1="446.10" x2="533.79" y2="446.10" stroke="#0b8a0b" stroke-width="1.0" />
<line x1="529.19" y1="439.60" x2="533.79" y2="439.60" stroke="#0b8a0b" stroke-width="1.0" />
</g>
<g stroke="#0b8a0b" stroke-width="1.0" opacity="0.75">
<line x1="554.67" y1="466.90" x2="554.67" y2="460.40" stroke="#0b8a0b" stroke-width="1.0" />
<line x1="552.37" y1="466.90" x2="556.97" y2="466.90" stroke="#0b8a0b" stroke-width="1.0" />
<line x1="552.37" y1="460.40" x2="556.97" y2="460.40" stroke="#0b8a0b" stroke-width="1.0" />
</g>
<g stroke="#0b8a0b" stroke-width="1.0" opacity="0.75">
<line x1="566.26" y1="481.85" x2="566.26" y2="476.00" stroke="#0b8a0b" stroke-width="1.0" />
<line x1="563.96" y1="481.85" x2="568.56" y2="481.85" stroke="#0b8a0b" stroke-width="1.0" />
<line x1="563.96" y1="476.00" x2="568.56" y2="476.00" stroke="#0b8a0b" stroke-width="1.0" />
</g>
<g stroke="#0b8a0b" stroke-width="1.0" opacity="0.75">
<line x1="577.85" y1="495.50" x2="577.85" y2="486.40" stroke="#0b8a0b" stroke-width="1.0" />
<line x1="575.55" y1="495.50" x2="580.15" y2="495.50" stroke="#0b8a0b" stroke-width="1.0" />
<line x1="575.55" y1="486.40" x2="580.15" y2="486.40" stroke="#0b8a0b" stroke-width="1.0" />
</g>
<polyline points="496.72,450.72 497.79,450.78 498.85,450.83 499.91,450.89 500.97,450.95 502.04,451.02 503.10,451.09 504.16,451.17 505.22,451.25 506.29,451.34 507.35,451.44 508.41,451.54 509.47,451.65 510.54,451.76 511.60,451.89 512.66,452.02 513.72,452.16 514.78,452.31 515.85,452.47 516.91,452.63 517.97,452.82 519.03,453.01 520.10,453.21 521.16,453.43 522.22,453.66 523.28,453.91 524.35,454.17 525.41,454.44 526.47,454.74 527.53,455.05 528.60,455.38 529.66,455.72 530.72,456.09 531.78,456.48 532.85,456.89 533.91,457.32 534.97,457.77 536.03,458.24 537.09,458.74 538.16,459.27 539.22,459.81 540.28,460.39 541.34,460.98 542.41,461.60 543.47,462.25 544.53,462.92 545.59,463.62 546.66,464.34 547.72,465.08 548.78,465.85 549.84,466.64 550.91,467.45 551.97,468.28 553.03,469.13 554.09,470.00 555.16,470.88 556.22,471.77 557.28,472.68 558.34,473.59 559.40,474.51 560.47,475.44 561.53,476.37 562.59,477.30 563.65,478.23 564.72,479.16 565.78,480.08 566.84,480.99 567.90,481.89 568.97,482.78 570.03,483.65 571.09,484.51 572.15,485.35 573.22,486.18 574.28,486.98 575.34,487.76 576.40,488.52 577.47,489.25 578.53,489.96 579.59,490.65 580.65,491.31 581.71,491.95 582.78,492.56 583.84,493.15 584.90,493.71 585.96,494.25 587.03,494.76 588.09,495.25 589.15,495.71 590.21,496.16 591.28,496.58 592.34,496.98 593.40,497.36 594.46,497.72 595.53,498.06 596.59,498.38 597.65,498.68 598.71,498.97 599.78,499.24 600.84,499.49 601.90,499.73 602.96,499.96 604.03,500.17 605.09,500.37 606.15,500.56 607.21,500.73 608.27,500.90 609.34,501.05 610.40,501.20 611.46,501.34 612.52,501.46 613.59,501.58 614.65,501.70 615.71,501.80 616.77,501.90 617.84,501.99 618.90,502.08 619.96,502.16 621.02,502.24 622.09,502.31 623.15,502.37 624.21,502.43" fill="none" stroke="#c400e8" stroke-width="1.0"/>
<polyline points="496.72,417.29 497.79,417.32 498.85,417.36 499.91,417.40 500.97,417.44 502.04,417.49 503.10,417.54 504.16,417.59 505.22,417.65 506.29,417.71 507.35,417.78 508.41,417.85 509.47,417.93 510.54,418.01 511.60,418.10 512.66,418.20 513.72,418.31 514.78,418.42 515.85,418.54 516.91,418.67 517.97,418.81 519.03,418.97 520.10,419.13 521.16,419.30 522.22,419.49 523.28,419.69 524.35,419.91 525.41,420.15 526.47,420.40 527.53,420.66 528.60,420.95 529.66,421.26 530.72,421.59 531.78,421.94 532.85,422.32 533.91,422.73 534.97,423.16 536.03,423.62 537.09,424.11 538.16,424.63 539.22,425.19 540.28,425.78 541.34,426.41 542.41,427.08 543.47,427.79 544.53,428.54 545.59,429.33 546.66,430.17 547.72,431.05 548.78,431.98 549.84,432.95 550.91,433.97 551.97,435.05 553.03,436.16 554.09,437.33 555.16,438.55 556.22,439.81 557.28,441.12 558.34,442.47 559.40,443.87 560.47,445.30 561.53,446.78 562.59,448.29 563.65,449.83 564.72,451.40 565.78,452.99 566.84,454.60 567.90,456.23 568.97,457.87 570.03,459.52 571.09,461.16 572.15,462.81 573.22,464.44 574.28,466.07 575.34,467.67 576.40,469.26 577.47,470.82 578.53,472.35 579.59,473.85 580.65,475.31 581.71,476.73 582.78,478.12 583.84,479.46 584.90,480.75 585.96,482.00 587.03,483.20 588.09,484.35 589.15,485.45 590.21,486.51 591.28,487.52 592.34,488.48 593.40,489.39 594.46,490.26 595.53,491.08 596.59,491.86 597.65,492.59 598.71,493.29 599.78,493.94 600.84,494.56 601.90,495.14 602.96,495.69 604.03,496.20 605.09,496.68 606.15,497.13 607.21,497.56 608.27,497.95 609.34,498.32 610.40,498.67 611.46,498.99 612.52,499.29 613.59,499.57 614.65,499.84 615.71,500.08 616.77,500.31 617.84,500.52 618.90,500.72 619.96,500.90 621.02,501.08 622.09,501.23 623.15,501.38 624.21,501.52" fill="none" stroke="#0000ff" stroke-width="1.0"/>
<polyline points="496.72,430.16 497.79,430.24 498.85,430.32 499.91,430.41 500.97,430.50 502.04,430.60 503.10,430.71 504.16,430.83 505.22,430.96 506.29,431.09 507.35,431.24 508.41,431.39 509.47,431.56 510.54,431.74 511.60,431.94 512.66,432.14 513.72,432.37 514.78,432.61 515.85,432.86 516.91,433.14 517.97,433.43 519.03,433.75 520.10,434.08 521.16,434.44 522.22,434.83 523.28,435.24 524.35,435.67 525.41,436.14 526.47,436.63 527.53,437.16 528.60,437.72 529.66,438.31 530.72,438.94 531.78,439.60 532.85,440.30 533.91,441.04 534.97,441.82 536.03,442.63 537.09,443.49 538.16,444.39 539.22,445.34 540.28,446.32 541.34,447.34 542.41,448.41 543.47,449.51 544.53,450.66 545.59,451.84 546.66,453.05 547.72,454.30 548.78,455.58 549.84,456.89 550.91,458.23 551.97,459.58 553.03,460.96 554.09,462.35 555.16,463.75 556.22,465.16 557.28,466.57 558.34,467.98 559.40,469.39 560.47,470.79 561.53,472.17 562.59,473.54 563.65,474.88 564.72,476.21 565.78,477.50 566.84,478.77 567.90,480.01 568.97,481.21 570.03,482.37 571.09,483.50 572.15,484.58 573.22,485.63 574.28,486.63 575.34,487.60 576.40,488.52 577.47,489.40 578.53,490.24 579.59,491.04 580.65,491.80 581.71,492.52 582.78,493.21 583.84,493.85 584.90,494.47 585.96,495.04 587.03,495.58 588.09,496.10 589.15,496.58 590.21,497.03 591.28,497.45 592.34,497.85 593.40,498.22 594.46,498.57 595.53,498.90 596.59,499.20 597.65,499.49 598.71,499.76 599.78,500.00 600.84,500.24 601.90,500.45 602.96,500.65 604.03,500.84 605.09,501.02 606.15,501.18 607.21,501.33 608.27,501.47 609.34,501.60 610.40,501.72 611.46,501.84 612.52,501.94 613.59,502.04 614.65,502.13 615.71,502.22 616.77,502.30 617.84,502.37 618.90,502.44 619.96,502.50 621.02,502.56 622.09,502.61 623.15,502.66 624.21,502.71" fill="none" stroke="#0b8a0b" stroke-width="1.0"/>
<polyline points="496.72,438.30 508.31,438.30 519.90,438.30 531.49,438.30 543.08,438.30 554.67,438.30 566.26,438.30 577.85,438.30 589.44,438.30 601.03,438.30 612.62,438.30 624.21,438.30" fill="none" stroke="#777" stroke-width="1.5"/>
<path d="M496.72 453.45L499.12 455.85L496.72 458.25L494.32 455.85Z" fill="#c400e8"/>
<path d="M508.31 448.90L510.71 451.30L508.31 453.70L505.91 451.30Z" fill="#c400e8"/>
<path d="M519.90 451.50L522.30 453.90L519.90 456.30L517.50 453.90Z" fill="#c400e8"/>
<path d="M531.49 451.50L533.89 453.90L531.49 456.30L529.09 453.90Z" fill="#c400e8"/>
<path d="M543.08 458.65L545.48 461.05L543.08 463.45L540.68 461.05Z" fill="#c400e8"/>
<path d="M554.67 469.70L557.07 472.10L554.67 474.50L552.27 472.10Z" fill="#c400e8"/>
<path d="M566.26 478.80L568.66 481.20L566.26 483.60L563.86 481.20Z" fill="#c400e8"/>
<path d="M577.85 487.64L580.25 490.04L577.85 492.44L575.45 490.04Z" fill="#c400e8"/>
<path d="M589.44 494.14L591.84 496.54L589.44 498.94L587.04 496.54Z" fill="#c400e8"/>
<path d="M601.03 497.65L603.43 500.05L601.03 502.45L598.63 500.05Z" fill="#c400e8"/>
<path d="M612.62 499.28L615.02 501.68L612.62 504.07L610.22 501.68Z" fill="#c400e8"/>
<path d="M624.21 499.73L626.61 502.13L624.21 504.53L621.81 502.13Z" fill="#c400e8"/>
<path d="M496.72 425.16L499.12 429.72L494.32 429.72Z" fill="#0000ff"/>
<path d="M508.31 419.31L510.71 423.87L505.91 423.87Z" fill="#0000ff"/>
<path d="M519.90 409.24L522.30 413.80L517.50 413.80Z" fill="#0000ff"/>
<path d="M531.49 417.36L533.89 421.92L529.09 421.92Z" fill="#0000ff"/>
<path d="M543.08 429.71L545.48 434.27L540.68 434.27Z" fill="#0000ff"/>
<path d="M554.67 439.46L557.07 444.02L552.27 444.02Z" fill="#0000ff"/>
<path d="M566.26 455.06L568.66 459.62L563.86 459.62Z" fill="#0000ff"/>
<path d="M577.85 477.16L580.25 481.72L575.45 481.72Z" fill="#0000ff"/>
<path d="M589.44 489.12L591.84 493.68L587.04 493.68Z" fill="#0000ff"/>
<path d="M601.03 494.26L603.43 498.82L598.63 498.82Z" fill="#0000ff"/>
<path d="M612.62 496.66L615.02 501.22L610.22 501.22Z" fill="#0000ff"/>
<path d="M624.21 496.66L626.61 501.22L621.81 501.22Z" fill="#0000ff"/>
<circle cx="496.72" cy="426.60" r="2.4" fill="#0b8a0b"/>
<circle cx="508.31" cy="434.60" r="2.4" fill="#0b8a0b"/>
<circle cx="519.90" cy="438.95" r="2.4" fill="#0b8a0b"/>
<circle cx="531.49" cy="442.85" r="2.4" fill="#0b8a0b"/>
<circle cx="543.08" cy="452.60" r="2.4" fill="#0b8a0b"/>
<circle cx="554.67" cy="463.65" r="2.4" fill="#0b8a0b"/>
<circle cx="566.26" cy="478.86" r="2.4" fill="#0b8a0b"/>
<circle cx="577.85" cy="490.69" r="2.4" fill="#0b8a0b"/>
<circle cx="589.44" cy="496.54" r="2.4" fill="#0b8a0b"/>
<circle cx="601.03" cy="499.79" r="2.4" fill="#0b8a0b"/>
<circle cx="612.62" cy="501.68" r="2.4" fill="#0b8a0b"/>
<circle cx="624.21" cy="501.68" r="2.4" fill="#0b8a0b"/>
<rect x="494.62" y="436.20" width="4.2" height="4.2" fill="#000"/>
<rect x="506.21" y="436.20" width="4.2" height="4.2" fill="#000"/>
<rect x="517.80" y="436.20" width="4.2" height="4.2" fill="#000"/>
<rect x="529.39" y="436.20" width="4.2" height="4.2" fill="#000"/>
<rect x="540.98" y="436.20" width="4.2" height="4.2" fill="#000"/>
<rect x="552.57" y="436.20" width="4.2" height="4.2" fill="#000"/>
<rect x="564.16" y="436.20" width="4.2" height="4.2" fill="#000"/>
<rect x="575.75" y="436.20" width="4.2" height="4.2" fill="#000"/>
<rect x="587.34" y="436.20" width="4.2" height="4.2" fill="#000"/>
<rect x="598.93" y="436.20" width="4.2" height="4.2" fill="#000"/>
<rect x="610.52" y="436.20" width="4.2" height="4.2" fill="#000"/>
<rect x="622.11" y="436.20" width="4.2" height="4.2" fill="#000"/>
<text x="558.80" y="557.90" font-size="9.9" font-weight="bold" text-anchor="middle" fill="#111" >CAP256V2LS Expressing Cells</text>
<line x1="483.90" y1="676.80" x2="634.40" y2="676.80" stroke="#222" stroke-width="1.05" stroke-dasharray="1.15 2.0"/>
<line x1="481.80" y1="572.20" x2="481.80" y2="683.50" stroke="#000" stroke-width="1.3" />
<line x1="481.20" y1="682.90" x2="636.20" y2="682.90" stroke="#000" stroke-width="1.3" />
<line x1="477.60" y1="676.80" x2="481.80" y2="676.80" stroke="#000" stroke-width="1.2" />
<text x="475.90" y="679.70" font-size="8.2" font-weight="bold" text-anchor="end" textLength="4.06" lengthAdjust="spacingAndGlyphs" fill="#111">0</text>
<line x1="477.60" y1="644.30" x2="481.80" y2="644.30" stroke="#000" stroke-width="1.2" />
<text x="475.90" y="647.20" font-size="8.2" font-weight="bold" text-anchor="end" textLength="8.12" lengthAdjust="spacingAndGlyphs" fill="#111">50</text>
<line x1="477.60" y1="611.80" x2="481.80" y2="611.80" stroke="#000" stroke-width="1.2" />
<text x="475.90" y="614.70" font-size="8.2" font-weight="bold" text-anchor="end" textLength="12.17" lengthAdjust="spacingAndGlyphs" fill="#111">100</text>
<line x1="477.60" y1="579.30" x2="481.80" y2="579.30" stroke="#000" stroke-width="1.2" />
<text x="475.90" y="582.20" font-size="8.2" font-weight="bold" text-anchor="end" textLength="12.17" lengthAdjust="spacingAndGlyphs" fill="#111">150</text>
<line x1="481.80" y1="682.90" x2="481.80" y2="687.40" stroke="#000" stroke-width="1.2" />
<text x="481.80" y="697.10" font-size="8.2" font-weight="bold" text-anchor="middle" textLength="22.57" lengthAdjust="spacingAndGlyphs" fill="#111">0.0001</text>
<line x1="520.30" y1="682.90" x2="520.30" y2="687.40" stroke="#000" stroke-width="1.2" />
<text x="520.30" y="697.10" font-size="8.2" font-weight="bold" text-anchor="middle" textLength="18.46" lengthAdjust="spacingAndGlyphs" fill="#111">0.001</text>
<line x1="558.80" y1="682.90" x2="558.80" y2="687.40" stroke="#000" stroke-width="1.2" />
<text x="558.80" y="697.10" font-size="8.2" font-weight="bold" text-anchor="middle" textLength="14.36" lengthAdjust="spacingAndGlyphs" fill="#111">0.01</text>
<line x1="597.30" y1="682.90" x2="597.30" y2="687.40" stroke="#000" stroke-width="1.2" />
<text x="597.30" y="697.10" font-size="8.2" font-weight="bold" text-anchor="middle" textLength="10.26" lengthAdjust="spacingAndGlyphs" fill="#111">0.1</text>
<line x1="635.80" y1="682.90" x2="635.80" y2="687.40" stroke="#000" stroke-width="1.2" />
<text x="635.80" y="697.10" font-size="8.2" font-weight="bold" text-anchor="middle" textLength="4.10" lengthAdjust="spacingAndGlyphs" fill="#111">1</text>
<text x="558.80" y="710.50" font-size="8.6" font-weight="bold" text-anchor="middle" fill="#111" >Dilution of B Cell Supernatant</text>
<text transform="translate(458.80,627.90) rotate(-90)" font-size="9.0" font-weight="bold" text-anchor="middle" fill="#111">% Infection</text>
<g stroke="#0000ff" stroke-width="1.0" opacity="0.75">
<line x1="508.31" y1="635.85" x2="508.31" y2="626.10" stroke="#0000ff" stroke-width="1.0" />
<line x1="506.01" y1="635.85" x2="510.61" y2="635.85" stroke="#0000ff" stroke-width="1.0" />
<line x1="506.01" y1="626.10" x2="510.61" y2="626.10" stroke="#0000ff" stroke-width="1.0" />
</g>
<g stroke="#0000ff" stroke-width="1.0" opacity="0.75">
<line x1="519.90" y1="619.60" x2="519.90" y2="598.15" stroke="#0000ff" stroke-width="1.0" />
<line x1="517.60" y1="619.60" x2="522.20" y2="619.60" stroke="#0000ff" stroke-width="1.0" />
<line x1="517.60" y1="598.15" x2="522.20" y2="598.15" stroke="#0000ff" stroke-width="1.0" />
</g>
<g stroke="#0000ff" stroke-width="1.0" opacity="0.75">
<line x1="554.67" y1="637.80" x2="554.67" y2="630.00" stroke="#0000ff" stroke-width="1.0" />
<line x1="552.37" y1="637.80" x2="556.97" y2="637.80" stroke="#0000ff" stroke-width="1.0" />
<line x1="552.37" y1="630.00" x2="556.97" y2="630.00" stroke="#0000ff" stroke-width="1.0" />
</g>
<g stroke="#c400e8" stroke-width="1.0" opacity="0.75">
<line x1="508.31" y1="632.60" x2="508.31" y2="617.00" stroke="#c400e8" stroke-width="1.0" />
<line x1="506.01" y1="632.60" x2="510.61" y2="632.60" stroke="#c400e8" stroke-width="1.0" />
<line x1="506.01" y1="617.00" x2="510.61" y2="617.00" stroke="#c400e8" stroke-width="1.0" />
</g>
<g stroke="#c400e8" stroke-width="1.0" opacity="0.75">
<line x1="519.90" y1="635.20" x2="519.90" y2="629.35" stroke="#c400e8" stroke-width="1.0" />
<line x1="517.60" y1="635.20" x2="522.20" y2="635.20" stroke="#c400e8" stroke-width="1.0" />
<line x1="517.60" y1="629.35" x2="522.20" y2="629.35" stroke="#c400e8" stroke-width="1.0" />
</g>
<g stroke="#c400e8" stroke-width="1.0" opacity="0.75">
<line x1="531.49" y1="626.10" x2="531.49" y2="618.30" stroke="#c400e8" stroke-width="1.0" />
<line x1="529.19" y1="626.10" x2="533.79" y2="626.10" stroke="#c400e8" stroke-width="1.0" />
<line x1="529.19" y1="618.30" x2="533.79" y2="618.30" stroke="#c400e8" stroke-width="1.0" />
</g>
<g stroke="#c400e8" stroke-width="1.0" opacity="0.75">
<line x1="543.08" y1="644.30" x2="543.08" y2="639.10" stroke="#c400e8" stroke-width="1.0" />
<line x1="540.78" y1="644.30" x2="545.38" y2="644.30" stroke="#c400e8" stroke-width="1.0" />
<line x1="540.78" y1="639.10" x2="545.38" y2="639.10" stroke="#c400e8" stroke-width="1.0" />
</g>
<g stroke="#0b8a0b" stroke-width="1.0" opacity="0.75">
<line x1="531.49" y1="626.10" x2="531.49" y2="617.00" stroke="#0b8a0b" stroke-width="1.0" />
<line x1="529.19" y1="626.10" x2="533.79" y2="626.10" stroke="#0b8a0b" stroke-width="1.0" />
<line x1="529.19" y1="617.00" x2="533.79" y2="617.00" stroke="#0b8a0b" stroke-width="1.0" />
</g>
<g stroke="#0b8a0b" stroke-width="1.0" opacity="0.75">
<line x1="543.08" y1="640.40" x2="543.08" y2="617.00" stroke="#0b8a0b" stroke-width="1.0" />
<line x1="540.78" y1="640.40" x2="545.38" y2="640.40" stroke="#0b8a0b" stroke-width="1.0" />
<line x1="540.78" y1="617.00" x2="545.38" y2="617.00" stroke="#0b8a0b" stroke-width="1.0" />
</g>
<g stroke="#0b8a0b" stroke-width="1.0" opacity="0.75">
<line x1="577.85" y1="667.70" x2="577.85" y2="662.50" stroke="#0b8a0b" stroke-width="1.0" />
<line x1="575.55" y1="667.70" x2="580.15" y2="667.70" stroke="#0b8a0b" stroke-width="1.0" />
<line x1="575.55" y1="662.50" x2="580.15" y2="662.50" stroke="#0b8a0b" stroke-width="1.0" />
</g>
<polyline points="496.72,627.11 497.79,627.19 498.85,627.26 499.91,627.34 500.97,627.43 502.04,627.53 503.10,627.63 504.16,627.73 505.22,627.85 506.29,627.97 507.35,628.10 508.41,628.23 509.47,628.38 510.54,628.54 511.60,628.71 512.66,628.88 513.72,629.07 514.78,629.27 515.85,629.49 516.91,629.71 517.97,629.95 519.03,630.21 520.10,630.48 521.16,630.77 522.22,631.07 523.28,631.39 524.35,631.73 525.41,632.08 526.47,632.46 527.53,632.86 528.60,633.27 529.66,633.71 530.72,634.17 531.78,634.65 532.85,635.15 533.91,635.67 534.97,636.22 536.03,636.79 537.09,637.38 538.16,638.00 539.22,638.64 540.28,639.29 541.34,639.97 542.41,640.67 543.47,641.39 544.53,642.13 545.59,642.89 546.66,643.66 547.72,644.45 548.78,645.25 549.84,646.06 550.91,646.88 551.97,647.71 553.03,648.54 554.09,649.38 555.16,650.22 556.22,651.06 557.28,651.90 558.34,652.73 559.40,653.56 560.47,654.38 561.53,655.19 562.59,655.98 563.65,656.77 564.72,657.54 565.78,658.29 566.84,659.02 567.90,659.74 568.97,660.44 570.03,661.11 571.09,661.77 572.15,662.40 573.22,663.01 574.28,663.60 575.34,664.17 576.40,664.71 577.47,665.23 578.53,665.73 579.59,666.21 580.65,666.66 581.71,667.10 582.78,667.51 583.84,667.90 584.90,668.28 585.96,668.63 587.03,668.96 588.09,669.28 589.15,669.58 590.21,669.87 591.28,670.13 592.34,670.39 593.40,670.62 594.46,670.85 595.53,671.06 596.59,671.26 597.65,671.45 598.71,671.62 599.78,671.79 600.84,671.94 601.90,672.09 602.96,672.23 604.03,672.35 605.09,672.47 606.15,672.59 607.21,672.69 608.27,672.79 609.34,672.88 610.40,672.97 611.46,673.05 612.52,673.13 613.59,673.20 614.65,673.26 615.71,673.33 616.77,673.38 617.84,673.44 618.90,673.49 619.96,673.54 621.02,673.58 622.09,673.62 623.15,673.66 624.21,673.70" fill="none" stroke="#c400e8" stroke-width="1.0"/>
<polyline points="496.72,622.48 497.79,622.50 498.85,622.53 499.91,622.55 500.97,622.58 502.04,622.61 503.10,622.64 504.16,622.68 505.22,622.72 506.29,622.76 507.35,622.80 508.41,622.85 509.47,622.90 510.54,622.95 511.60,623.01 512.66,623.07 513.72,623.14 514.78,623.22 515.85,623.29 516.91,623.38 517.97,623.47 519.03,623.57 520.10,623.67 521.16,623.78 522.22,623.91 523.28,624.04 524.35,624.18 525.41,624.33 526.47,624.49 527.53,624.66 528.60,624.84 529.66,625.04 530.72,625.25 531.78,625.48 532.85,625.72 533.91,625.98 534.97,626.25 536.03,626.54 537.09,626.85 538.16,627.19 539.22,627.54 540.28,627.91 541.34,628.31 542.41,628.73 543.47,629.17 544.53,629.64 545.59,630.14 546.66,630.66 547.72,631.21 548.78,631.78 549.84,632.38 550.91,633.02 551.97,633.67 553.03,634.36 554.09,635.07 555.16,635.81 556.22,636.57 557.28,637.36 558.34,638.18 559.40,639.01 560.47,639.87 561.53,640.74 562.59,641.63 563.65,642.54 564.72,643.46 565.78,644.38 566.84,645.32 567.90,646.26 568.97,647.20 570.03,648.14 571.09,649.08 572.15,650.01 573.22,650.93 574.28,651.84 575.34,652.74 576.40,653.62 577.47,654.48 578.53,655.32 579.59,656.14 580.65,656.94 581.71,657.72 582.78,658.46 583.84,659.19 584.90,659.88 585.96,660.55 587.03,661.19 588.09,661.80 589.15,662.39 590.21,662.95 591.28,663.48 592.34,663.98 593.40,664.46 594.46,664.91 595.53,665.34 596.59,665.75 597.65,666.13 598.71,666.49 599.78,666.83 600.84,667.15 601.90,667.45 602.96,667.73 604.03,667.99 605.09,668.24 606.15,668.47 607.21,668.68 608.27,668.89 609.34,669.08 610.40,669.25 611.46,669.42 612.52,669.57 613.59,669.71 614.65,669.85 615.71,669.97 616.77,670.09 617.84,670.20 618.90,670.30 619.96,670.39 621.02,670.48 622.09,670.56 623.15,670.63 624.21,670.70" fill="none" stroke="#0000ff" stroke-width="1.0"/>
<polyline points="496.72,620.42 497.79,620.47 498.85,620.54 499.91,620.60 500.97,620.67 502.04,620.75 503.10,620.83 504.16,620.92 505.22,621.01 506.29,621.11 507.35,621.22 508.41,621.33 509.47,621.45 510.54,621.58 511.60,621.72 512.66,621.86 513.72,622.02 514.78,622.19 515.85,622.37 516.91,622.56 517.97,622.76 519.03,622.97 520.10,623.20 521.16,623.44 522.22,623.70 523.28,623.97 524.35,624.26 525.41,624.57 526.47,624.89 527.53,625.24 528.60,625.60 529.66,625.98 530.72,626.39 531.78,626.81 532.85,627.26 533.91,627.74 534.97,628.23 536.03,628.75 537.09,629.30 538.16,629.87 539.22,630.46 540.28,631.08 541.34,631.73 542.41,632.40 543.47,633.10 544.53,633.82 545.59,634.57 546.66,635.34 547.72,636.13 548.78,636.95 549.84,637.79 550.91,638.65 551.97,639.52 553.03,640.41 554.09,641.32 555.16,642.24 556.22,643.17 557.28,644.11 558.34,645.06 559.40,646.01 560.47,646.97 561.53,647.92 562.59,648.87 563.65,649.82 564.72,650.76 565.78,651.69 566.84,652.61 567.90,653.51 568.97,654.40 570.03,655.27 571.09,656.13 572.15,656.96 573.22,657.78 574.28,658.57 575.34,659.34 576.40,660.08 577.47,660.80 578.53,661.49 579.59,662.16 580.65,662.81 581.71,663.42 582.78,664.01 583.84,664.58 584.90,665.12 585.96,665.64 587.03,666.13 588.09,666.60 589.15,667.05 590.21,667.47 591.28,667.87 592.34,668.25 593.40,668.61 594.46,668.95 595.53,669.28 596.59,669.58 597.65,669.87 598.71,670.14 599.78,670.39 600.84,670.63 601.90,670.86 602.96,671.07 604.03,671.27 605.09,671.46 606.15,671.64 607.21,671.80 608.27,671.96 609.34,672.10 610.40,672.24 611.46,672.37 612.52,672.49 613.59,672.60 614.65,672.70 615.71,672.80 616.77,672.89 617.84,672.98 618.90,673.06 619.96,673.14 621.02,673.21 622.09,673.27 623.15,673.33 624.21,673.39" fill="none" stroke="#0b8a0b" stroke-width="1.0"/>
<polyline points="496.72,611.80 508.31,611.80 519.90,611.80 531.49,611.80 543.08,611.80 554.67,611.80 566.26,611.80 577.85,611.80 589.44,611.80 601.03,611.80 612.62,611.80 624.21,611.80" fill="none" stroke="#777" stroke-width="1.5"/>
<path d="M496.72 630.46L499.12 632.86L496.72 635.26L494.32 632.86Z" fill="#c400e8"/>
<path d="M508.31 622.40L510.71 624.80L508.31 627.20L505.91 624.80Z" fill="#c400e8"/>
<path d="M519.90 630.20L522.30 632.60L519.90 635.00L517.50 632.60Z" fill="#c400e8"/>
<path d="M531.49 618.76L533.89 621.16L531.49 623.56L529.09 621.16Z" fill="#c400e8"/>
<path d="M543.08 639.30L545.48 641.70L543.08 644.10L540.68 641.70Z" fill="#c400e8"/>
<path d="M554.67 649.83L557.07 652.23L554.67 654.63L552.27 652.23Z" fill="#c400e8"/>
<path d="M566.26 651.65L568.66 654.05L566.26 656.45L563.86 654.05Z" fill="#c400e8"/>
<path d="M577.85 660.10L580.25 662.50L577.85 664.90L575.45 662.50Z" fill="#c400e8"/>
<path d="M589.44 663.35L591.84 665.75L589.44 668.15L587.04 665.75Z" fill="#c400e8"/>
<path d="M601.03 667.25L603.43 669.65L601.03 672.05L598.63 669.65Z" fill="#c400e8"/>
<path d="M612.62 669.20L615.02 671.60L612.62 674.00L610.22 671.60Z" fill="#c400e8"/>
<path d="M624.21 670.17L626.61 672.57L624.21 674.97L621.81 672.57Z" fill="#c400e8"/>
<path d="M496.72 628.56L499.12 633.12L494.32 633.12Z" fill="#0000ff"/>
<path d="M508.31 627.91L510.71 632.47L505.91 632.47Z" fill="#0000ff"/>
<path d="M519.90 611.66L522.30 616.22L517.50 616.22Z" fill="#0000ff"/>
<path d="M531.49 624.01L533.89 628.57L529.09 628.57Z" fill="#0000ff"/>
<path d="M543.08 625.96L545.48 630.52L540.68 630.52Z" fill="#0000ff"/>
<path d="M554.67 630.12L557.07 634.68L552.27 634.68Z" fill="#0000ff"/>
<path d="M566.26 646.50L568.66 651.06L563.86 651.06Z" fill="#0000ff"/>
<path d="M577.85 650.66L580.25 655.22L575.45 655.22Z" fill="#0000ff"/>
<path d="M589.44 663.01L591.84 667.57L587.04 667.57Z" fill="#0000ff"/>
<path d="M601.03 664.51L603.43 669.07L598.63 669.07Z" fill="#0000ff"/>
<path d="M612.62 664.51L615.02 669.07L610.22 669.07Z" fill="#0000ff"/>
<path d="M624.21 666.26L626.61 670.82L621.81 670.82Z" fill="#0000ff"/>
<circle cx="496.72" cy="633.57" r="2.4" fill="#0b8a0b"/>
<circle cx="508.31" cy="619.60" r="2.4" fill="#0b8a0b"/>
<circle cx="519.90" cy="615.05" r="2.4" fill="#0b8a0b"/>
<circle cx="531.49" cy="622.20" r="2.4" fill="#0b8a0b"/>
<circle cx="543.08" cy="628.70" r="2.4" fill="#0b8a0b"/>
<circle cx="554.67" cy="646.25" r="2.4" fill="#0b8a0b"/>
<circle cx="566.26" cy="652.75" r="2.4" fill="#0b8a0b"/>
<circle cx="577.85" cy="665.10" r="2.4" fill="#0b8a0b"/>
<circle cx="589.44" cy="665.10" r="2.4" fill="#0b8a0b"/>
<circle cx="601.03" cy="670.30" r="2.4" fill="#0b8a0b"/>
<circle cx="612.62" cy="671.60" r="2.4" fill="#0b8a0b"/>
<circle cx="624.21" cy="673.09" r="2.4" fill="#0b8a0b"/>
<rect x="494.62" y="609.70" width="4.2" height="4.2" fill="#000"/>
<rect x="506.21" y="609.70" width="4.2" height="4.2" fill="#000"/>
<rect x="517.80" y="609.70" width="4.2" height="4.2" fill="#000"/>
<rect x="529.39" y="609.70" width="4.2" height="4.2" fill="#000"/>
<rect x="540.98" y="609.70" width="4.2" height="4.2" fill="#000"/>
<rect x="552.57" y="609.70" width="4.2" height="4.2" fill="#000"/>
<rect x="564.16" y="609.70" width="4.2" height="4.2" fill="#000"/>
<rect x="575.75" y="609.70" width="4.2" height="4.2" fill="#000"/>
<rect x="587.34" y="609.70" width="4.2" height="4.2" fill="#000"/>
<rect x="598.93" y="609.70" width="4.2" height="4.2" fill="#000"/>
<rect x="610.52" y="609.70" width="4.2" height="4.2" fill="#000"/>
<rect x="622.11" y="609.70" width="4.2" height="4.2" fill="#000"/>
<text x="558.80" y="730.20" font-size="9.9" font-weight="bold" text-anchor="middle" fill="#111" >10-1074+CAP256V2LS Expressing Cells</text>
<line x1="483.90" y1="849.10" x2="634.40" y2="849.10" stroke="#222" stroke-width="1.05" stroke-dasharray="1.15 2.0"/>
<line x1="481.80" y1="744.50" x2="481.80" y2="855.80" stroke="#000" stroke-width="1.3" />
<line x1="481.20" y1="855.20" x2="636.20" y2="855.20" stroke="#000" stroke-width="1.3" />
<line x1="477.60" y1="849.10" x2="481.80" y2="849.10" stroke="#000" stroke-width="1.2" />
<text x="475.90" y="852.00" font-size="8.2" font-weight="bold" text-anchor="end" textLength="4.06" lengthAdjust="spacingAndGlyphs" fill="#111">0</text>
<line x1="477.60" y1="816.60" x2="481.80" y2="816.60" stroke="#000" stroke-width="1.2" />
<text x="475.90" y="819.50" font-size="8.2" font-weight="bold" text-anchor="end" textLength="8.12" lengthAdjust="spacingAndGlyphs" fill="#111">50</text>
<line x1="477.60" y1="784.10" x2="481.80" y2="784.10" stroke="#000" stroke-width="1.2" />
<text x="475.90" y="787.00" font-size="8.2" font-weight="bold" text-anchor="end" textLength="12.17" lengthAdjust="spacingAndGlyphs" fill="#111">100</text>
<line x1="477.60" y1="751.60" x2="481.80" y2="751.60" stroke="#000" stroke-width="1.2" />
<text x="475.90" y="754.50" font-size="8.2" font-weight="bold" text-anchor="end" textLength="12.17" lengthAdjust="spacingAndGlyphs" fill="#111">150</text>
<line x1="481.80" y1="855.20" x2="481.80" y2="859.70" stroke="#000" stroke-width="1.2" />
<text x="481.80" y="869.40" font-size="8.2" font-weight="bold" text-anchor="middle" textLength="22.57" lengthAdjust="spacingAndGlyphs" fill="#111">0.0001</text>
<line x1="520.30" y1="855.20" x2="520.30" y2="859.70" stroke="#000" stroke-width="1.2" />
<text x="520.30" y="869.40" font-size="8.2" font-weight="bold" text-anchor="middle" textLength="18.46" lengthAdjust="spacingAndGlyphs" fill="#111">0.001</text>
<line x1="558.80" y1="855.20" x2="558.80" y2="859.70" stroke="#000" stroke-width="1.2" />
<text x="558.80" y="869.40" font-size="8.2" font-weight="bold" text-anchor="middle" textLength="14.36" lengthAdjust="spacingAndGlyphs" fill="#111">0.01</text>
<line x1="597.30" y1="855.20" x2="597.30" y2="859.70" stroke="#000" stroke-width="1.2" />
<text x="597.30" y="869.40" font-size="8.2" font-weight="bold" text-anchor="middle" textLength="10.26" lengthAdjust="spacingAndGlyphs" fill="#111">0.1</text>
<line x1="635.80" y1="855.20" x2="635.80" y2="859.70" stroke="#000" stroke-width="1.2" />
<text x="635.80" y="869.40" font-size="8.2" font-weight="bold" text-anchor="middle" textLength="4.10" lengthAdjust="spacingAndGlyphs" fill="#111">1</text>
<text x="558.80" y="882.80" font-size="8.6" font-weight="bold" text-anchor="middle" fill="#111" >Dilution of B Cell Supernatant</text>
<text transform="translate(458.80,800.20) rotate(-90)" font-size="9.0" font-weight="bold" text-anchor="middle" fill="#111">% Infection</text>
<g stroke="#0000ff" stroke-width="1.0" opacity="0.75">
<line x1="508.31" y1="808.80" x2="508.31" y2="803.60" stroke="#0000ff" stroke-width="1.0" />
<line x1="506.01" y1="808.80" x2="510.61" y2="808.80" stroke="#0000ff" stroke-width="1.0" />
<line x1="506.01" y1="803.60" x2="510.61" y2="803.60" stroke="#0000ff" stroke-width="1.0" />
</g>
<g stroke="#0000ff" stroke-width="1.0" opacity="0.75">
<line x1="519.90" y1="804.90" x2="519.90" y2="795.80" stroke="#0000ff" stroke-width="1.0" />
<line x1="517.60" y1="804.90" x2="522.20" y2="804.90" stroke="#0000ff" stroke-width="1.0" />
<line x1="517.60" y1="795.80" x2="522.20" y2="795.80" stroke="#0000ff" stroke-width="1.0" />
</g>
<g stroke="#0000ff" stroke-width="1.0" opacity="0.75">
<line x1="543.08" y1="803.60" x2="543.08" y2="795.80" stroke="#0000ff" stroke-width="1.0" />
<line x1="540.78" y1="803.60" x2="545.38" y2="803.60" stroke="#0000ff" stroke-width="1.0" />
<line x1="540.78" y1="795.80" x2="545.38" y2="795.80" stroke="#0000ff" stroke-width="1.0" />
</g>
<g stroke="#0000ff" stroke-width="1.0" opacity="0.75">
<line x1="554.67" y1="815.30" x2="554.67" y2="808.15" stroke="#0000ff" stroke-width="1.0" />
<line x1="552.37" y1="815.30" x2="556.97" y2="815.30" stroke="#0000ff" stroke-width="1.0" />
<line x1="552.37" y1="808.15" x2="556.97" y2="808.15" stroke="#0000ff" stroke-width="1.0" />
</g>
<g stroke="#c400e8" stroke-width="1.0" opacity="0.75">
<line x1="496.72" y1="785.40" x2="496.72" y2="776.95" stroke="#c400e8" stroke-width="1.0" />
<line x1="494.42" y1="785.40" x2="499.02" y2="785.40" stroke="#c400e8" stroke-width="1.0" />
<line x1="494.42" y1="776.95" x2="499.02" y2="776.95" stroke="#c400e8" stroke-width="1.0" />
</g>
<g stroke="#c400e8" stroke-width="1.0" opacity="0.75">
<line x1="508.31" y1="795.80" x2="508.31" y2="790.60" stroke="#c400e8" stroke-width="1.0" />
<line x1="506.01" y1="795.80" x2="510.61" y2="795.80" stroke="#c400e8" stroke-width="1.0" />
<line x1="506.01" y1="790.60" x2="510.61" y2="790.60" stroke="#c400e8" stroke-width="1.0" />
</g>
<g stroke="#c400e8" stroke-width="1.0" opacity="0.75">
<line x1="531.49" y1="808.80" x2="531.49" y2="797.10" stroke="#c400e8" stroke-width="1.0" />
<line x1="529.19" y1="808.80" x2="533.79" y2="808.80" stroke="#c400e8" stroke-width="1.0" />
<line x1="529.19" y1="797.10" x2="533.79" y2="797.10" stroke="#c400e8" stroke-width="1.0" />
</g>
<g stroke="#0b8a0b" stroke-width="1.0" opacity="0.75">
<line x1="543.08" y1="811.40" x2="543.08" y2="804.90" stroke="#0b8a0b" stroke-width="1.0" />
<line x1="540.78" y1="811.40" x2="545.38" y2="811.40" stroke="#0b8a0b" stroke-width="1.0" />
<line x1="540.78" y1="804.90" x2="545.38" y2="804.90" stroke="#0b8a0b" stroke-width="1.0" />
</g>
<g stroke="#0b8a0b" stroke-width="1.0" opacity="0.75">
<line x1="554.67" y1="829.60" x2="554.67" y2="815.30" stroke="#0b8a0b" stroke-width="1.0" />
<line x1="552.37" y1="829.60" x2="556.97" y2="829.60" stroke="#0b8a0b" stroke-width="1.0" />
<line x1="552.37" y1="815.30" x2="556.97" y2="815.30" stroke="#0b8a0b" stroke-width="1.0" />
</g>
<g stroke="#0b8a0b" stroke-width="1.0" opacity="0.75">
<line x1="566.26" y1="825.70" x2="566.26" y2="819.20" stroke="#0b8a0b" stroke-width="1.0" />
<line x1="563.96" y1="825.70" x2="568.56" y2="825.70" stroke="#0b8a0b" stroke-width="1.0" />
<line x1="563.96" y1="819.20" x2="568.56" y2="819.20" stroke="#0b8a0b" stroke-width="1.0" />
</g>
<polyline points="496.72,789.59 497.79,789.67 498.85,789.75 499.91,789.83 500.97,789.92 502.04,790.02 503.10,790.13 504.16,790.24 505.22,790.36 506.29,790.49 507.35,790.64 508.41,790.79 509.47,790.95 510.54,791.12 511.60,791.31 512.66,791.51 513.72,791.72 514.78,791.95 515.85,792.19 516.91,792.46 517.97,792.73 519.03,793.03 520.10,793.35 521.16,793.69 522.22,794.05 523.28,794.43 524.35,794.83 525.41,795.26 526.47,795.72 527.53,796.20 528.60,796.71 529.66,797.24 530.72,797.81 531.78,798.40 532.85,799.03 533.91,799.68 534.97,800.37 536.03,801.08 537.09,801.82 538.16,802.60 539.22,803.40 540.28,804.23 541.34,805.09 542.41,805.98 543.47,806.88 544.53,807.82 545.59,808.77 546.66,809.74 547.72,810.73 548.78,811.73 549.84,812.74 550.91,813.76 551.97,814.78 553.03,815.81 554.09,816.84 555.16,817.86 556.22,818.88 557.28,819.89 558.34,820.89 559.40,821.87 560.47,822.83 561.53,823.78 562.59,824.70 563.65,825.60 564.72,826.48 565.78,827.32 566.84,828.15 567.90,828.94 568.97,829.70 570.03,830.43 571.09,831.14 572.15,831.81 573.22,832.45 574.28,833.07 575.34,833.65 576.40,834.21 577.47,834.73 578.53,835.23 579.59,835.70 580.65,836.15 581.71,836.57 582.78,836.97 583.84,837.34 584.90,837.69 585.96,838.02 587.03,838.33 588.09,838.62 589.15,838.89 590.21,839.15 591.28,839.39 592.34,839.61 593.40,839.82 594.46,840.01 595.53,840.19 596.59,840.36 597.65,840.52 598.71,840.67 599.78,840.80 600.84,840.93 601.90,841.05 602.96,841.16 604.03,841.26 605.09,841.36 606.15,841.45 607.21,841.53 608.27,841.61 609.34,841.68 610.40,841.75 611.46,841.81 612.52,841.87 613.59,841.92 614.65,841.97 615.71,842.01 616.77,842.06 617.84,842.10 618.90,842.13 619.96,842.17 621.02,842.20 622.09,842.23 623.15,842.26 624.21,842.28" fill="none" stroke="#c400e8" stroke-width="1.0"/>
<polyline points="496.72,798.03 497.79,798.05 498.85,798.08 499.91,798.11 500.97,798.14 502.04,798.17 503.10,798.20 504.16,798.24 505.22,798.28 506.29,798.33 507.35,798.38 508.41,798.43 509.47,798.49 510.54,798.55 511.60,798.62 512.66,798.69 513.72,798.77 514.78,798.86 515.85,798.95 516.91,799.05 517.97,799.16 519.03,799.28 520.10,799.41 521.16,799.54 522.22,799.69 523.28,799.85 524.35,800.02 525.41,800.21 526.47,800.40 527.53,800.62 528.60,800.85 529.66,801.09 530.72,801.36 531.78,801.64 532.85,801.95 533.91,802.27 534.97,802.62 536.03,802.99 537.09,803.38 538.16,803.80 539.22,804.24 540.28,804.71 541.34,805.21 542.41,805.74 543.47,806.29 544.53,806.88 545.59,807.49 546.66,808.13 547.72,808.80 548.78,809.50 549.84,810.22 550.91,810.98 551.97,811.76 553.03,812.56 554.09,813.38 555.16,814.23 556.22,815.09 557.28,815.97 558.34,816.86 559.40,817.76 560.47,818.66 561.53,819.58 562.59,820.49 563.65,821.40 564.72,822.30 565.78,823.20 566.84,824.09 567.90,824.96 568.97,825.81 570.03,826.65 571.09,827.47 572.15,828.26 573.22,829.03 574.28,829.77 575.34,830.48 576.40,831.17 577.47,831.83 578.53,832.46 579.59,833.06 580.65,833.63 581.71,834.18 582.78,834.69 583.84,835.18 584.90,835.64 585.96,836.07 587.03,836.48 588.09,836.86 589.15,837.23 590.21,837.56 591.28,837.88 592.34,838.17 593.40,838.45 594.46,838.71 595.53,838.95 596.59,839.17 597.65,839.38 598.71,839.57 599.78,839.75 600.84,839.92 601.90,840.07 602.96,840.21 604.03,840.35 605.09,840.47 606.15,840.58 607.21,840.69 608.27,840.79 609.34,840.88 610.40,840.96 611.46,841.04 612.52,841.11 613.59,841.17 614.65,841.23 615.71,841.29 616.77,841.34 617.84,841.39 618.90,841.43 619.96,841.47 621.02,841.51 622.09,841.55 623.15,841.58 624.21,841.61" fill="none" stroke="#0000ff" stroke-width="1.0"/>
<polyline points="496.72,793.58 497.79,793.62 498.85,793.65 499.91,793.69 500.97,793.73 502.04,793.78 503.10,793.82 504.16,793.88 505.22,793.94 506.29,794.00 507.35,794.06 508.41,794.14 509.47,794.22 510.54,794.30 511.60,794.40 512.66,794.50 513.72,794.60 514.78,794.72 515.85,794.85 516.91,794.98 517.97,795.13 519.03,795.29 520.10,795.46 521.16,795.65 522.22,795.85 523.28,796.06 524.35,796.29 525.41,796.54 526.47,796.80 527.53,797.09 528.60,797.39 529.66,797.72 530.72,798.07 531.78,798.44 532.85,798.84 533.91,799.27 534.97,799.72 536.03,800.20 537.09,800.71 538.16,801.25 539.22,801.82 540.28,802.42 541.34,803.05 542.41,803.71 543.47,804.40 544.53,805.13 545.59,805.88 546.66,806.67 547.72,807.49 548.78,808.33 549.84,809.20 550.91,810.09 551.97,811.01 553.03,811.94 554.09,812.90 555.16,813.87 556.22,814.84 557.28,815.83 558.34,816.82 559.40,817.82 560.47,818.81 561.53,819.79 562.59,820.77 563.65,821.74 564.72,822.69 565.78,823.62 566.84,824.53 567.90,825.42 568.97,826.29 570.03,827.13 571.09,827.94 572.15,828.72 573.22,829.47 574.28,830.20 575.34,830.89 576.40,831.54 577.47,832.17 578.53,832.77 579.59,833.33 580.65,833.86 581.71,834.37 582.78,834.84 583.84,835.29 584.90,835.71 585.96,836.11 587.03,836.48 588.09,836.83 589.15,837.15 590.21,837.45 591.28,837.73 592.34,838.00 593.40,838.24 594.46,838.47 595.53,838.68 596.59,838.88 597.65,839.06 598.71,839.23 599.78,839.39 600.84,839.54 601.90,839.67 602.96,839.80 604.03,839.91 605.09,840.02 606.15,840.12 607.21,840.21 608.27,840.29 609.34,840.37 610.40,840.44 611.46,840.51 612.52,840.57 613.59,840.63 614.65,840.68 615.71,840.73 616.77,840.78 617.84,840.82 618.90,840.85 619.96,840.89 621.02,840.92 622.09,840.95 623.15,840.98 624.21,841.00" fill="none" stroke="#0b8a0b" stroke-width="1.0"/>
<polyline points="496.72,784.10 508.31,784.10 519.90,784.10 531.49,784.10 543.08,784.10 554.67,784.10 566.26,784.10 577.85,784.10 589.44,784.10 601.03,784.10 612.62,784.10 624.21,784.10" fill="none" stroke="#777" stroke-width="1.5"/>
<path d="M496.72 779.10L499.12 781.50L496.72 783.90L494.32 781.50Z" fill="#c400e8"/>
<path d="M508.31 791.06L510.71 793.46L508.31 795.86L505.91 793.46Z" fill="#c400e8"/>
<path d="M519.90 799.90L522.30 802.30L519.90 804.70L517.50 802.30Z" fill="#c400e8"/>
<path d="M531.49 797.62L533.89 800.02L531.49 802.42L529.09 800.02Z" fill="#c400e8"/>
<path d="M543.08 809.33L545.48 811.73L543.08 814.12L540.68 811.73Z" fill="#c400e8"/>
<path d="M554.67 817.45L557.07 819.85L554.67 822.25L552.27 819.85Z" fill="#c400e8"/>
<path d="M566.26 823.30L568.66 825.70L566.26 828.10L563.86 825.70Z" fill="#c400e8"/>
<path d="M577.85 831.95L580.25 834.35L577.85 836.75L575.45 834.35Z" fill="#c400e8"/>
<path d="M589.44 836.30L591.84 838.70L589.44 841.10L587.04 838.70Z" fill="#c400e8"/>
<path d="M601.03 837.34L603.43 839.74L601.03 842.14L598.63 839.74Z" fill="#c400e8"/>
<path d="M612.62 839.68L615.02 842.08L612.62 844.48L610.22 842.08Z" fill="#c400e8"/>
<path d="M624.21 841.31L626.61 843.71L624.21 846.11L621.81 843.71Z" fill="#c400e8"/>
<path d="M496.72 795.01L499.12 799.57L494.32 799.57Z" fill="#0000ff"/>
<path d="M508.31 803.79L510.71 808.35L505.91 808.35Z" fill="#0000ff"/>
<path d="M519.90 797.29L522.30 801.85L517.50 801.85Z" fill="#0000ff"/>
<path d="M531.49 797.29L533.89 801.85L529.09 801.85Z" fill="#0000ff"/>
<path d="M543.08 797.29L545.48 801.85L540.68 801.85Z" fill="#0000ff"/>
<path d="M554.67 809.64L557.07 814.20L552.27 814.20Z" fill="#0000ff"/>
<path d="M566.26 817.76L568.66 822.32L563.86 822.32Z" fill="#0000ff"/>
<path d="M577.85 831.61L580.25 836.17L575.45 836.17Z" fill="#0000ff"/>
<path d="M589.44 833.04L591.84 837.60L587.04 837.60Z" fill="#0000ff"/>
<path d="M601.03 835.31L603.43 839.87L598.63 839.87Z" fill="#0000ff"/>
<path d="M612.62 836.61L615.02 841.17L610.22 841.17Z" fill="#0000ff"/>
<path d="M624.21 838.17L626.61 842.73L621.81 842.73Z" fill="#0000ff"/>
<circle cx="496.72" cy="793.46" r="2.4" fill="#0b8a0b"/>
<circle cx="508.31" cy="800.02" r="2.4" fill="#0b8a0b"/>
<circle cx="519.90" cy="792.29" r="2.4" fill="#0b8a0b"/>
<circle cx="531.49" cy="795.35" r="2.4" fill="#0b8a0b"/>
<circle cx="543.08" cy="808.15" r="2.4" fill="#0b8a0b"/>
<circle cx="554.67" cy="818.68" r="2.4" fill="#0b8a0b"/>
<circle cx="566.26" cy="822.71" r="2.4" fill="#0b8a0b"/>
<circle cx="577.85" cy="831.10" r="2.4" fill="#0b8a0b"/>
<circle cx="589.44" cy="832.20" r="2.4" fill="#0b8a0b"/>
<circle cx="601.03" cy="835.77" r="2.4" fill="#0b8a0b"/>
<circle cx="612.62" cy="839.74" r="2.4" fill="#0b8a0b"/>
<circle cx="624.21" cy="840.91" r="2.4" fill="#0b8a0b"/>
<rect x="494.62" y="782.00" width="4.2" height="4.2" fill="#000"/>
<rect x="506.21" y="782.00" width="4.2" height="4.2" fill="#000"/>
<rect x="517.80" y="782.00" width="4.2" height="4.2" fill="#000"/>
<rect x="529.39" y="782.00" width="4.2" height="4.2" fill="#000"/>
<rect x="540.98" y="782.00" width="4.2" height="4.2" fill="#000"/>
<rect x="552.57" y="782.00" width="4.2" height="4.2" fill="#000"/>
<rect x="564.16" y="782.00" width="4.2" height="4.2" fill="#000"/>
<rect x="575.75" y="782.00" width="4.2" height="4.2" fill="#000"/>
<rect x="587.34" y="782.00" width="4.2" height="4.2" fill="#000"/>
<rect x="598.93" y="782.00" width="4.2" height="4.2" fill="#000"/>
<rect x="610.52" y="782.00" width="4.2" height="4.2" fill="#000"/>
<rect x="622.11" y="782.00" width="4.2" height="4.2" fill="#000"/>
</svg></body></html>
